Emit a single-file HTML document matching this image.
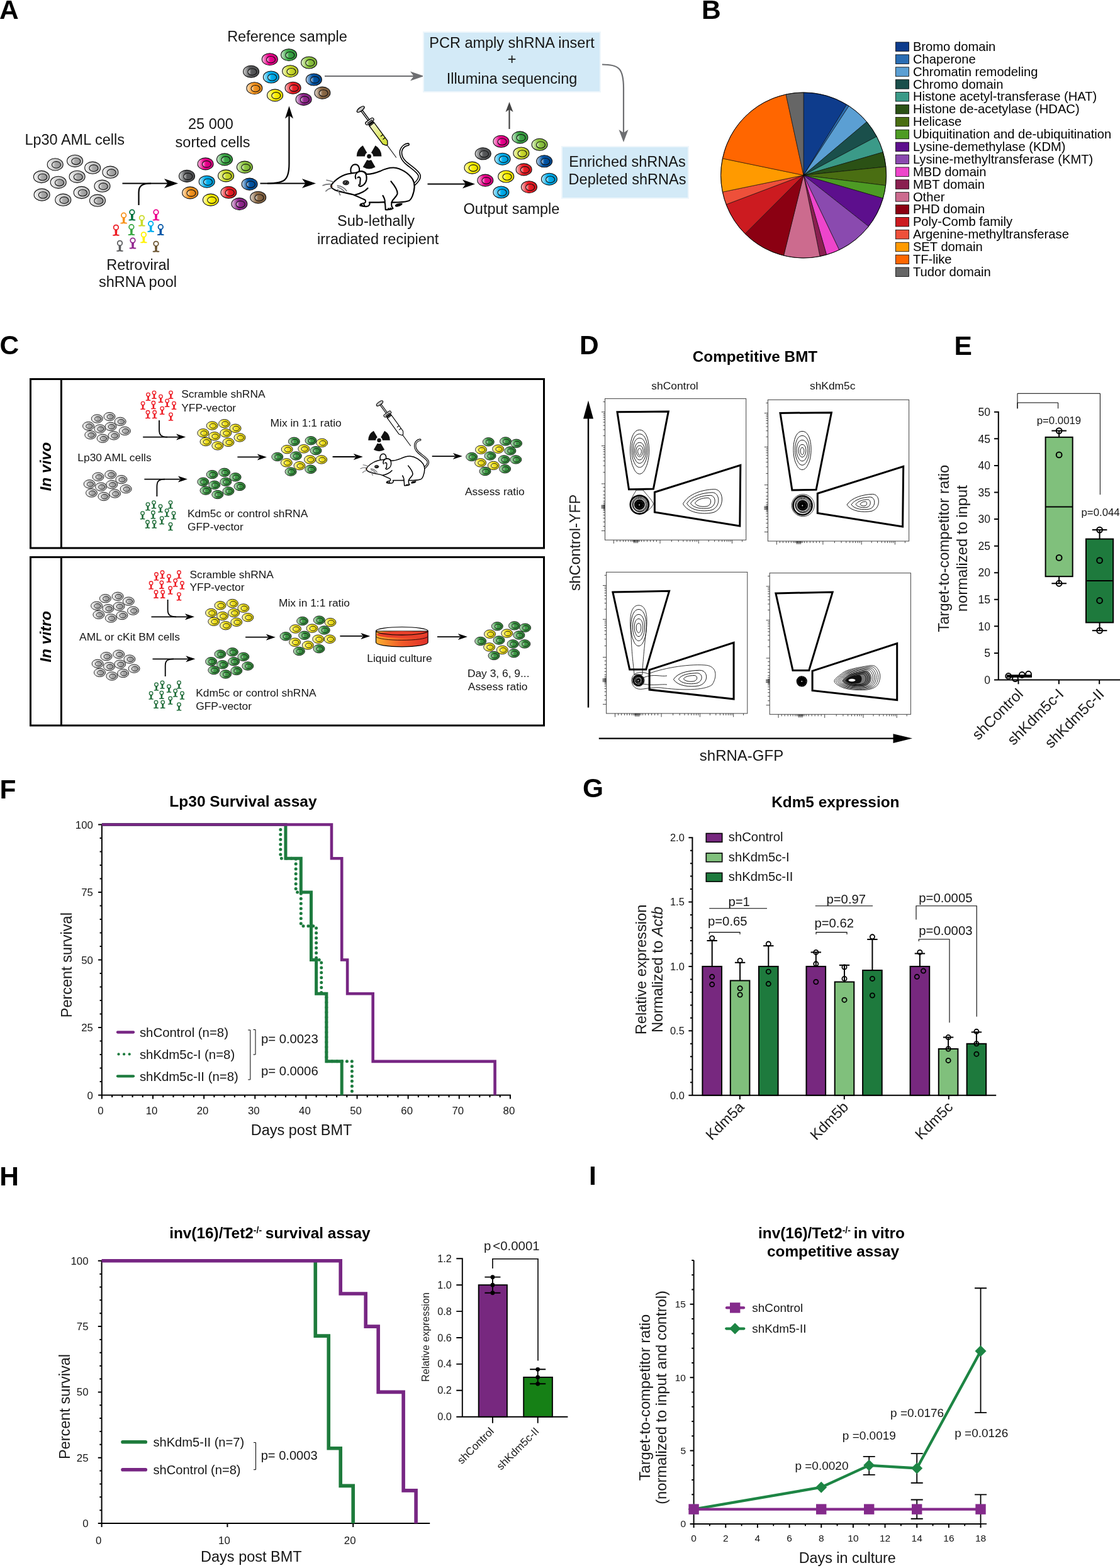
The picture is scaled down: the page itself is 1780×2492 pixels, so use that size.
<!DOCTYPE html>
<html><head><meta charset="utf-8"><title>Figure</title>
<style>html,body{margin:0;padding:0;background:#fff;} svg{display:block;}</style></head>
<body><svg width="1780" height="2492" viewBox="0 0 1780 2492" font-family="'Liberation Sans', Arial, Helvetica, sans-serif">
<rect width="1780" height="2492" fill="#fff"/>
<defs><linearGradient id="g0" x1="0" y1="0" x2="1" y2="0"><stop offset="0" stop-color="#f4f4f4"/><stop offset="0.4" stop-color="#d2d2d2"/><stop offset="1" stop-color="#b9b9b9"/></linearGradient><linearGradient id="g1" x1="0" y1="0" x2="1" y2="0"><stop offset="0" stop-color="#eaeaea"/><stop offset="0.4" stop-color="#a9a9a9"/><stop offset="1" stop-color="#959595"/></linearGradient><linearGradient id="g2" x1="0" y1="0" x2="1" y2="0"><stop offset="0" stop-color="#fabfe2"/><stop offset="0.4" stop-color="#ec008c"/><stop offset="1" stop-color="#d0007b"/></linearGradient><linearGradient id="g3" x1="0" y1="0" x2="1" y2="0"><stop offset="0" stop-color="#cee9d0"/><stop offset="0.4" stop-color="#3aa745"/><stop offset="1" stop-color="#33933d"/></linearGradient><linearGradient id="g4" x1="0" y1="0" x2="1" y2="0"><stop offset="0" stop-color="#e2f1cf"/><stop offset="0.4" stop-color="#8dc63f"/><stop offset="1" stop-color="#7cae37"/></linearGradient><linearGradient id="g5" x1="0" y1="0" x2="1" y2="0"><stop offset="0" stop-color="#d5d6d6"/><stop offset="0.4" stop-color="#58595b"/><stop offset="1" stop-color="#4d4e50"/></linearGradient><linearGradient id="g6" x1="0" y1="0" x2="1" y2="0"><stop offset="0" stop-color="#bfebfb"/><stop offset="0.4" stop-color="#00aeef"/><stop offset="1" stop-color="#0099d2"/></linearGradient><linearGradient id="g7" x1="0" y1="0" x2="1" y2="0"><stop offset="0" stop-color="#f2f6ca"/><stop offset="0.4" stop-color="#cbdb2a"/><stop offset="1" stop-color="#b3c125"/></linearGradient><linearGradient id="g8" x1="0" y1="0" x2="1" y2="0"><stop offset="0" stop-color="#bfd4e9"/><stop offset="0.4" stop-color="#0054a6"/><stop offset="1" stop-color="#004a92"/></linearGradient><linearGradient id="g9" x1="0" y1="0" x2="1" y2="0"><stop offset="0" stop-color="#fde4c6"/><stop offset="0.4" stop-color="#f7941d"/><stop offset="1" stop-color="#d9821a"/></linearGradient><linearGradient id="g10" x1="0" y1="0" x2="1" y2="0"><stop offset="0" stop-color="#fac6c8"/><stop offset="0.4" stop-color="#ed1c24"/><stop offset="1" stop-color="#d11920"/></linearGradient><linearGradient id="g11" x1="0" y1="0" x2="1" y2="0"><stop offset="0" stop-color="#fffcbf"/><stop offset="0.4" stop-color="#fff200"/><stop offset="1" stop-color="#e0d500"/></linearGradient><linearGradient id="g12" x1="0" y1="0" x2="1" y2="0"><stop offset="0" stop-color="#e4c9e3"/><stop offset="0.4" stop-color="#92278f"/><stop offset="1" stop-color="#80227e"/></linearGradient><linearGradient id="g13" x1="0" y1="0" x2="1" y2="0"><stop offset="0" stop-color="#e2dad1"/><stop offset="0.4" stop-color="#8c6a46"/><stop offset="1" stop-color="#7b5d3e"/></linearGradient><linearGradient id="g14" x1="0" y1="0" x2="1" y2="0"><stop offset="0" stop-color="#fcf8c6"/><stop offset="0.4" stop-color="#f4e31c"/><stop offset="1" stop-color="#d7c819"/></linearGradient><linearGradient id="g15" x1="0" y1="0" x2="1" y2="0"><stop offset="0" stop-color="#cee6d0"/><stop offset="0.4" stop-color="#3c9a44"/><stop offset="1" stop-color="#35883c"/></linearGradient><linearGradient id="syr" x1="0" y1="0" x2="1" y2="0"><stop offset="0" stop-color="#f4f7c8"/><stop offset="1" stop-color="#cfdc2c"/></linearGradient><linearGradient id="dish" x1="0" y1="0" x2="1" y2="0"><stop offset="0" stop-color="#fbb030"/><stop offset="0.5" stop-color="#f15a29"/><stop offset="1" stop-color="#e0302a"/></linearGradient></defs>
<text x="-1.0" y="29.8" font-size="42.5" font-weight="bold" fill="#000">A</text>
<text x="39.4" y="229.9" font-size="23.5" fill="#151515">Lp30 AML cells</text>
<ellipse cx="87.7" cy="261.4" rx="12.5" ry="9.6" fill="url(#g0)" stroke="#111" stroke-width="1.1"/>
<ellipse cx="89.5" cy="261.9" rx="7.00" ry="5.28" fill="url(#g1)" stroke="#111" stroke-width="1.1"/>
<ellipse cx="119.1" cy="255.8" rx="12.5" ry="9.6" fill="url(#g0)" stroke="#111" stroke-width="1.1"/>
<ellipse cx="120.8" cy="256.3" rx="7.00" ry="5.28" fill="url(#g1)" stroke="#111" stroke-width="1.1"/>
<ellipse cx="147.2" cy="266.7" rx="12.5" ry="9.6" fill="url(#g0)" stroke="#111" stroke-width="1.1"/>
<ellipse cx="148.9" cy="267.2" rx="7.00" ry="5.28" fill="url(#g1)" stroke="#111" stroke-width="1.1"/>
<ellipse cx="175.4" cy="273.7" rx="12.5" ry="9.6" fill="url(#g0)" stroke="#111" stroke-width="1.1"/>
<ellipse cx="177.2" cy="274.2" rx="7.00" ry="5.28" fill="url(#g1)" stroke="#111" stroke-width="1.1"/>
<ellipse cx="65.9" cy="281.0" rx="12.5" ry="9.6" fill="url(#g0)" stroke="#111" stroke-width="1.1"/>
<ellipse cx="67.7" cy="281.5" rx="7.00" ry="5.28" fill="url(#g1)" stroke="#111" stroke-width="1.1"/>
<ellipse cx="92.7" cy="289.8" rx="12.5" ry="9.6" fill="url(#g0)" stroke="#111" stroke-width="1.1"/>
<ellipse cx="94.5" cy="290.3" rx="7.00" ry="5.28" fill="url(#g1)" stroke="#111" stroke-width="1.1"/>
<ellipse cx="122.6" cy="280.8" rx="12.5" ry="9.6" fill="url(#g0)" stroke="#111" stroke-width="1.1"/>
<ellipse cx="124.3" cy="281.3" rx="7.00" ry="5.28" fill="url(#g1)" stroke="#111" stroke-width="1.1"/>
<ellipse cx="162.5" cy="295.7" rx="12.5" ry="9.6" fill="url(#g0)" stroke="#111" stroke-width="1.1"/>
<ellipse cx="164.2" cy="296.2" rx="7.00" ry="5.28" fill="url(#g1)" stroke="#111" stroke-width="1.1"/>
<ellipse cx="66.6" cy="309.5" rx="12.5" ry="9.6" fill="url(#g0)" stroke="#111" stroke-width="1.1"/>
<ellipse cx="68.3" cy="310.0" rx="7.00" ry="5.28" fill="url(#g1)" stroke="#111" stroke-width="1.1"/>
<ellipse cx="100.3" cy="317.7" rx="12.5" ry="9.6" fill="url(#g0)" stroke="#111" stroke-width="1.1"/>
<ellipse cx="102.0" cy="318.2" rx="7.00" ry="5.28" fill="url(#g1)" stroke="#111" stroke-width="1.1"/>
<ellipse cx="129.7" cy="306.0" rx="12.5" ry="9.6" fill="url(#g0)" stroke="#111" stroke-width="1.1"/>
<ellipse cx="131.4" cy="306.5" rx="7.00" ry="5.28" fill="url(#g1)" stroke="#111" stroke-width="1.1"/>
<ellipse cx="155.0" cy="318.7" rx="12.5" ry="9.6" fill="url(#g0)" stroke="#111" stroke-width="1.1"/>
<ellipse cx="156.8" cy="319.2" rx="7.00" ry="5.28" fill="url(#g1)" stroke="#111" stroke-width="1.1"/>
<line x1="194.50" y1="291.50" x2="270.00" y2="291.50" stroke="#000" stroke-width="2.2"/>
<path d="M220.5,326 L220.5,306 C220.5,295 226,291.5 240,291.5" stroke="#000" stroke-width="2.2" fill="none"/>
<polygon points="283.00,291.50 261.00,299.00 266.50,291.50 261.00,284.00" fill="#000"/>
<g fill="#f7941d" stroke="none"><circle cx="196.7" cy="342.2" r="3.75" fill="none" stroke="#f7941d" stroke-width="1.80"/><path d="M194.70,345.95 L198.70,345.95 L198.30,352.80 Q198.90,353.70 201.10,353.70 A0.95,0.95 0 0 1 201.10,355.60 L197.60,355.60 L196.70,354.80 L195.80,355.60 L192.30,355.60 A0.95,0.95 0 0 1 192.30,353.70 Q194.50,353.70 195.10,352.80 Z"/></g>
<g fill="#00703c" stroke="none"><circle cx="209.9" cy="337.2" r="3.75" fill="none" stroke="#00703c" stroke-width="1.80"/><path d="M207.90,340.95 L211.90,340.95 L211.50,347.80 Q212.10,348.70 214.30,348.70 A0.95,0.95 0 0 1 214.30,350.60 L210.80,350.60 L209.90,349.80 L209.00,350.60 L205.50,350.60 A0.95,0.95 0 0 1 205.50,348.70 Q207.70,348.70 208.30,347.80 Z"/></g>
<g fill="#cbdb2a" stroke="none"><circle cx="225.4" cy="346.3" r="3.75" fill="none" stroke="#cbdb2a" stroke-width="1.80"/><path d="M223.40,350.05 L227.40,350.05 L227.00,356.90 Q227.60,357.80 229.80,357.80 A0.95,0.95 0 0 1 229.80,359.70 L226.30,359.70 L225.40,358.90 L224.50,359.70 L221.00,359.70 A0.95,0.95 0 0 1 221.00,357.80 Q223.20,357.80 223.80,356.90 Z"/></g>
<g fill="#ec008c" stroke="none"><circle cx="248.0" cy="337.2" r="3.75" fill="none" stroke="#ec008c" stroke-width="1.80"/><path d="M246.00,340.95 L250.00,340.95 L249.60,347.80 Q250.20,348.70 252.40,348.70 A0.95,0.95 0 0 1 252.40,350.60 L248.90,350.60 L248.00,349.80 L247.10,350.60 L243.60,350.60 A0.95,0.95 0 0 1 243.60,348.70 Q245.80,348.70 246.40,347.80 Z"/></g>
<g fill="#ed1c24" stroke="none"><circle cx="184.4" cy="361.4" r="3.75" fill="none" stroke="#ed1c24" stroke-width="1.80"/><path d="M182.40,365.15 L186.40,365.15 L186.00,372.00 Q186.60,372.90 188.80,372.90 A0.95,0.95 0 0 1 188.80,374.80 L185.30,374.80 L184.40,374.00 L183.50,374.80 L180.00,374.80 A0.95,0.95 0 0 1 180.00,372.90 Q182.20,372.90 182.80,372.00 Z"/></g>
<g fill="#39a843" stroke="none"><circle cx="208.9" cy="360.7" r="3.75" fill="none" stroke="#39a843" stroke-width="1.80"/><path d="M206.90,364.45 L210.90,364.45 L210.50,371.30 Q211.10,372.20 213.30,372.20 A0.95,0.95 0 0 1 213.30,374.10 L209.80,374.10 L208.90,373.30 L208.00,374.10 L204.50,374.10 A0.95,0.95 0 0 1 204.50,372.20 Q206.70,372.20 207.30,371.30 Z"/></g>
<g fill="#00aeef" stroke="none"><circle cx="239.7" cy="355.5" r="3.75" fill="none" stroke="#00aeef" stroke-width="1.80"/><path d="M237.70,359.25 L241.70,359.25 L241.30,366.10 Q241.90,367.00 244.10,367.00 A0.95,0.95 0 0 1 244.10,368.90 L240.60,368.90 L239.70,368.10 L238.80,368.90 L235.30,368.90 A0.95,0.95 0 0 1 235.30,367.00 Q237.50,367.00 238.10,366.10 Z"/></g>
<g fill="#0054a6" stroke="none"><circle cx="255.3" cy="360.7" r="3.75" fill="none" stroke="#0054a6" stroke-width="1.80"/><path d="M253.30,364.45 L257.30,364.45 L256.90,371.30 Q257.50,372.20 259.70,372.20 A0.95,0.95 0 0 1 259.70,374.10 L256.20,374.10 L255.30,373.30 L254.40,374.10 L250.90,374.10 A0.95,0.95 0 0 1 250.90,372.20 Q253.10,372.20 253.70,371.30 Z"/></g>
<g fill="#fff200" stroke="none"><circle cx="228.4" cy="372.9" r="3.75" fill="none" stroke="#fff200" stroke-width="1.80"/><path d="M226.40,376.65 L230.40,376.65 L230.00,383.50 Q230.60,384.40 232.80,384.40 A0.95,0.95 0 0 1 232.80,386.30 L229.30,386.30 L228.40,385.50 L227.50,386.30 L224.00,386.30 A0.95,0.95 0 0 1 224.00,384.40 Q226.20,384.40 226.80,383.50 Z"/></g>
<g fill="#92278f" stroke="none"><circle cx="211.0" cy="382.1" r="3.75" fill="none" stroke="#92278f" stroke-width="1.80"/><path d="M209.00,385.85 L213.00,385.85 L212.60,392.70 Q213.20,393.60 215.40,393.60 A0.95,0.95 0 0 1 215.40,395.50 L211.90,395.50 L211.00,394.70 L210.10,395.50 L206.60,395.50 A0.95,0.95 0 0 1 206.60,393.60 Q208.80,393.60 209.40,392.70 Z"/></g>
<g fill="#5d5e60" stroke="none"><circle cx="190.5" cy="386.4" r="3.75" fill="none" stroke="#5d5e60" stroke-width="1.80"/><path d="M188.50,390.15 L192.50,390.15 L192.10,397.00 Q192.70,397.90 194.90,397.90 A0.95,0.95 0 0 1 194.90,399.80 L191.40,399.80 L190.50,399.00 L189.60,399.80 L186.10,399.80 A0.95,0.95 0 0 1 186.10,397.90 Q188.30,397.90 188.90,397.00 Z"/></g>
<g fill="#6b5430" stroke="none"><circle cx="248.0" cy="387.3" r="3.75" fill="none" stroke="#6b5430" stroke-width="1.80"/><path d="M246.00,391.05 L250.00,391.05 L249.60,397.90 Q250.20,398.80 252.40,398.80 A0.95,0.95 0 0 1 252.40,400.70 L248.90,400.70 L248.00,399.90 L247.10,400.70 L243.60,400.70 A0.95,0.95 0 0 1 243.60,398.80 Q245.80,398.80 246.40,397.90 Z"/></g>
<text x="219.5" y="429.0" font-size="23.5" text-anchor="middle" fill="#151515">Retroviral</text>
<text x="219.0" y="456.0" font-size="23.5" text-anchor="middle" fill="#151515">shRNA pool</text>
<text x="335.0" y="205.0" font-size="23.5" text-anchor="middle" fill="#151515">25 000</text>
<text x="338.0" y="234.0" font-size="23.5" text-anchor="middle" fill="#151515">sorted cells</text>
<ellipse cx="326.6" cy="260.4" rx="12.5" ry="9.5" fill="url(#g2)" stroke="#111" stroke-width="1.1"/>
<ellipse cx="328.4" cy="260.9" rx="7.00" ry="5.23" fill="url(#g2)" stroke="#111" stroke-width="1.1"/>
<ellipse cx="357.0" cy="253.4" rx="12.5" ry="9.5" fill="url(#g3)" stroke="#111" stroke-width="1.1"/>
<ellipse cx="358.8" cy="253.9" rx="7.00" ry="5.23" fill="url(#g3)" stroke="#111" stroke-width="1.1"/>
<ellipse cx="388.9" cy="265.6" rx="12.5" ry="9.5" fill="url(#g4)" stroke="#111" stroke-width="1.1"/>
<ellipse cx="390.7" cy="266.1" rx="7.00" ry="5.23" fill="url(#g4)" stroke="#111" stroke-width="1.1"/>
<ellipse cx="297.0" cy="279.9" rx="12.5" ry="9.5" fill="url(#g5)" stroke="#111" stroke-width="1.1"/>
<ellipse cx="298.8" cy="280.4" rx="7.00" ry="5.23" fill="url(#g5)" stroke="#111" stroke-width="1.1"/>
<ellipse cx="328.7" cy="288.7" rx="12.5" ry="9.5" fill="url(#g6)" stroke="#111" stroke-width="1.1"/>
<ellipse cx="330.5" cy="289.2" rx="7.00" ry="5.23" fill="url(#g6)" stroke="#111" stroke-width="1.1"/>
<ellipse cx="359.1" cy="279.4" rx="12.5" ry="9.5" fill="url(#g7)" stroke="#111" stroke-width="1.1"/>
<ellipse cx="360.9" cy="279.9" rx="7.00" ry="5.23" fill="url(#g7)" stroke="#111" stroke-width="1.1"/>
<ellipse cx="396.6" cy="292.6" rx="12.5" ry="9.5" fill="url(#g8)" stroke="#111" stroke-width="1.1"/>
<ellipse cx="398.4" cy="293.1" rx="7.00" ry="5.23" fill="url(#g8)" stroke="#111" stroke-width="1.1"/>
<ellipse cx="302.2" cy="306.4" rx="12.5" ry="9.5" fill="url(#g9)" stroke="#111" stroke-width="1.1"/>
<ellipse cx="304.0" cy="306.9" rx="7.00" ry="5.23" fill="url(#g9)" stroke="#111" stroke-width="1.1"/>
<ellipse cx="363.4" cy="305.8" rx="12.5" ry="9.5" fill="url(#g10)" stroke="#111" stroke-width="1.1"/>
<ellipse cx="365.2" cy="306.3" rx="7.00" ry="5.23" fill="url(#g10)" stroke="#111" stroke-width="1.1"/>
<ellipse cx="334.9" cy="317.6" rx="12.5" ry="9.5" fill="url(#g11)" stroke="#111" stroke-width="1.1"/>
<ellipse cx="336.7" cy="318.1" rx="7.00" ry="5.23" fill="url(#g11)" stroke="#111" stroke-width="1.1"/>
<ellipse cx="380.4" cy="324.1" rx="12.5" ry="9.5" fill="url(#g12)" stroke="#111" stroke-width="1.1"/>
<ellipse cx="382.2" cy="324.6" rx="7.00" ry="5.23" fill="url(#g12)" stroke="#111" stroke-width="1.1"/>
<ellipse cx="410.2" cy="313.7" rx="12.5" ry="9.5" fill="url(#g13)" stroke="#111" stroke-width="1.1"/>
<ellipse cx="412.0" cy="314.2" rx="7.00" ry="5.23" fill="url(#g13)" stroke="#111" stroke-width="1.1"/>
<line x1="413.50" y1="291.50" x2="488.00" y2="291.50" stroke="#000" stroke-width="2.2"/>
<polygon points="502.00,291.50 480.00,299.00 485.50,291.50 480.00,284.00" fill="#000"/>
<path d="M425,291.5 C452,291.5 459.5,287 459.5,260 L459.5,180" stroke="#000" stroke-width="2.2" fill="none"/>
<polygon points="459.50,168.50 466.00,188.50 459.50,183.50 453.00,188.50" fill="#000"/>
<text x="456.5" y="66.0" font-size="23.5" text-anchor="middle" fill="#151515">Reference sample</text>
<ellipse cx="428.8" cy="94.2" rx="12.5" ry="9.5" fill="url(#g2)" stroke="#111" stroke-width="1.1"/>
<ellipse cx="430.5" cy="94.7" rx="7.00" ry="5.23" fill="url(#g2)" stroke="#111" stroke-width="1.1"/>
<ellipse cx="459.1" cy="87.2" rx="12.5" ry="9.5" fill="url(#g3)" stroke="#111" stroke-width="1.1"/>
<ellipse cx="460.9" cy="87.7" rx="7.00" ry="5.23" fill="url(#g3)" stroke="#111" stroke-width="1.1"/>
<ellipse cx="491.1" cy="99.5" rx="12.5" ry="9.5" fill="url(#g4)" stroke="#111" stroke-width="1.1"/>
<ellipse cx="492.8" cy="99.9" rx="7.00" ry="5.23" fill="url(#g4)" stroke="#111" stroke-width="1.1"/>
<ellipse cx="399.1" cy="113.8" rx="12.5" ry="9.5" fill="url(#g5)" stroke="#111" stroke-width="1.1"/>
<ellipse cx="400.9" cy="114.2" rx="7.00" ry="5.23" fill="url(#g5)" stroke="#111" stroke-width="1.1"/>
<ellipse cx="430.9" cy="122.5" rx="12.5" ry="9.5" fill="url(#g6)" stroke="#111" stroke-width="1.1"/>
<ellipse cx="432.6" cy="123.0" rx="7.00" ry="5.23" fill="url(#g6)" stroke="#111" stroke-width="1.1"/>
<ellipse cx="461.2" cy="113.2" rx="12.5" ry="9.5" fill="url(#g7)" stroke="#111" stroke-width="1.1"/>
<ellipse cx="463.0" cy="113.7" rx="7.00" ry="5.23" fill="url(#g7)" stroke="#111" stroke-width="1.1"/>
<ellipse cx="498.8" cy="126.5" rx="12.5" ry="9.5" fill="url(#g8)" stroke="#111" stroke-width="1.1"/>
<ellipse cx="500.5" cy="126.9" rx="7.00" ry="5.23" fill="url(#g8)" stroke="#111" stroke-width="1.1"/>
<ellipse cx="404.4" cy="140.2" rx="12.5" ry="9.5" fill="url(#g9)" stroke="#111" stroke-width="1.1"/>
<ellipse cx="406.1" cy="140.7" rx="7.00" ry="5.23" fill="url(#g9)" stroke="#111" stroke-width="1.1"/>
<ellipse cx="465.6" cy="139.7" rx="12.5" ry="9.5" fill="url(#g10)" stroke="#111" stroke-width="1.1"/>
<ellipse cx="467.3" cy="140.1" rx="7.00" ry="5.23" fill="url(#g10)" stroke="#111" stroke-width="1.1"/>
<ellipse cx="437.1" cy="151.4" rx="12.5" ry="9.5" fill="url(#g11)" stroke="#111" stroke-width="1.1"/>
<ellipse cx="438.8" cy="151.9" rx="7.00" ry="5.23" fill="url(#g11)" stroke="#111" stroke-width="1.1"/>
<ellipse cx="482.6" cy="157.9" rx="12.5" ry="9.5" fill="url(#g12)" stroke="#111" stroke-width="1.1"/>
<ellipse cx="484.3" cy="158.4" rx="7.00" ry="5.23" fill="url(#g12)" stroke="#111" stroke-width="1.1"/>
<ellipse cx="512.4" cy="147.6" rx="12.5" ry="9.5" fill="url(#g13)" stroke="#111" stroke-width="1.1"/>
<ellipse cx="514.1" cy="148.0" rx="7.00" ry="5.23" fill="url(#g13)" stroke="#111" stroke-width="1.1"/>
<line x1="516.00" y1="121.00" x2="660.00" y2="121.00" stroke="#6d6e71" stroke-width="2.2"/>
<polygon points="674.00,121.00 652.00,128.50 657.50,121.00 652.00,113.50" fill="#6d6e71"/>
<g transform="translate(505.00,160.00) scale(0.10776)" stroke-linecap="round" stroke-linejoin="round">
<path d="M1418,1240 C1470,1195 1512,1150 1498,1100 C1480,1040 1380,985 1300,915 C1240,860 1215,790 1228,735 C1245,680 1290,650 1332,645" fill="none" stroke="#000" stroke-width="44.8"/>
<path d="M1418,1240 C1470,1195 1512,1150 1498,1100 C1480,1040 1380,985 1300,915 C1240,860 1215,790 1228,735 C1245,680 1290,650 1332,645" fill="none" stroke="#fff" stroke-width="15.6"/>
<path d="M492,1068 C470,990 510,940 555,940 C600,942 622,990 612,1035 C600,1070 560,1075 492,1068 Z" fill="#fff" stroke="#000" stroke-width="19.5"/>
<path d="M195,1255 C230,1190 330,1110 440,1082 C480,1072 520,1066 560,1062 L600,1050 C640,1030 700,1045 718,1085 C780,1085 850,1070 920,1040 C990,1005 1060,985 1120,988 C1230,995 1340,1070 1400,1160 C1440,1230 1425,1330 1395,1410 C1375,1455 1350,1480 1330,1480 C1280,1495 1200,1500 1120,1500 L1090,1500 C1085,1530 1090,1570 1110,1590 C1080,1605 1030,1610 1000,1608 C995,1570 1000,1520 985,1495 C930,1500 850,1500 760,1500 C775,1525 760,1555 720,1560 C690,1562 650,1556 625,1548 C620,1530 640,1515 690,1510 C715,1495 705,1470 695,1462 C620,1430 560,1400 520,1385 C440,1365 330,1345 260,1320 C220,1300 190,1280 195,1255 Z" fill="#fff" stroke="#000" stroke-width="19.5"/>
<path d="M560,1150 C545,1110 560,1070 600,1050 C650,1030 705,1050 718,1110 C730,1180 700,1240 640,1262 C615,1268 600,1255 608,1238" fill="#fff" stroke="#000" stroke-width="19.5"/>
<path d="M590,1135 C605,1120 625,1125 628,1150 C630,1180 618,1210 625,1235" fill="none" stroke="#000" stroke-width="19.5"/>
<path d="M545,1390 C630,1370 700,1335 738,1290" fill="none" stroke="#000" stroke-width="19.5"/>
<path d="M1080,1190 C1130,1250 1180,1320 1175,1370 C1165,1420 1110,1440 1090,1500" fill="none" stroke="#000" stroke-width="19.5"/>
<path d="M960,1400 C985,1440 995,1470 990,1500" fill="none" stroke="#000" stroke-width="19.5"/>
<path d="M640,1530 L660,1550 M680,1528 L690,1552 M1040,1590 L1060,1605 M1070,1585 L1085,1600" fill="none" stroke="#000" stroke-width="19.5"/>
<ellipse cx="415" cy="1210" rx="42" ry="30" fill="#555" stroke="#000" stroke-width="11.7"/>
<ellipse cx="415" cy="1210" rx="22" ry="17" fill="#000"/><circle cx="410" cy="1205" r="7" fill="#fff"/>
<ellipse cx="205" cy="1262" rx="14" ry="10" fill="#5a2a10"/>
<path d="M1140,1545 C1150,1518 1215,1508 1250,1516 C1252,1540 1210,1565 1160,1565 C1146,1565 1138,1556 1140,1545 Z" fill="#000"/>
<path d="M75,1250 C110,1235 150,1228 190,1232" fill="none" stroke="#6d6e71" stroke-width="14.6"/>
<path d="M130,1172 C170,1178 205,1190 232,1200" fill="none" stroke="#6d6e71" stroke-width="14.6"/>
<path d="M120,1335 C140,1310 165,1298 198,1290" fill="none" stroke="#6d6e71" stroke-width="14.6"/>
<path d="M290,1252 C350,1260 400,1290 425,1332" fill="none" stroke="#6d6e71" stroke-width="14.6"/>
<path d="M295,1275 C340,1290 375,1315 395,1345" fill="none" stroke="#6d6e71" stroke-width="14.6"/>
<path d="M295,1310 C310,1340 320,1365 330,1392" fill="none" stroke="#6d6e71" stroke-width="14.6"/>
</g>
<path d="M589.90,254.12 L596.50,265.55 A19.8,19.8 0 0 1 576.70,265.55 L583.30,254.12 A6.6,6.6 0 0 0 589.90,254.12 Z M580.00,248.40 L566.80,248.40 A19.8,19.8 0 0 1 576.70,231.25 L583.30,242.68 A6.6,6.6 0 0 0 580.00,248.40 Z M589.90,242.68 L596.50,231.25 A19.8,19.8 0 0 1 606.40,248.40 L593.20,248.40 A6.6,6.6 0 0 0 589.90,242.68 Z" fill="#111"/>
<circle cx="586.6" cy="248.4" r="3.4" fill="#111"/>
<g transform="translate(572.30,172.40) rotate(53.60) scale(1.0000)" stroke="#000" stroke-width="1.30" stroke-linejoin="round">
<line x1="72" y1="0" x2="97" y2="0" stroke-width="1.00"/>
<rect x="2" y="-1.3" width="26" height="2.6" fill="#e6e6e6"/>
<path d="M30,-4.6 L67,-4.6 L72,-1.2 L72,1.2 L67,4.6 L30,4.6 Z" fill="url(#syr)"/>
<line x1="55" y1="-4.6" x2="55" y2="0"/><line x1="61" y1="-4.6" x2="61" y2="0"/>
<path d="M29,-4.8 L29,4.8 M31.5,-4.6 L31.5,4.6" fill="none"/>
<rect x="23" y="-7.5" width="5" height="15" rx="2.5" fill="#fff"/>
<rect x="25" y="-5" width="2" height="10" fill="#333" stroke="none"/>
<ellipse cx="1.5" cy="0" rx="2.8" ry="7" fill="#c8c8c8"/>
</g>
<text x="597.5" y="359.0" font-size="23.5" text-anchor="middle" fill="#151515">Sub-lethally</text>
<text x="600.7" y="387.5" font-size="23.5" text-anchor="middle" fill="#151515">irradiated recipient</text>
<line x1="679.50" y1="292.50" x2="742.00" y2="292.50" stroke="#000" stroke-width="2.2"/>
<polygon points="755.00,292.50 735.00,299.50 740.00,292.50 735.00,285.50" fill="#000"/>
<ellipse cx="796.4" cy="224.8" rx="12.5" ry="9.5" fill="url(#g2)" stroke="#111" stroke-width="1.1"/>
<ellipse cx="798.1" cy="225.3" rx="7.00" ry="5.23" fill="url(#g2)" stroke="#111" stroke-width="1.1"/>
<ellipse cx="826.4" cy="218.4" rx="12.5" ry="9.5" fill="url(#g3)" stroke="#111" stroke-width="1.1"/>
<ellipse cx="828.1" cy="218.9" rx="7.00" ry="5.23" fill="url(#g3)" stroke="#111" stroke-width="1.1"/>
<ellipse cx="857.6" cy="229.8" rx="12.5" ry="9.5" fill="url(#g4)" stroke="#111" stroke-width="1.1"/>
<ellipse cx="859.4" cy="230.3" rx="7.00" ry="5.23" fill="url(#g4)" stroke="#111" stroke-width="1.1"/>
<ellipse cx="767.7" cy="244.3" rx="12.5" ry="9.5" fill="url(#g5)" stroke="#111" stroke-width="1.1"/>
<ellipse cx="769.5" cy="244.8" rx="7.00" ry="5.23" fill="url(#g5)" stroke="#111" stroke-width="1.1"/>
<ellipse cx="798.6" cy="252.7" rx="12.5" ry="9.5" fill="url(#g6)" stroke="#111" stroke-width="1.1"/>
<ellipse cx="800.4" cy="253.2" rx="7.00" ry="5.23" fill="url(#g6)" stroke="#111" stroke-width="1.1"/>
<ellipse cx="828.4" cy="243.5" rx="12.5" ry="9.5" fill="url(#g7)" stroke="#111" stroke-width="1.1"/>
<ellipse cx="830.1" cy="244.0" rx="7.00" ry="5.23" fill="url(#g7)" stroke="#111" stroke-width="1.1"/>
<ellipse cx="865.1" cy="256.3" rx="12.5" ry="9.5" fill="url(#g8)" stroke="#111" stroke-width="1.1"/>
<ellipse cx="866.9" cy="256.8" rx="7.00" ry="5.23" fill="url(#g8)" stroke="#111" stroke-width="1.1"/>
<ellipse cx="750.5" cy="266.6" rx="12.5" ry="9.5" fill="url(#g11)" stroke="#111" stroke-width="1.1"/>
<ellipse cx="752.2" cy="267.1" rx="7.00" ry="5.23" fill="url(#g11)" stroke="#111" stroke-width="1.1"/>
<ellipse cx="832.6" cy="269.4" rx="12.5" ry="9.5" fill="url(#g10)" stroke="#111" stroke-width="1.1"/>
<ellipse cx="834.4" cy="269.9" rx="7.00" ry="5.23" fill="url(#g10)" stroke="#111" stroke-width="1.1"/>
<ellipse cx="771.3" cy="286.6" rx="12.5" ry="9.5" fill="url(#g2)" stroke="#111" stroke-width="1.1"/>
<ellipse cx="773.0" cy="287.1" rx="7.00" ry="5.23" fill="url(#g2)" stroke="#111" stroke-width="1.1"/>
<ellipse cx="804.2" cy="280.5" rx="12.5" ry="9.5" fill="url(#g11)" stroke="#111" stroke-width="1.1"/>
<ellipse cx="806.0" cy="281.0" rx="7.00" ry="5.23" fill="url(#g11)" stroke="#111" stroke-width="1.1"/>
<ellipse cx="872.9" cy="284.7" rx="12.5" ry="9.5" fill="url(#g6)" stroke="#111" stroke-width="1.1"/>
<ellipse cx="874.6" cy="285.2" rx="7.00" ry="5.23" fill="url(#g6)" stroke="#111" stroke-width="1.1"/>
<ellipse cx="796.4" cy="305.5" rx="12.5" ry="9.5" fill="url(#g6)" stroke="#111" stroke-width="1.1"/>
<ellipse cx="798.1" cy="306.0" rx="7.00" ry="5.23" fill="url(#g6)" stroke="#111" stroke-width="1.1"/>
<ellipse cx="840.9" cy="297.2" rx="12.5" ry="9.5" fill="url(#g10)" stroke="#111" stroke-width="1.1"/>
<ellipse cx="842.6" cy="297.7" rx="7.00" ry="5.23" fill="url(#g10)" stroke="#111" stroke-width="1.1"/>
<text x="813.0" y="340.3" font-size="23.5" text-anchor="middle" fill="#151515">Output sample</text>
<line x1="809.50" y1="205.00" x2="809.50" y2="172.00" stroke="#444" stroke-width="2.2"/>
<polygon points="809.50,162.00 815.50,178.00 809.50,174.00 803.50,178.00" fill="#444"/>
<rect x="673" y="51" width="281" height="95" fill="#d3eaf7" stroke="#eef6fb" stroke-width="2"/>
<text x="813.5" y="76.0" font-size="23.5" text-anchor="middle" fill="#151515">PCR amply shRNA insert</text>
<text x="813.5" y="102.0" font-size="23.5" text-anchor="middle" fill="#151515">+</text>
<text x="813.5" y="133.0" font-size="23.5" text-anchor="middle" fill="#151515">Illumina sequencing</text>
<path d="M957,102.5 C983,102.5 991,108 991,140 L991,212" stroke="#6d6e71" stroke-width="2.2" fill="none"/>
<polygon points="991.00,226.00 983.50,206.00 991.00,211.00 998.50,206.00" fill="#6d6e71"/>
<rect x="893" y="233" width="201" height="82" fill="#d3eaf7" stroke="#eef6fb" stroke-width="2"/>
<text x="997.0" y="264.6" font-size="23.5" text-anchor="middle" fill="#151515">Enriched shRNAs</text>
<text x="997.0" y="293.0" font-size="23.5" text-anchor="middle" fill="#151515">Depleted shRNAs</text>
<text x="1115.0" y="29.8" font-size="42.5" font-weight="bold" fill="#000">B</text>
<path d="M1277.1,278.5 L1277.10,147.00 A131.5,131.5 0 0 1 1345.61,166.26 Z" fill="#0e3c8c" stroke="#000" stroke-width="0.6"/>
<path d="M1277.1,278.5 L1345.61,166.26 A131.5,131.5 0 0 1 1349.10,168.47 Z" fill="#2a6db3" stroke="#000" stroke-width="0.6"/>
<path d="M1277.1,278.5 L1349.10,168.47 A131.5,131.5 0 0 1 1377.54,193.62 Z" fill="#5b9fd3" stroke="#000" stroke-width="0.6"/>
<path d="M1277.1,278.5 L1377.54,193.62 A131.5,131.5 0 0 1 1393.32,216.97 Z" fill="#1a4f4b" stroke="#000" stroke-width="0.6"/>
<path d="M1277.1,278.5 L1393.32,216.97 A131.5,131.5 0 0 1 1403.38,241.81 Z" fill="#3b9a88" stroke="#000" stroke-width="0.6"/>
<path d="M1277.1,278.5 L1403.38,241.81 A131.5,131.5 0 0 1 1407.90,264.98 Z" fill="#2b5115" stroke="#000" stroke-width="0.6"/>
<path d="M1277.1,278.5 L1407.90,264.98 A131.5,131.5 0 0 1 1407.59,294.75 Z" fill="#4a6e12" stroke="#000" stroke-width="0.6"/>
<path d="M1277.1,278.5 L1407.59,294.75 A131.5,131.5 0 0 1 1403.38,315.19 Z" fill="#4d9b24" stroke="#000" stroke-width="0.6"/>
<path d="M1277.1,278.5 L1403.38,315.19 A131.5,131.5 0 0 1 1380.44,359.82 Z" fill="#5d0f8d" stroke="#000" stroke-width="0.6"/>
<path d="M1277.1,278.5 L1380.44,359.82 A131.5,131.5 0 0 1 1333.71,397.19 Z" fill="#8a4aaf" stroke="#000" stroke-width="0.6"/>
<path d="M1277.1,278.5 L1333.71,397.19 A131.5,131.5 0 0 1 1313.57,404.84 Z" fill="#ee45cb" stroke="#000" stroke-width="0.6"/>
<path d="M1277.1,278.5 L1313.57,404.84 A131.5,131.5 0 0 1 1303.09,407.41 Z" fill="#8a2050" stroke="#000" stroke-width="0.6"/>
<path d="M1277.1,278.5 L1303.09,407.41 A131.5,131.5 0 0 1 1245.51,406.15 Z" fill="#cc6b8e" stroke="#000" stroke-width="0.6"/>
<path d="M1277.1,278.5 L1245.51,406.15 A131.5,131.5 0 0 1 1184.12,371.48 Z" fill="#8b0012" stroke="#000" stroke-width="0.6"/>
<path d="M1277.1,278.5 L1184.12,371.48 A131.5,131.5 0 0 1 1154.09,324.98 Z" fill="#cc1b20" stroke="#000" stroke-width="0.6"/>
<path d="M1277.1,278.5 L1154.09,324.98 A131.5,131.5 0 0 1 1148.33,305.17 Z" fill="#ee503a" stroke="#000" stroke-width="0.6"/>
<path d="M1277.1,278.5 L1148.33,305.17 A131.5,131.5 0 0 1 1148.33,251.83 Z" fill="#ff9a00" stroke="#000" stroke-width="0.6"/>
<path d="M1277.1,278.5 L1148.33,251.83 A131.5,131.5 0 0 1 1249.09,150.02 Z" fill="#ff6600" stroke="#000" stroke-width="0.6"/>
<path d="M1277.1,278.5 L1249.09,150.02 A131.5,131.5 0 0 1 1277.10,147.00 Z" fill="#666666" stroke="#000" stroke-width="0.6"/>
<circle cx="1277.1" cy="278.5" r="131.5" fill="none" stroke="#000" stroke-width="0.9"/>
<rect x="1423.5" y="67.00" width="21" height="14.5" fill="#0e3c8c" stroke="#000" stroke-width="0.8"/>
<text x="1450.9" y="80.8" font-size="20.2" fill="#000">Bromo domain</text>
<rect x="1423.5" y="86.89" width="21" height="14.5" fill="#2a6db3" stroke="#000" stroke-width="0.8"/>
<text x="1450.9" y="100.7" font-size="20.2" fill="#000">Chaperone</text>
<rect x="1423.5" y="106.78" width="21" height="14.5" fill="#5b9fd3" stroke="#000" stroke-width="0.8"/>
<text x="1450.9" y="120.6" font-size="20.2" fill="#000">Chromatin remodeling</text>
<rect x="1423.5" y="126.67" width="21" height="14.5" fill="#1a4f4b" stroke="#000" stroke-width="0.8"/>
<text x="1450.9" y="140.5" font-size="20.2" fill="#000">Chromo domain</text>
<rect x="1423.5" y="146.56" width="21" height="14.5" fill="#3b9a88" stroke="#000" stroke-width="0.8"/>
<text x="1450.9" y="160.4" font-size="20.2" fill="#000">Histone acetyl-transferase (HAT)</text>
<rect x="1423.5" y="166.45" width="21" height="14.5" fill="#2b5115" stroke="#000" stroke-width="0.8"/>
<text x="1450.9" y="180.2" font-size="20.2" fill="#000">Histone de-acetylase (HDAC)</text>
<rect x="1423.5" y="186.34" width="21" height="14.5" fill="#4a6e12" stroke="#000" stroke-width="0.8"/>
<text x="1450.9" y="200.1" font-size="20.2" fill="#000">Helicase</text>
<rect x="1423.5" y="206.23" width="21" height="14.5" fill="#4d9b24" stroke="#000" stroke-width="0.8"/>
<text x="1450.9" y="220.0" font-size="20.2" fill="#000">Ubiquitination and de-ubiquitination</text>
<rect x="1423.5" y="226.12" width="21" height="14.5" fill="#5d0f8d" stroke="#000" stroke-width="0.8"/>
<text x="1450.9" y="239.9" font-size="20.2" fill="#000">Lysine-demethylase (KDM)</text>
<rect x="1423.5" y="246.01" width="21" height="14.5" fill="#8a4aaf" stroke="#000" stroke-width="0.8"/>
<text x="1450.9" y="259.8" font-size="20.2" fill="#000">Lysine-methyltransferase (KMT)</text>
<rect x="1423.5" y="265.90" width="21" height="14.5" fill="#ee45cb" stroke="#000" stroke-width="0.8"/>
<text x="1450.9" y="279.7" font-size="20.2" fill="#000">MBD domain</text>
<rect x="1423.5" y="285.79" width="21" height="14.5" fill="#8a2050" stroke="#000" stroke-width="0.8"/>
<text x="1450.9" y="299.6" font-size="20.2" fill="#000">MBT domain</text>
<rect x="1423.5" y="305.68" width="21" height="14.5" fill="#cc6b8e" stroke="#000" stroke-width="0.8"/>
<text x="1450.9" y="319.5" font-size="20.2" fill="#000">Other</text>
<rect x="1423.5" y="325.57" width="21" height="14.5" fill="#8b0012" stroke="#000" stroke-width="0.8"/>
<text x="1450.9" y="339.4" font-size="20.2" fill="#000">PHD domain</text>
<rect x="1423.5" y="345.46" width="21" height="14.5" fill="#cc1b20" stroke="#000" stroke-width="0.8"/>
<text x="1450.9" y="359.3" font-size="20.2" fill="#000">Poly-Comb family</text>
<rect x="1423.5" y="365.35" width="21" height="14.5" fill="#ee503a" stroke="#000" stroke-width="0.8"/>
<text x="1450.9" y="379.2" font-size="20.2" fill="#000">Argenine-methyltransferase</text>
<rect x="1423.5" y="385.24" width="21" height="14.5" fill="#ff9a00" stroke="#000" stroke-width="0.8"/>
<text x="1450.9" y="399.0" font-size="20.2" fill="#000">SET domain</text>
<rect x="1423.5" y="405.13" width="21" height="14.5" fill="#ff6600" stroke="#000" stroke-width="0.8"/>
<text x="1450.9" y="418.9" font-size="20.2" fill="#000">TF-like</text>
<rect x="1423.5" y="425.02" width="21" height="14.5" fill="#666666" stroke="#000" stroke-width="0.8"/>
<text x="1450.9" y="438.8" font-size="20.2" fill="#000">Tudor domain</text>
<text x="-0.5" y="562.5" font-size="42.5" font-weight="bold" fill="#000">C</text>
<rect x="48.5" y="602.5" width="816" height="268.5" fill="none" stroke="#000" stroke-width="3"/>
<line x1="97.40" y1="602.50" x2="97.40" y2="871.00" stroke="#000" stroke-width="3"/>
<text x="81.5" y="741.7" font-size="24.5" font-weight="bold" font-style="italic" text-anchor="middle" fill="#000" transform="rotate(-90 81.5 741.7)">In vivo</text>
<rect x="48.5" y="885.5" width="816" height="267.5" fill="none" stroke="#000" stroke-width="3"/>
<line x1="97.40" y1="885.50" x2="97.40" y2="1153.00" stroke="#000" stroke-width="3"/>
<text x="81.5" y="1011.9" font-size="24.5" font-weight="bold" font-style="italic" text-anchor="middle" fill="#000" transform="rotate(-90 81.5 1011.9)">In vitro</text>
<ellipse cx="154.3" cy="665.5" rx="9" ry="6.7" fill="url(#g0)" stroke="#111" stroke-width="0.9"/>
<ellipse cx="155.6" cy="665.8" rx="5.04" ry="3.69" fill="url(#g1)" stroke="#111" stroke-width="0.9"/>
<ellipse cx="174.0" cy="662.1" rx="9" ry="6.7" fill="url(#g0)" stroke="#111" stroke-width="0.9"/>
<ellipse cx="175.3" cy="662.4" rx="5.04" ry="3.69" fill="url(#g1)" stroke="#111" stroke-width="0.9"/>
<ellipse cx="191.2" cy="669.9" rx="9" ry="6.7" fill="url(#g0)" stroke="#111" stroke-width="0.9"/>
<ellipse cx="192.5" cy="670.2" rx="5.04" ry="3.69" fill="url(#g1)" stroke="#111" stroke-width="0.9"/>
<ellipse cx="140.5" cy="677.1" rx="9" ry="6.7" fill="url(#g0)" stroke="#111" stroke-width="0.9"/>
<ellipse cx="141.8" cy="677.4" rx="5.04" ry="3.69" fill="url(#g1)" stroke="#111" stroke-width="0.9"/>
<ellipse cx="158.8" cy="681.5" rx="9" ry="6.7" fill="url(#g0)" stroke="#111" stroke-width="0.9"/>
<ellipse cx="160.1" cy="681.8" rx="5.04" ry="3.69" fill="url(#g1)" stroke="#111" stroke-width="0.9"/>
<ellipse cx="176.0" cy="677.9" rx="9" ry="6.7" fill="url(#g0)" stroke="#111" stroke-width="0.9"/>
<ellipse cx="177.3" cy="678.2" rx="5.04" ry="3.69" fill="url(#g1)" stroke="#111" stroke-width="0.9"/>
<ellipse cx="198.4" cy="684.9" rx="9" ry="6.7" fill="url(#g0)" stroke="#111" stroke-width="0.9"/>
<ellipse cx="199.7" cy="685.2" rx="5.04" ry="3.69" fill="url(#g1)" stroke="#111" stroke-width="0.9"/>
<ellipse cx="143.8" cy="691.2" rx="9" ry="6.7" fill="url(#g0)" stroke="#111" stroke-width="0.9"/>
<ellipse cx="145.1" cy="691.5" rx="5.04" ry="3.69" fill="url(#g1)" stroke="#111" stroke-width="0.9"/>
<ellipse cx="163.2" cy="696.8" rx="9" ry="6.7" fill="url(#g0)" stroke="#111" stroke-width="0.9"/>
<ellipse cx="164.5" cy="697.1" rx="5.04" ry="3.69" fill="url(#g1)" stroke="#111" stroke-width="0.9"/>
<ellipse cx="180.9" cy="692.3" rx="9" ry="6.7" fill="url(#g0)" stroke="#111" stroke-width="0.9"/>
<ellipse cx="182.2" cy="692.6" rx="5.04" ry="3.69" fill="url(#g1)" stroke="#111" stroke-width="0.9"/>
<ellipse cx="156.0" cy="757.7" rx="9" ry="6.7" fill="url(#g0)" stroke="#111" stroke-width="0.9"/>
<ellipse cx="157.3" cy="758.0" rx="5.04" ry="3.69" fill="url(#g1)" stroke="#111" stroke-width="0.9"/>
<ellipse cx="175.7" cy="754.3" rx="9" ry="6.7" fill="url(#g0)" stroke="#111" stroke-width="0.9"/>
<ellipse cx="177.0" cy="754.6" rx="5.04" ry="3.69" fill="url(#g1)" stroke="#111" stroke-width="0.9"/>
<ellipse cx="192.9" cy="762.1" rx="9" ry="6.7" fill="url(#g0)" stroke="#111" stroke-width="0.9"/>
<ellipse cx="194.2" cy="762.4" rx="5.04" ry="3.69" fill="url(#g1)" stroke="#111" stroke-width="0.9"/>
<ellipse cx="142.2" cy="769.3" rx="9" ry="6.7" fill="url(#g0)" stroke="#111" stroke-width="0.9"/>
<ellipse cx="143.5" cy="769.6" rx="5.04" ry="3.69" fill="url(#g1)" stroke="#111" stroke-width="0.9"/>
<ellipse cx="160.5" cy="773.7" rx="9" ry="6.7" fill="url(#g0)" stroke="#111" stroke-width="0.9"/>
<ellipse cx="161.8" cy="774.0" rx="5.04" ry="3.69" fill="url(#g1)" stroke="#111" stroke-width="0.9"/>
<ellipse cx="177.7" cy="770.1" rx="9" ry="6.7" fill="url(#g0)" stroke="#111" stroke-width="0.9"/>
<ellipse cx="179.0" cy="770.4" rx="5.04" ry="3.69" fill="url(#g1)" stroke="#111" stroke-width="0.9"/>
<ellipse cx="200.1" cy="777.1" rx="9" ry="6.7" fill="url(#g0)" stroke="#111" stroke-width="0.9"/>
<ellipse cx="201.4" cy="777.4" rx="5.04" ry="3.69" fill="url(#g1)" stroke="#111" stroke-width="0.9"/>
<ellipse cx="145.5" cy="783.4" rx="9" ry="6.7" fill="url(#g0)" stroke="#111" stroke-width="0.9"/>
<ellipse cx="146.8" cy="783.7" rx="5.04" ry="3.69" fill="url(#g1)" stroke="#111" stroke-width="0.9"/>
<ellipse cx="164.9" cy="789.0" rx="9" ry="6.7" fill="url(#g0)" stroke="#111" stroke-width="0.9"/>
<ellipse cx="166.2" cy="789.3" rx="5.04" ry="3.69" fill="url(#g1)" stroke="#111" stroke-width="0.9"/>
<ellipse cx="182.6" cy="784.5" rx="9" ry="6.7" fill="url(#g0)" stroke="#111" stroke-width="0.9"/>
<ellipse cx="183.9" cy="784.8" rx="5.04" ry="3.69" fill="url(#g1)" stroke="#111" stroke-width="0.9"/>
<g fill="#ed1c24" stroke="none"><circle cx="235.5" cy="627.1" r="2.77" fill="none" stroke="#ed1c24" stroke-width="1.33"/><path d="M234.02,629.88 L236.98,629.88 L236.68,634.94 Q237.13,635.61 238.76,635.61 A0.70,0.70 0 0 1 238.76,637.02 L236.17,637.02 L235.50,636.42 L234.83,637.02 L232.24,637.02 A0.70,0.70 0 0 1 232.24,635.61 Q233.87,635.61 234.32,634.94 Z"/></g>
<g fill="#ed1c24" stroke="none"><circle cx="245.0" cy="624.1" r="2.77" fill="none" stroke="#ed1c24" stroke-width="1.33"/><path d="M243.52,626.88 L246.48,626.88 L246.18,631.94 Q246.63,632.61 248.26,632.61 A0.70,0.70 0 0 1 248.26,634.02 L245.67,634.02 L245.00,633.42 L244.33,634.02 L241.74,634.02 A0.70,0.70 0 0 1 241.74,632.61 Q243.37,632.61 243.82,631.94 Z"/></g>
<g fill="#ed1c24" stroke="none"><circle cx="255.5" cy="630.1" r="2.77" fill="none" stroke="#ed1c24" stroke-width="1.33"/><path d="M254.02,632.88 L256.98,632.88 L256.68,637.94 Q257.13,638.61 258.76,638.61 A0.70,0.70 0 0 1 258.76,640.02 L256.17,640.02 L255.50,639.42 L254.83,640.02 L252.24,640.02 A0.70,0.70 0 0 1 252.24,638.61 Q253.87,638.61 254.32,637.94 Z"/></g>
<g fill="#ed1c24" stroke="none"><circle cx="271.5" cy="624.1" r="2.77" fill="none" stroke="#ed1c24" stroke-width="1.33"/><path d="M270.02,626.88 L272.98,626.88 L272.68,631.94 Q273.13,632.61 274.76,632.61 A0.70,0.70 0 0 1 274.76,634.02 L272.17,634.02 L271.50,633.42 L270.83,634.02 L268.24,634.02 A0.70,0.70 0 0 1 268.24,632.61 Q269.87,632.61 270.32,631.94 Z"/></g>
<g fill="#ed1c24" stroke="none"><circle cx="227.1" cy="641.1" r="2.77" fill="none" stroke="#ed1c24" stroke-width="1.33"/><path d="M225.62,643.88 L228.58,643.88 L228.28,648.94 Q228.73,649.61 230.36,649.61 A0.70,0.70 0 0 1 230.36,651.02 L227.77,651.02 L227.10,650.42 L226.43,651.02 L223.84,651.02 A0.70,0.70 0 0 1 223.84,649.61 Q225.47,649.61 225.92,648.94 Z"/></g>
<g fill="#ed1c24" stroke="none"><circle cx="243.9" cy="640.3" r="2.77" fill="none" stroke="#ed1c24" stroke-width="1.33"/><path d="M242.42,643.08 L245.38,643.08 L245.08,648.14 Q245.53,648.81 247.16,648.81 A0.70,0.70 0 0 1 247.16,650.22 L244.57,650.22 L243.90,649.62 L243.23,650.22 L240.64,650.22 A0.70,0.70 0 0 1 240.64,648.81 Q242.27,648.81 242.72,648.14 Z"/></g>
<g fill="#ed1c24" stroke="none"><circle cx="265.7" cy="637.1" r="2.77" fill="none" stroke="#ed1c24" stroke-width="1.33"/><path d="M264.22,639.88 L267.18,639.88 L266.88,644.94 Q267.33,645.61 268.96,645.61 A0.70,0.70 0 0 1 268.96,647.02 L266.37,647.02 L265.70,646.42 L265.03,647.02 L262.44,647.02 A0.70,0.70 0 0 1 262.44,645.61 Q264.07,645.61 264.52,644.94 Z"/></g>
<g fill="#ed1c24" stroke="none"><circle cx="276.5" cy="641.1" r="2.77" fill="none" stroke="#ed1c24" stroke-width="1.33"/><path d="M275.02,643.88 L277.98,643.88 L277.68,648.94 Q278.13,649.61 279.76,649.61 A0.70,0.70 0 0 1 279.76,651.02 L277.17,651.02 L276.50,650.42 L275.83,651.02 L273.24,651.02 A0.70,0.70 0 0 1 273.24,649.61 Q274.87,649.61 275.32,648.94 Z"/></g>
<g fill="#ed1c24" stroke="none"><circle cx="235.0" cy="655.3" r="2.77" fill="none" stroke="#ed1c24" stroke-width="1.33"/><path d="M233.52,658.08 L236.48,658.08 L236.18,663.14 Q236.63,663.81 238.26,663.81 A0.70,0.70 0 0 1 238.26,665.22 L235.67,665.22 L235.00,664.62 L234.33,665.22 L231.74,665.22 A0.70,0.70 0 0 1 231.74,663.81 Q233.37,663.81 233.82,663.14 Z"/></g>
<g fill="#ed1c24" stroke="none"><circle cx="245.7" cy="655.3" r="2.77" fill="none" stroke="#ed1c24" stroke-width="1.33"/><path d="M244.22,658.08 L247.18,658.08 L246.88,663.14 Q247.33,663.81 248.96,663.81 A0.70,0.70 0 0 1 248.96,665.22 L246.37,665.22 L245.70,664.62 L245.03,665.22 L242.44,665.22 A0.70,0.70 0 0 1 242.44,663.81 Q244.07,663.81 244.52,663.14 Z"/></g>
<g fill="#ed1c24" stroke="none"><circle cx="257.7" cy="649.1" r="2.77" fill="none" stroke="#ed1c24" stroke-width="1.33"/><path d="M256.22,651.88 L259.18,651.88 L258.88,656.94 Q259.33,657.61 260.96,657.61 A0.70,0.70 0 0 1 260.96,659.02 L258.37,659.02 L257.70,658.42 L257.03,659.02 L254.44,659.02 A0.70,0.70 0 0 1 254.44,657.61 Q256.07,657.61 256.52,656.94 Z"/></g>
<g fill="#ed1c24" stroke="none"><circle cx="271.5" cy="658.9" r="2.77" fill="none" stroke="#ed1c24" stroke-width="1.33"/><path d="M270.02,661.67 L272.98,661.67 L272.68,666.74 Q273.13,667.41 274.76,667.41 A0.70,0.70 0 0 1 274.76,668.82 L272.17,668.82 L271.50,668.22 L270.83,668.82 L268.24,668.82 A0.70,0.70 0 0 1 268.24,667.41 Q269.87,667.41 270.32,666.74 Z"/></g>
<g fill="#1d6b37" stroke="none"><circle cx="235.0" cy="801.6" r="2.77" fill="none" stroke="#1d6b37" stroke-width="1.33"/><path d="M233.52,804.38 L236.48,804.38 L236.18,809.44 Q236.63,810.11 238.26,810.11 A0.70,0.70 0 0 1 238.26,811.52 L235.67,811.52 L235.00,810.92 L234.33,811.52 L231.74,811.52 A0.70,0.70 0 0 1 231.74,810.11 Q233.37,810.11 233.82,809.44 Z"/></g>
<g fill="#1d6b37" stroke="none"><circle cx="244.5" cy="798.6" r="2.77" fill="none" stroke="#1d6b37" stroke-width="1.33"/><path d="M243.02,801.38 L245.98,801.38 L245.68,806.44 Q246.13,807.11 247.76,807.11 A0.70,0.70 0 0 1 247.76,808.52 L245.17,808.52 L244.50,807.92 L243.83,808.52 L241.24,808.52 A0.70,0.70 0 0 1 241.24,807.11 Q242.87,807.11 243.32,806.44 Z"/></g>
<g fill="#1d6b37" stroke="none"><circle cx="255.0" cy="804.6" r="2.77" fill="none" stroke="#1d6b37" stroke-width="1.33"/><path d="M253.52,807.38 L256.48,807.38 L256.18,812.44 Q256.63,813.11 258.26,813.11 A0.70,0.70 0 0 1 258.26,814.52 L255.67,814.52 L255.00,813.92 L254.33,814.52 L251.74,814.52 A0.70,0.70 0 0 1 251.74,813.11 Q253.37,813.11 253.82,812.44 Z"/></g>
<g fill="#1d6b37" stroke="none"><circle cx="271.0" cy="798.6" r="2.77" fill="none" stroke="#1d6b37" stroke-width="1.33"/><path d="M269.52,801.38 L272.48,801.38 L272.18,806.44 Q272.63,807.11 274.26,807.11 A0.70,0.70 0 0 1 274.26,808.52 L271.67,808.52 L271.00,807.92 L270.33,808.52 L267.74,808.52 A0.70,0.70 0 0 1 267.74,807.11 Q269.37,807.11 269.82,806.44 Z"/></g>
<g fill="#1d6b37" stroke="none"><circle cx="226.6" cy="815.6" r="2.77" fill="none" stroke="#1d6b37" stroke-width="1.33"/><path d="M225.12,818.38 L228.08,818.38 L227.78,823.44 Q228.23,824.11 229.86,824.11 A0.70,0.70 0 0 1 229.86,825.52 L227.27,825.52 L226.60,824.92 L225.93,825.52 L223.34,825.52 A0.70,0.70 0 0 1 223.34,824.11 Q224.97,824.11 225.42,823.44 Z"/></g>
<g fill="#1d6b37" stroke="none"><circle cx="243.4" cy="814.8" r="2.77" fill="none" stroke="#1d6b37" stroke-width="1.33"/><path d="M241.92,817.58 L244.88,817.58 L244.58,822.64 Q245.03,823.31 246.66,823.31 A0.70,0.70 0 0 1 246.66,824.72 L244.07,824.72 L243.40,824.12 L242.73,824.72 L240.14,824.72 A0.70,0.70 0 0 1 240.14,823.31 Q241.77,823.31 242.22,822.64 Z"/></g>
<g fill="#1d6b37" stroke="none"><circle cx="265.2" cy="811.6" r="2.77" fill="none" stroke="#1d6b37" stroke-width="1.33"/><path d="M263.72,814.38 L266.68,814.38 L266.38,819.44 Q266.83,820.11 268.46,820.11 A0.70,0.70 0 0 1 268.46,821.52 L265.87,821.52 L265.20,820.92 L264.53,821.52 L261.94,821.52 A0.70,0.70 0 0 1 261.94,820.11 Q263.57,820.11 264.02,819.44 Z"/></g>
<g fill="#1d6b37" stroke="none"><circle cx="276.0" cy="815.6" r="2.77" fill="none" stroke="#1d6b37" stroke-width="1.33"/><path d="M274.52,818.38 L277.48,818.38 L277.18,823.44 Q277.63,824.11 279.26,824.11 A0.70,0.70 0 0 1 279.26,825.52 L276.67,825.52 L276.00,824.92 L275.33,825.52 L272.74,825.52 A0.70,0.70 0 0 1 272.74,824.11 Q274.37,824.11 274.82,823.44 Z"/></g>
<g fill="#1d6b37" stroke="none"><circle cx="234.5" cy="829.8" r="2.77" fill="none" stroke="#1d6b37" stroke-width="1.33"/><path d="M233.02,832.58 L235.98,832.58 L235.68,837.64 Q236.13,838.31 237.76,838.31 A0.70,0.70 0 0 1 237.76,839.72 L235.17,839.72 L234.50,839.12 L233.83,839.72 L231.24,839.72 A0.70,0.70 0 0 1 231.24,838.31 Q232.87,838.31 233.32,837.64 Z"/></g>
<g fill="#1d6b37" stroke="none"><circle cx="245.2" cy="829.8" r="2.77" fill="none" stroke="#1d6b37" stroke-width="1.33"/><path d="M243.72,832.58 L246.68,832.58 L246.38,837.64 Q246.83,838.31 248.46,838.31 A0.70,0.70 0 0 1 248.46,839.72 L245.87,839.72 L245.20,839.12 L244.53,839.72 L241.94,839.72 A0.70,0.70 0 0 1 241.94,838.31 Q243.57,838.31 244.02,837.64 Z"/></g>
<g fill="#1d6b37" stroke="none"><circle cx="257.2" cy="823.6" r="2.77" fill="none" stroke="#1d6b37" stroke-width="1.33"/><path d="M255.72,826.38 L258.68,826.38 L258.38,831.44 Q258.83,832.11 260.46,832.11 A0.70,0.70 0 0 1 260.46,833.52 L257.87,833.52 L257.20,832.92 L256.53,833.52 L253.94,833.52 A0.70,0.70 0 0 1 253.94,832.11 Q255.57,832.11 256.02,831.44 Z"/></g>
<g fill="#1d6b37" stroke="none"><circle cx="271.0" cy="833.4" r="2.77" fill="none" stroke="#1d6b37" stroke-width="1.33"/><path d="M269.52,836.17 L272.48,836.17 L272.18,841.24 Q272.63,841.91 274.26,841.91 A0.70,0.70 0 0 1 274.26,843.32 L271.67,843.32 L271.00,842.72 L270.33,843.32 L267.74,843.32 A0.70,0.70 0 0 1 267.74,841.91 Q269.37,841.91 269.82,841.24 Z"/></g>
<text x="288.2" y="632.2" font-size="17.4" fill="#151515">Scramble shRNA</text>
<text x="288.2" y="653.6" font-size="17.4" fill="#151515">YFP-vector</text>
<text x="123.3" y="732.8" font-size="17.4" fill="#151515">Lp30 AML cells</text>
<text x="297.9" y="822.0" font-size="17.4" fill="#151515">Kdm5c or control shRNA</text>
<text x="297.9" y="842.8" font-size="17.4" fill="#151515">GFP-vector</text>
<line x1="227.20" y1="694.60" x2="283.10" y2="694.60" stroke="#000" stroke-width="1.8"/>
<polygon points="295.10,694.60 280.10,699.60 283.85,694.60 280.10,689.60" fill="#000"/>
<path d="M253,668 L253,683 C253,691 256,694.6 266,694.6" stroke="#000" stroke-width="1.8" fill="none"/>
<line x1="229.40" y1="761.60" x2="285.90" y2="761.60" stroke="#000" stroke-width="1.8"/>
<polygon points="297.90,761.60 282.90,766.60 286.65,761.60 282.90,756.60" fill="#000"/>
<path d="M249.4,789 L249.4,773 C249.4,765 252,761.6 262,761.6" stroke="#000" stroke-width="1.8" fill="none"/>
<ellipse cx="337.2" cy="676.5" rx="9" ry="6.7" fill="url(#g14)" stroke="#111" stroke-width="0.9"/>
<ellipse cx="338.5" cy="676.8" rx="5.04" ry="3.69" fill="url(#g14)" stroke="#111" stroke-width="0.9"/>
<ellipse cx="356.6" cy="673.2" rx="9" ry="6.7" fill="url(#g14)" stroke="#111" stroke-width="0.9"/>
<ellipse cx="357.9" cy="673.5" rx="5.04" ry="3.69" fill="url(#g14)" stroke="#111" stroke-width="0.9"/>
<ellipse cx="374.1" cy="680.7" rx="9" ry="6.7" fill="url(#g14)" stroke="#111" stroke-width="0.9"/>
<ellipse cx="375.4" cy="681.0" rx="5.04" ry="3.69" fill="url(#g14)" stroke="#111" stroke-width="0.9"/>
<ellipse cx="322.8" cy="688.2" rx="9" ry="6.7" fill="url(#g14)" stroke="#111" stroke-width="0.9"/>
<ellipse cx="324.1" cy="688.5" rx="5.04" ry="3.69" fill="url(#g14)" stroke="#111" stroke-width="0.9"/>
<ellipse cx="340.8" cy="693.2" rx="9" ry="6.7" fill="url(#g14)" stroke="#111" stroke-width="0.9"/>
<ellipse cx="342.1" cy="693.5" rx="5.04" ry="3.69" fill="url(#g14)" stroke="#111" stroke-width="0.9"/>
<ellipse cx="358.8" cy="688.2" rx="9" ry="6.7" fill="url(#g14)" stroke="#111" stroke-width="0.9"/>
<ellipse cx="360.1" cy="688.5" rx="5.04" ry="3.69" fill="url(#g14)" stroke="#111" stroke-width="0.9"/>
<ellipse cx="381.0" cy="695.4" rx="9" ry="6.7" fill="url(#g14)" stroke="#111" stroke-width="0.9"/>
<ellipse cx="382.3" cy="695.7" rx="5.04" ry="3.69" fill="url(#g14)" stroke="#111" stroke-width="0.9"/>
<ellipse cx="327.0" cy="702.0" rx="9" ry="6.7" fill="url(#g14)" stroke="#111" stroke-width="0.9"/>
<ellipse cx="328.3" cy="702.3" rx="5.04" ry="3.69" fill="url(#g14)" stroke="#111" stroke-width="0.9"/>
<ellipse cx="345.8" cy="708.4" rx="9" ry="6.7" fill="url(#g14)" stroke="#111" stroke-width="0.9"/>
<ellipse cx="347.1" cy="708.7" rx="5.04" ry="3.69" fill="url(#g14)" stroke="#111" stroke-width="0.9"/>
<ellipse cx="363.0" cy="702.9" rx="9" ry="6.7" fill="url(#g14)" stroke="#111" stroke-width="0.9"/>
<ellipse cx="364.3" cy="703.2" rx="5.04" ry="3.69" fill="url(#g14)" stroke="#111" stroke-width="0.9"/>
<ellipse cx="337.2" cy="754.1" rx="9" ry="6.7" fill="url(#g15)" stroke="#111" stroke-width="0.9"/>
<ellipse cx="338.5" cy="754.4" rx="5.04" ry="3.69" fill="url(#g15)" stroke="#111" stroke-width="0.9"/>
<ellipse cx="356.6" cy="750.8" rx="9" ry="6.7" fill="url(#g15)" stroke="#111" stroke-width="0.9"/>
<ellipse cx="357.9" cy="751.1" rx="5.04" ry="3.69" fill="url(#g15)" stroke="#111" stroke-width="0.9"/>
<ellipse cx="374.1" cy="758.3" rx="9" ry="6.7" fill="url(#g15)" stroke="#111" stroke-width="0.9"/>
<ellipse cx="375.4" cy="758.6" rx="5.04" ry="3.69" fill="url(#g15)" stroke="#111" stroke-width="0.9"/>
<ellipse cx="322.8" cy="765.8" rx="9" ry="6.7" fill="url(#g15)" stroke="#111" stroke-width="0.9"/>
<ellipse cx="324.1" cy="766.1" rx="5.04" ry="3.69" fill="url(#g15)" stroke="#111" stroke-width="0.9"/>
<ellipse cx="340.8" cy="770.8" rx="9" ry="6.7" fill="url(#g15)" stroke="#111" stroke-width="0.9"/>
<ellipse cx="342.1" cy="771.1" rx="5.04" ry="3.69" fill="url(#g15)" stroke="#111" stroke-width="0.9"/>
<ellipse cx="358.8" cy="765.8" rx="9" ry="6.7" fill="url(#g15)" stroke="#111" stroke-width="0.9"/>
<ellipse cx="360.1" cy="766.1" rx="5.04" ry="3.69" fill="url(#g15)" stroke="#111" stroke-width="0.9"/>
<ellipse cx="381.0" cy="773.0" rx="9" ry="6.7" fill="url(#g15)" stroke="#111" stroke-width="0.9"/>
<ellipse cx="382.3" cy="773.3" rx="5.04" ry="3.69" fill="url(#g15)" stroke="#111" stroke-width="0.9"/>
<ellipse cx="327.0" cy="779.6" rx="9" ry="6.7" fill="url(#g15)" stroke="#111" stroke-width="0.9"/>
<ellipse cx="328.3" cy="779.9" rx="5.04" ry="3.69" fill="url(#g15)" stroke="#111" stroke-width="0.9"/>
<ellipse cx="345.8" cy="786.0" rx="9" ry="6.7" fill="url(#g15)" stroke="#111" stroke-width="0.9"/>
<ellipse cx="347.1" cy="786.3" rx="5.04" ry="3.69" fill="url(#g15)" stroke="#111" stroke-width="0.9"/>
<ellipse cx="363.0" cy="780.5" rx="9" ry="6.7" fill="url(#g15)" stroke="#111" stroke-width="0.9"/>
<ellipse cx="364.3" cy="780.8" rx="5.04" ry="3.69" fill="url(#g15)" stroke="#111" stroke-width="0.9"/>
<line x1="377.40" y1="726.40" x2="411.90" y2="726.40" stroke="#000" stroke-width="1.8"/>
<polygon points="423.90,726.40 408.90,731.40 412.65,726.40 408.90,721.40" fill="#000"/>
<text x="429.6" y="678.1" font-size="17.4" fill="#151515">Mix in 1:1 ratio</text>
<ellipse cx="467.4" cy="701.7" rx="9" ry="6.7" fill="url(#g15)" stroke="#111" stroke-width="0.9"/>
<ellipse cx="468.7" cy="702.0" rx="5.04" ry="3.69" fill="url(#g15)" stroke="#111" stroke-width="0.9"/>
<ellipse cx="494.0" cy="700.3" rx="9" ry="6.7" fill="url(#g15)" stroke="#111" stroke-width="0.9"/>
<ellipse cx="495.3" cy="700.6" rx="5.04" ry="3.69" fill="url(#g15)" stroke="#111" stroke-width="0.9"/>
<ellipse cx="511.7" cy="703.8" rx="9" ry="6.7" fill="url(#g14)" stroke="#111" stroke-width="0.9"/>
<ellipse cx="513.0" cy="704.1" rx="5.04" ry="3.69" fill="url(#g14)" stroke="#111" stroke-width="0.9"/>
<ellipse cx="456.2" cy="714.2" rx="9" ry="6.7" fill="url(#g14)" stroke="#111" stroke-width="0.9"/>
<ellipse cx="457.5" cy="714.5" rx="5.04" ry="3.69" fill="url(#g14)" stroke="#111" stroke-width="0.9"/>
<ellipse cx="482.8" cy="713.3" rx="9" ry="6.7" fill="url(#g14)" stroke="#111" stroke-width="0.9"/>
<ellipse cx="484.1" cy="713.6" rx="5.04" ry="3.69" fill="url(#g14)" stroke="#111" stroke-width="0.9"/>
<ellipse cx="502.0" cy="716.2" rx="9" ry="6.7" fill="url(#g15)" stroke="#111" stroke-width="0.9"/>
<ellipse cx="503.3" cy="716.5" rx="5.04" ry="3.69" fill="url(#g15)" stroke="#111" stroke-width="0.9"/>
<ellipse cx="440.8" cy="726.0" rx="9" ry="6.7" fill="url(#g15)" stroke="#111" stroke-width="0.9"/>
<ellipse cx="442.1" cy="726.3" rx="5.04" ry="3.69" fill="url(#g15)" stroke="#111" stroke-width="0.9"/>
<ellipse cx="470.4" cy="724.5" rx="9" ry="6.7" fill="url(#g15)" stroke="#111" stroke-width="0.9"/>
<ellipse cx="471.7" cy="724.8" rx="5.04" ry="3.69" fill="url(#g15)" stroke="#111" stroke-width="0.9"/>
<ellipse cx="492.5" cy="730.4" rx="9" ry="6.7" fill="url(#g14)" stroke="#111" stroke-width="0.9"/>
<ellipse cx="493.8" cy="730.7" rx="5.04" ry="3.69" fill="url(#g14)" stroke="#111" stroke-width="0.9"/>
<ellipse cx="510.8" cy="730.4" rx="9" ry="6.7" fill="url(#g14)" stroke="#111" stroke-width="0.9"/>
<ellipse cx="512.1" cy="730.7" rx="5.04" ry="3.69" fill="url(#g14)" stroke="#111" stroke-width="0.9"/>
<ellipse cx="455.3" cy="735.4" rx="9" ry="6.7" fill="url(#g14)" stroke="#111" stroke-width="0.9"/>
<ellipse cx="456.6" cy="735.7" rx="5.04" ry="3.69" fill="url(#g14)" stroke="#111" stroke-width="0.9"/>
<ellipse cx="476.0" cy="740.2" rx="9" ry="6.7" fill="url(#g14)" stroke="#111" stroke-width="0.9"/>
<ellipse cx="477.3" cy="740.5" rx="5.04" ry="3.69" fill="url(#g14)" stroke="#111" stroke-width="0.9"/>
<ellipse cx="493.7" cy="745.8" rx="9" ry="6.7" fill="url(#g15)" stroke="#111" stroke-width="0.9"/>
<ellipse cx="495.0" cy="746.1" rx="5.04" ry="3.69" fill="url(#g15)" stroke="#111" stroke-width="0.9"/>
<ellipse cx="462.1" cy="749.6" rx="9" ry="6.7" fill="url(#g15)" stroke="#111" stroke-width="0.9"/>
<ellipse cx="463.4" cy="749.9" rx="5.04" ry="3.69" fill="url(#g15)" stroke="#111" stroke-width="0.9"/>
<line x1="528.60" y1="726.00" x2="564.80" y2="726.00" stroke="#000" stroke-width="1.8"/>
<polygon points="576.80,726.00 561.80,731.00 565.55,726.00 561.80,721.00" fill="#000"/>
<g transform="translate(567.30,650.40) scale(0.07543)" stroke-linecap="round" stroke-linejoin="round">
<path d="M1418,1240 C1470,1195 1512,1150 1498,1100 C1480,1040 1380,985 1300,915 C1240,860 1215,790 1228,735 C1245,680 1290,650 1332,645" fill="none" stroke="#000" stroke-width="45.7"/>
<path d="M1418,1240 C1470,1195 1512,1150 1498,1100 C1480,1040 1380,985 1300,915 C1240,860 1215,790 1228,735 C1245,680 1290,650 1332,645" fill="none" stroke="#fff" stroke-width="15.9"/>
<path d="M492,1068 C470,990 510,940 555,940 C600,942 622,990 612,1035 C600,1070 560,1075 492,1068 Z" fill="#fff" stroke="#000" stroke-width="19.9"/>
<path d="M195,1255 C230,1190 330,1110 440,1082 C480,1072 520,1066 560,1062 L600,1050 C640,1030 700,1045 718,1085 C780,1085 850,1070 920,1040 C990,1005 1060,985 1120,988 C1230,995 1340,1070 1400,1160 C1440,1230 1425,1330 1395,1410 C1375,1455 1350,1480 1330,1480 C1280,1495 1200,1500 1120,1500 L1090,1500 C1085,1530 1090,1570 1110,1590 C1080,1605 1030,1610 1000,1608 C995,1570 1000,1520 985,1495 C930,1500 850,1500 760,1500 C775,1525 760,1555 720,1560 C690,1562 650,1556 625,1548 C620,1530 640,1515 690,1510 C715,1495 705,1470 695,1462 C620,1430 560,1400 520,1385 C440,1365 330,1345 260,1320 C220,1300 190,1280 195,1255 Z" fill="#fff" stroke="#000" stroke-width="19.9"/>
<path d="M560,1150 C545,1110 560,1070 600,1050 C650,1030 705,1050 718,1110 C730,1180 700,1240 640,1262 C615,1268 600,1255 608,1238" fill="#fff" stroke="#000" stroke-width="19.9"/>
<path d="M590,1135 C605,1120 625,1125 628,1150 C630,1180 618,1210 625,1235" fill="none" stroke="#000" stroke-width="19.9"/>
<path d="M545,1390 C630,1370 700,1335 738,1290" fill="none" stroke="#000" stroke-width="19.9"/>
<path d="M1080,1190 C1130,1250 1180,1320 1175,1370 C1165,1420 1110,1440 1090,1500" fill="none" stroke="#000" stroke-width="19.9"/>
<path d="M960,1400 C985,1440 995,1470 990,1500" fill="none" stroke="#000" stroke-width="19.9"/>
<path d="M640,1530 L660,1550 M680,1528 L690,1552 M1040,1590 L1060,1605 M1070,1585 L1085,1600" fill="none" stroke="#000" stroke-width="19.9"/>
<ellipse cx="415" cy="1210" rx="42" ry="30" fill="#555" stroke="#000" stroke-width="11.9"/>
<ellipse cx="415" cy="1210" rx="22" ry="17" fill="#000"/><circle cx="410" cy="1205" r="7" fill="#fff"/>
<ellipse cx="205" cy="1262" rx="14" ry="10" fill="#5a2a10"/>
<path d="M1140,1545 C1150,1518 1215,1508 1250,1516 C1252,1540 1210,1565 1160,1565 C1146,1565 1138,1556 1140,1545 Z" fill="#000"/>
<path d="M75,1250 C110,1235 150,1228 190,1232" fill="none" stroke="#6d6e71" stroke-width="14.9"/>
<path d="M130,1172 C170,1178 205,1190 232,1200" fill="none" stroke="#6d6e71" stroke-width="14.9"/>
<path d="M120,1335 C140,1310 165,1298 198,1290" fill="none" stroke="#6d6e71" stroke-width="14.9"/>
<path d="M290,1252 C350,1260 400,1290 425,1332" fill="none" stroke="#6d6e71" stroke-width="14.9"/>
<path d="M295,1275 C340,1290 375,1315 395,1345" fill="none" stroke="#6d6e71" stroke-width="14.9"/>
<path d="M295,1310 C310,1340 320,1365 330,1392" fill="none" stroke="#6d6e71" stroke-width="14.9"/>
</g>
<path d="M605.20,704.38 L611.15,714.68 A17.3,17.3 0 0 1 593.85,714.68 L599.80,704.38 A5.4,5.4 0 0 0 605.20,704.38 Z M597.10,699.70 L585.20,699.70 A17.3,17.3 0 0 1 593.85,684.72 L599.80,695.02 A5.4,5.4 0 0 0 597.10,699.70 Z M605.20,695.02 L611.15,684.72 A17.3,17.3 0 0 1 619.80,699.70 L607.90,699.70 A5.4,5.4 0 0 0 605.20,695.02 Z" fill="#111"/>
<circle cx="602.5" cy="699.7" r="3.2" fill="#111"/>
<g transform="translate(602.70,640.00) rotate(54.00) scale(0.8770)" stroke="#000" stroke-width="1.25" stroke-linejoin="round">
<line x1="72" y1="0" x2="97" y2="0" stroke-width="1.14"/>
<rect x="2" y="-1.3" width="26" height="2.6" fill="#e6e6e6"/>
<path d="M30,-4.6 L67,-4.6 L72,-1.2 L72,1.2 L67,4.6 L30,4.6 Z" fill="#fff"/>
<line x1="55" y1="-4.6" x2="55" y2="0"/><line x1="61" y1="-4.6" x2="61" y2="0"/>
<path d="M29,-4.8 L29,4.8 M31.5,-4.6 L31.5,4.6" fill="none"/>
<rect x="23" y="-7.5" width="5" height="15" rx="2.5" fill="#fff"/>
<rect x="25" y="-5" width="2" height="10" fill="#333" stroke="none"/>
<ellipse cx="1.5" cy="0" rx="2.8" ry="7" fill="#c8c8c8"/>
</g>
<line x1="686.70" y1="725.10" x2="722.90" y2="725.10" stroke="#000" stroke-width="1.8"/>
<polygon points="734.90,725.10 719.90,730.10 723.65,725.10 719.90,720.10" fill="#000"/>
<ellipse cx="776.3" cy="702.3" rx="9" ry="6.7" fill="url(#g15)" stroke="#111" stroke-width="0.9"/>
<ellipse cx="777.6" cy="702.6" rx="5.04" ry="3.69" fill="url(#g15)" stroke="#111" stroke-width="0.9"/>
<ellipse cx="803.5" cy="701.4" rx="9" ry="6.7" fill="url(#g15)" stroke="#111" stroke-width="0.9"/>
<ellipse cx="804.8" cy="701.7" rx="5.04" ry="3.69" fill="url(#g15)" stroke="#111" stroke-width="0.9"/>
<ellipse cx="820.6" cy="704.7" rx="9" ry="6.7" fill="url(#g15)" stroke="#111" stroke-width="0.9"/>
<ellipse cx="821.9" cy="705.0" rx="5.04" ry="3.69" fill="url(#g15)" stroke="#111" stroke-width="0.9"/>
<ellipse cx="764.5" cy="714.7" rx="9" ry="6.7" fill="url(#g14)" stroke="#111" stroke-width="0.9"/>
<ellipse cx="765.8" cy="715.0" rx="5.04" ry="3.69" fill="url(#g14)" stroke="#111" stroke-width="0.9"/>
<ellipse cx="791.7" cy="713.6" rx="9" ry="6.7" fill="url(#g14)" stroke="#111" stroke-width="0.9"/>
<ellipse cx="793.0" cy="713.9" rx="5.04" ry="3.69" fill="url(#g14)" stroke="#111" stroke-width="0.9"/>
<ellipse cx="810.9" cy="716.5" rx="9" ry="6.7" fill="url(#g15)" stroke="#111" stroke-width="0.9"/>
<ellipse cx="812.2" cy="716.8" rx="5.04" ry="3.69" fill="url(#g15)" stroke="#111" stroke-width="0.9"/>
<ellipse cx="749.7" cy="726.0" rx="9" ry="6.7" fill="url(#g15)" stroke="#111" stroke-width="0.9"/>
<ellipse cx="751.0" cy="726.3" rx="5.04" ry="3.69" fill="url(#g15)" stroke="#111" stroke-width="0.9"/>
<ellipse cx="779.0" cy="724.5" rx="9" ry="6.7" fill="url(#g15)" stroke="#111" stroke-width="0.9"/>
<ellipse cx="780.3" cy="724.8" rx="5.04" ry="3.69" fill="url(#g15)" stroke="#111" stroke-width="0.9"/>
<ellipse cx="801.1" cy="730.4" rx="9" ry="6.7" fill="url(#g15)" stroke="#111" stroke-width="0.9"/>
<ellipse cx="802.4" cy="730.7" rx="5.04" ry="3.69" fill="url(#g15)" stroke="#111" stroke-width="0.9"/>
<ellipse cx="819.8" cy="730.4" rx="9" ry="6.7" fill="url(#g15)" stroke="#111" stroke-width="0.9"/>
<ellipse cx="821.1" cy="730.7" rx="5.04" ry="3.69" fill="url(#g15)" stroke="#111" stroke-width="0.9"/>
<ellipse cx="763.6" cy="735.4" rx="9" ry="6.7" fill="url(#g14)" stroke="#111" stroke-width="0.9"/>
<ellipse cx="764.9" cy="735.7" rx="5.04" ry="3.69" fill="url(#g14)" stroke="#111" stroke-width="0.9"/>
<ellipse cx="784.3" cy="739.9" rx="9" ry="6.7" fill="url(#g14)" stroke="#111" stroke-width="0.9"/>
<ellipse cx="785.6" cy="740.2" rx="5.04" ry="3.69" fill="url(#g14)" stroke="#111" stroke-width="0.9"/>
<ellipse cx="802.6" cy="745.2" rx="9" ry="6.7" fill="url(#g15)" stroke="#111" stroke-width="0.9"/>
<ellipse cx="803.9" cy="745.5" rx="5.04" ry="3.69" fill="url(#g15)" stroke="#111" stroke-width="0.9"/>
<ellipse cx="771.0" cy="749.0" rx="9" ry="6.7" fill="url(#g15)" stroke="#111" stroke-width="0.9"/>
<ellipse cx="772.3" cy="749.3" rx="5.04" ry="3.69" fill="url(#g15)" stroke="#111" stroke-width="0.9"/>
<text x="739.0" y="787.2" font-size="17.4" fill="#151515">Assess ratio</text>
<ellipse cx="167.4" cy="951.2" rx="9" ry="6.7" fill="url(#g0)" stroke="#111" stroke-width="0.9"/>
<ellipse cx="168.7" cy="951.5" rx="5.04" ry="3.69" fill="url(#g1)" stroke="#111" stroke-width="0.9"/>
<ellipse cx="187.1" cy="947.8" rx="9" ry="6.7" fill="url(#g0)" stroke="#111" stroke-width="0.9"/>
<ellipse cx="188.4" cy="948.1" rx="5.04" ry="3.69" fill="url(#g1)" stroke="#111" stroke-width="0.9"/>
<ellipse cx="204.3" cy="955.6" rx="9" ry="6.7" fill="url(#g0)" stroke="#111" stroke-width="0.9"/>
<ellipse cx="205.6" cy="955.9" rx="5.04" ry="3.69" fill="url(#g1)" stroke="#111" stroke-width="0.9"/>
<ellipse cx="153.6" cy="962.8" rx="9" ry="6.7" fill="url(#g0)" stroke="#111" stroke-width="0.9"/>
<ellipse cx="154.9" cy="963.1" rx="5.04" ry="3.69" fill="url(#g1)" stroke="#111" stroke-width="0.9"/>
<ellipse cx="171.9" cy="967.2" rx="9" ry="6.7" fill="url(#g0)" stroke="#111" stroke-width="0.9"/>
<ellipse cx="173.2" cy="967.5" rx="5.04" ry="3.69" fill="url(#g1)" stroke="#111" stroke-width="0.9"/>
<ellipse cx="189.1" cy="963.6" rx="9" ry="6.7" fill="url(#g0)" stroke="#111" stroke-width="0.9"/>
<ellipse cx="190.4" cy="963.9" rx="5.04" ry="3.69" fill="url(#g1)" stroke="#111" stroke-width="0.9"/>
<ellipse cx="211.5" cy="970.6" rx="9" ry="6.7" fill="url(#g0)" stroke="#111" stroke-width="0.9"/>
<ellipse cx="212.8" cy="970.9" rx="5.04" ry="3.69" fill="url(#g1)" stroke="#111" stroke-width="0.9"/>
<ellipse cx="156.9" cy="976.9" rx="9" ry="6.7" fill="url(#g0)" stroke="#111" stroke-width="0.9"/>
<ellipse cx="158.2" cy="977.2" rx="5.04" ry="3.69" fill="url(#g1)" stroke="#111" stroke-width="0.9"/>
<ellipse cx="176.3" cy="982.5" rx="9" ry="6.7" fill="url(#g0)" stroke="#111" stroke-width="0.9"/>
<ellipse cx="177.6" cy="982.8" rx="5.04" ry="3.69" fill="url(#g1)" stroke="#111" stroke-width="0.9"/>
<ellipse cx="194.0" cy="978.0" rx="9" ry="6.7" fill="url(#g0)" stroke="#111" stroke-width="0.9"/>
<ellipse cx="195.3" cy="978.3" rx="5.04" ry="3.69" fill="url(#g1)" stroke="#111" stroke-width="0.9"/>
<ellipse cx="169.0" cy="1043.2" rx="9" ry="6.7" fill="url(#g0)" stroke="#111" stroke-width="0.9"/>
<ellipse cx="170.3" cy="1043.5" rx="5.04" ry="3.69" fill="url(#g1)" stroke="#111" stroke-width="0.9"/>
<ellipse cx="188.7" cy="1039.8" rx="9" ry="6.7" fill="url(#g0)" stroke="#111" stroke-width="0.9"/>
<ellipse cx="190.0" cy="1040.1" rx="5.04" ry="3.69" fill="url(#g1)" stroke="#111" stroke-width="0.9"/>
<ellipse cx="205.9" cy="1047.6" rx="9" ry="6.7" fill="url(#g0)" stroke="#111" stroke-width="0.9"/>
<ellipse cx="207.2" cy="1047.9" rx="5.04" ry="3.69" fill="url(#g1)" stroke="#111" stroke-width="0.9"/>
<ellipse cx="155.2" cy="1054.8" rx="9" ry="6.7" fill="url(#g0)" stroke="#111" stroke-width="0.9"/>
<ellipse cx="156.5" cy="1055.1" rx="5.04" ry="3.69" fill="url(#g1)" stroke="#111" stroke-width="0.9"/>
<ellipse cx="173.5" cy="1059.2" rx="9" ry="6.7" fill="url(#g0)" stroke="#111" stroke-width="0.9"/>
<ellipse cx="174.8" cy="1059.5" rx="5.04" ry="3.69" fill="url(#g1)" stroke="#111" stroke-width="0.9"/>
<ellipse cx="190.7" cy="1055.6" rx="9" ry="6.7" fill="url(#g0)" stroke="#111" stroke-width="0.9"/>
<ellipse cx="192.0" cy="1055.9" rx="5.04" ry="3.69" fill="url(#g1)" stroke="#111" stroke-width="0.9"/>
<ellipse cx="213.1" cy="1062.6" rx="9" ry="6.7" fill="url(#g0)" stroke="#111" stroke-width="0.9"/>
<ellipse cx="214.4" cy="1062.9" rx="5.04" ry="3.69" fill="url(#g1)" stroke="#111" stroke-width="0.9"/>
<ellipse cx="158.5" cy="1068.9" rx="9" ry="6.7" fill="url(#g0)" stroke="#111" stroke-width="0.9"/>
<ellipse cx="159.8" cy="1069.2" rx="5.04" ry="3.69" fill="url(#g1)" stroke="#111" stroke-width="0.9"/>
<ellipse cx="177.9" cy="1074.5" rx="9" ry="6.7" fill="url(#g0)" stroke="#111" stroke-width="0.9"/>
<ellipse cx="179.2" cy="1074.8" rx="5.04" ry="3.69" fill="url(#g1)" stroke="#111" stroke-width="0.9"/>
<ellipse cx="195.6" cy="1070.0" rx="9" ry="6.7" fill="url(#g0)" stroke="#111" stroke-width="0.9"/>
<ellipse cx="196.9" cy="1070.3" rx="5.04" ry="3.69" fill="url(#g1)" stroke="#111" stroke-width="0.9"/>
<g fill="#ed1c24" stroke="none"><circle cx="248.5" cy="912.8" r="2.77" fill="none" stroke="#ed1c24" stroke-width="1.33"/><path d="M247.02,915.57 L249.98,915.57 L249.68,920.64 Q250.13,921.31 251.76,921.31 A0.70,0.70 0 0 1 251.76,922.72 L249.17,922.72 L248.50,922.12 L247.83,922.72 L245.24,922.72 A0.70,0.70 0 0 1 245.24,921.31 Q246.87,921.31 247.32,920.64 Z"/></g>
<g fill="#ed1c24" stroke="none"><circle cx="258.0" cy="909.8" r="2.77" fill="none" stroke="#ed1c24" stroke-width="1.33"/><path d="M256.52,912.57 L259.48,912.57 L259.18,917.64 Q259.63,918.31 261.26,918.31 A0.70,0.70 0 0 1 261.26,919.72 L258.67,919.72 L258.00,919.12 L257.33,919.72 L254.74,919.72 A0.70,0.70 0 0 1 254.74,918.31 Q256.37,918.31 256.82,917.64 Z"/></g>
<g fill="#ed1c24" stroke="none"><circle cx="268.5" cy="915.8" r="2.77" fill="none" stroke="#ed1c24" stroke-width="1.33"/><path d="M267.02,918.57 L269.98,918.57 L269.68,923.64 Q270.13,924.31 271.76,924.31 A0.70,0.70 0 0 1 271.76,925.72 L269.17,925.72 L268.50,925.12 L267.83,925.72 L265.24,925.72 A0.70,0.70 0 0 1 265.24,924.31 Q266.87,924.31 267.32,923.64 Z"/></g>
<g fill="#ed1c24" stroke="none"><circle cx="284.5" cy="909.8" r="2.77" fill="none" stroke="#ed1c24" stroke-width="1.33"/><path d="M283.02,912.57 L285.98,912.57 L285.68,917.64 Q286.13,918.31 287.76,918.31 A0.70,0.70 0 0 1 287.76,919.72 L285.17,919.72 L284.50,919.12 L283.83,919.72 L281.24,919.72 A0.70,0.70 0 0 1 281.24,918.31 Q282.87,918.31 283.32,917.64 Z"/></g>
<g fill="#ed1c24" stroke="none"><circle cx="240.1" cy="926.8" r="2.77" fill="none" stroke="#ed1c24" stroke-width="1.33"/><path d="M238.62,929.57 L241.58,929.57 L241.28,934.64 Q241.73,935.31 243.36,935.31 A0.70,0.70 0 0 1 243.36,936.72 L240.77,936.72 L240.10,936.12 L239.43,936.72 L236.84,936.72 A0.70,0.70 0 0 1 236.84,935.31 Q238.47,935.31 238.92,934.64 Z"/></g>
<g fill="#ed1c24" stroke="none"><circle cx="256.9" cy="926.0" r="2.77" fill="none" stroke="#ed1c24" stroke-width="1.33"/><path d="M255.42,928.77 L258.38,928.77 L258.08,933.84 Q258.53,934.51 260.16,934.51 A0.70,0.70 0 0 1 260.16,935.92 L257.57,935.92 L256.90,935.32 L256.23,935.92 L253.64,935.92 A0.70,0.70 0 0 1 253.64,934.51 Q255.27,934.51 255.72,933.84 Z"/></g>
<g fill="#ed1c24" stroke="none"><circle cx="278.7" cy="922.8" r="2.77" fill="none" stroke="#ed1c24" stroke-width="1.33"/><path d="M277.22,925.57 L280.18,925.57 L279.88,930.64 Q280.33,931.31 281.96,931.31 A0.70,0.70 0 0 1 281.96,932.72 L279.37,932.72 L278.70,932.12 L278.03,932.72 L275.44,932.72 A0.70,0.70 0 0 1 275.44,931.31 Q277.07,931.31 277.52,930.64 Z"/></g>
<g fill="#ed1c24" stroke="none"><circle cx="289.5" cy="926.8" r="2.77" fill="none" stroke="#ed1c24" stroke-width="1.33"/><path d="M288.02,929.57 L290.98,929.57 L290.68,934.64 Q291.13,935.31 292.76,935.31 A0.70,0.70 0 0 1 292.76,936.72 L290.17,936.72 L289.50,936.12 L288.83,936.72 L286.24,936.72 A0.70,0.70 0 0 1 286.24,935.31 Q287.87,935.31 288.32,934.64 Z"/></g>
<g fill="#ed1c24" stroke="none"><circle cx="248.0" cy="941.0" r="2.77" fill="none" stroke="#ed1c24" stroke-width="1.33"/><path d="M246.52,943.77 L249.48,943.77 L249.18,948.84 Q249.63,949.51 251.26,949.51 A0.70,0.70 0 0 1 251.26,950.92 L248.67,950.92 L248.00,950.32 L247.33,950.92 L244.74,950.92 A0.70,0.70 0 0 1 244.74,949.51 Q246.37,949.51 246.82,948.84 Z"/></g>
<g fill="#ed1c24" stroke="none"><circle cx="258.7" cy="941.0" r="2.77" fill="none" stroke="#ed1c24" stroke-width="1.33"/><path d="M257.22,943.77 L260.18,943.77 L259.88,948.84 Q260.33,949.51 261.96,949.51 A0.70,0.70 0 0 1 261.96,950.92 L259.37,950.92 L258.70,950.32 L258.03,950.92 L255.44,950.92 A0.70,0.70 0 0 1 255.44,949.51 Q257.07,949.51 257.52,948.84 Z"/></g>
<g fill="#ed1c24" stroke="none"><circle cx="270.7" cy="934.8" r="2.77" fill="none" stroke="#ed1c24" stroke-width="1.33"/><path d="M269.22,937.57 L272.18,937.57 L271.88,942.64 Q272.33,943.31 273.96,943.31 A0.70,0.70 0 0 1 273.96,944.72 L271.37,944.72 L270.70,944.12 L270.03,944.72 L267.44,944.72 A0.70,0.70 0 0 1 267.44,943.31 Q269.07,943.31 269.52,942.64 Z"/></g>
<g fill="#ed1c24" stroke="none"><circle cx="284.5" cy="944.6" r="2.77" fill="none" stroke="#ed1c24" stroke-width="1.33"/><path d="M283.02,947.37 L285.98,947.37 L285.68,952.44 Q286.13,953.11 287.76,953.11 A0.70,0.70 0 0 1 287.76,954.52 L285.17,954.52 L284.50,953.92 L283.83,954.52 L281.24,954.52 A0.70,0.70 0 0 1 281.24,953.11 Q282.87,953.11 283.32,952.44 Z"/></g>
<g fill="#1d6b37" stroke="none"><circle cx="248.5" cy="1087.9" r="2.77" fill="none" stroke="#1d6b37" stroke-width="1.33"/><path d="M247.02,1090.68 L249.98,1090.68 L249.68,1095.74 Q250.13,1096.41 251.76,1096.41 A0.70,0.70 0 0 1 251.76,1097.82 L249.17,1097.82 L248.50,1097.22 L247.83,1097.82 L245.24,1097.82 A0.70,0.70 0 0 1 245.24,1096.41 Q246.87,1096.41 247.32,1095.74 Z"/></g>
<g fill="#1d6b37" stroke="none"><circle cx="258.0" cy="1084.9" r="2.77" fill="none" stroke="#1d6b37" stroke-width="1.33"/><path d="M256.52,1087.68 L259.48,1087.68 L259.18,1092.74 Q259.63,1093.41 261.26,1093.41 A0.70,0.70 0 0 1 261.26,1094.82 L258.67,1094.82 L258.00,1094.22 L257.33,1094.82 L254.74,1094.82 A0.70,0.70 0 0 1 254.74,1093.41 Q256.37,1093.41 256.82,1092.74 Z"/></g>
<g fill="#1d6b37" stroke="none"><circle cx="268.5" cy="1090.9" r="2.77" fill="none" stroke="#1d6b37" stroke-width="1.33"/><path d="M267.02,1093.68 L269.98,1093.68 L269.68,1098.74 Q270.13,1099.41 271.76,1099.41 A0.70,0.70 0 0 1 271.76,1100.82 L269.17,1100.82 L268.50,1100.22 L267.83,1100.82 L265.24,1100.82 A0.70,0.70 0 0 1 265.24,1099.41 Q266.87,1099.41 267.32,1098.74 Z"/></g>
<g fill="#1d6b37" stroke="none"><circle cx="284.5" cy="1084.9" r="2.77" fill="none" stroke="#1d6b37" stroke-width="1.33"/><path d="M283.02,1087.68 L285.98,1087.68 L285.68,1092.74 Q286.13,1093.41 287.76,1093.41 A0.70,0.70 0 0 1 287.76,1094.82 L285.17,1094.82 L284.50,1094.22 L283.83,1094.82 L281.24,1094.82 A0.70,0.70 0 0 1 281.24,1093.41 Q282.87,1093.41 283.32,1092.74 Z"/></g>
<g fill="#1d6b37" stroke="none"><circle cx="240.1" cy="1101.9" r="2.77" fill="none" stroke="#1d6b37" stroke-width="1.33"/><path d="M238.62,1104.68 L241.58,1104.68 L241.28,1109.74 Q241.73,1110.41 243.36,1110.41 A0.70,0.70 0 0 1 243.36,1111.82 L240.77,1111.82 L240.10,1111.22 L239.43,1111.82 L236.84,1111.82 A0.70,0.70 0 0 1 236.84,1110.41 Q238.47,1110.41 238.92,1109.74 Z"/></g>
<g fill="#1d6b37" stroke="none"><circle cx="256.9" cy="1101.1" r="2.77" fill="none" stroke="#1d6b37" stroke-width="1.33"/><path d="M255.42,1103.88 L258.38,1103.88 L258.08,1108.94 Q258.53,1109.61 260.16,1109.61 A0.70,0.70 0 0 1 260.16,1111.02 L257.57,1111.02 L256.90,1110.42 L256.23,1111.02 L253.64,1111.02 A0.70,0.70 0 0 1 253.64,1109.61 Q255.27,1109.61 255.72,1108.94 Z"/></g>
<g fill="#1d6b37" stroke="none"><circle cx="278.7" cy="1097.9" r="2.77" fill="none" stroke="#1d6b37" stroke-width="1.33"/><path d="M277.22,1100.68 L280.18,1100.68 L279.88,1105.74 Q280.33,1106.41 281.96,1106.41 A0.70,0.70 0 0 1 281.96,1107.82 L279.37,1107.82 L278.70,1107.22 L278.03,1107.82 L275.44,1107.82 A0.70,0.70 0 0 1 275.44,1106.41 Q277.07,1106.41 277.52,1105.74 Z"/></g>
<g fill="#1d6b37" stroke="none"><circle cx="289.5" cy="1101.9" r="2.77" fill="none" stroke="#1d6b37" stroke-width="1.33"/><path d="M288.02,1104.68 L290.98,1104.68 L290.68,1109.74 Q291.13,1110.41 292.76,1110.41 A0.70,0.70 0 0 1 292.76,1111.82 L290.17,1111.82 L289.50,1111.22 L288.83,1111.82 L286.24,1111.82 A0.70,0.70 0 0 1 286.24,1110.41 Q287.87,1110.41 288.32,1109.74 Z"/></g>
<g fill="#1d6b37" stroke="none"><circle cx="248.0" cy="1116.1" r="2.77" fill="none" stroke="#1d6b37" stroke-width="1.33"/><path d="M246.52,1118.88 L249.48,1118.88 L249.18,1123.94 Q249.63,1124.61 251.26,1124.61 A0.70,0.70 0 0 1 251.26,1126.02 L248.67,1126.02 L248.00,1125.42 L247.33,1126.02 L244.74,1126.02 A0.70,0.70 0 0 1 244.74,1124.61 Q246.37,1124.61 246.82,1123.94 Z"/></g>
<g fill="#1d6b37" stroke="none"><circle cx="258.7" cy="1116.1" r="2.77" fill="none" stroke="#1d6b37" stroke-width="1.33"/><path d="M257.22,1118.88 L260.18,1118.88 L259.88,1123.94 Q260.33,1124.61 261.96,1124.61 A0.70,0.70 0 0 1 261.96,1126.02 L259.37,1126.02 L258.70,1125.42 L258.03,1126.02 L255.44,1126.02 A0.70,0.70 0 0 1 255.44,1124.61 Q257.07,1124.61 257.52,1123.94 Z"/></g>
<g fill="#1d6b37" stroke="none"><circle cx="270.7" cy="1109.9" r="2.77" fill="none" stroke="#1d6b37" stroke-width="1.33"/><path d="M269.22,1112.68 L272.18,1112.68 L271.88,1117.74 Q272.33,1118.41 273.96,1118.41 A0.70,0.70 0 0 1 273.96,1119.82 L271.37,1119.82 L270.70,1119.22 L270.03,1119.82 L267.44,1119.82 A0.70,0.70 0 0 1 267.44,1118.41 Q269.07,1118.41 269.52,1117.74 Z"/></g>
<g fill="#1d6b37" stroke="none"><circle cx="284.5" cy="1119.7" r="2.77" fill="none" stroke="#1d6b37" stroke-width="1.33"/><path d="M283.02,1122.48 L285.98,1122.48 L285.68,1127.54 Q286.13,1128.21 287.76,1128.21 A0.70,0.70 0 0 1 287.76,1129.62 L285.17,1129.62 L284.50,1129.02 L283.83,1129.62 L281.24,1129.62 A0.70,0.70 0 0 1 281.24,1128.21 Q282.87,1128.21 283.32,1127.54 Z"/></g>
<text x="301.5" y="918.5" font-size="17.4" fill="#151515">Scramble shRNA</text>
<text x="301.5" y="939.3" font-size="17.4" fill="#151515">YFP-vector</text>
<text x="126.1" y="1018.2" font-size="17.4" fill="#151515">AML or cKit BM cells</text>
<text x="311.2" y="1106.9" font-size="17.4" fill="#151515">Kdm5c or control shRNA</text>
<text x="311.2" y="1127.7" font-size="17.4" fill="#151515">GFP-vector</text>
<line x1="240.50" y1="980.30" x2="297.00" y2="980.30" stroke="#000" stroke-width="1.8"/>
<polygon points="309.00,980.30 294.00,985.30 297.75,980.30 294.00,975.30" fill="#000"/>
<path d="M266.6,953 L266.6,969 C266.6,977 270,980.3 280,980.3" stroke="#000" stroke-width="1.8" fill="none"/>
<line x1="242.50" y1="1047.30" x2="298.30" y2="1047.30" stroke="#000" stroke-width="1.8"/>
<polygon points="310.30,1047.30 295.30,1052.30 299.05,1047.30 295.30,1042.30" fill="#000"/>
<path d="M262.7,1075 L262.7,1058 C262.7,1050 266,1047.3 276,1047.3" stroke="#000" stroke-width="1.8" fill="none"/>
<ellipse cx="350.0" cy="962.3" rx="9" ry="6.7" fill="url(#g14)" stroke="#111" stroke-width="0.9"/>
<ellipse cx="351.3" cy="962.6" rx="5.04" ry="3.69" fill="url(#g14)" stroke="#111" stroke-width="0.9"/>
<ellipse cx="369.4" cy="959.0" rx="9" ry="6.7" fill="url(#g14)" stroke="#111" stroke-width="0.9"/>
<ellipse cx="370.7" cy="959.3" rx="5.04" ry="3.69" fill="url(#g14)" stroke="#111" stroke-width="0.9"/>
<ellipse cx="386.9" cy="966.5" rx="9" ry="6.7" fill="url(#g14)" stroke="#111" stroke-width="0.9"/>
<ellipse cx="388.2" cy="966.8" rx="5.04" ry="3.69" fill="url(#g14)" stroke="#111" stroke-width="0.9"/>
<ellipse cx="335.6" cy="974.0" rx="9" ry="6.7" fill="url(#g14)" stroke="#111" stroke-width="0.9"/>
<ellipse cx="336.9" cy="974.3" rx="5.04" ry="3.69" fill="url(#g14)" stroke="#111" stroke-width="0.9"/>
<ellipse cx="353.6" cy="979.0" rx="9" ry="6.7" fill="url(#g14)" stroke="#111" stroke-width="0.9"/>
<ellipse cx="354.9" cy="979.3" rx="5.04" ry="3.69" fill="url(#g14)" stroke="#111" stroke-width="0.9"/>
<ellipse cx="371.6" cy="974.0" rx="9" ry="6.7" fill="url(#g14)" stroke="#111" stroke-width="0.9"/>
<ellipse cx="372.9" cy="974.3" rx="5.04" ry="3.69" fill="url(#g14)" stroke="#111" stroke-width="0.9"/>
<ellipse cx="393.8" cy="981.2" rx="9" ry="6.7" fill="url(#g14)" stroke="#111" stroke-width="0.9"/>
<ellipse cx="395.1" cy="981.5" rx="5.04" ry="3.69" fill="url(#g14)" stroke="#111" stroke-width="0.9"/>
<ellipse cx="339.8" cy="987.8" rx="9" ry="6.7" fill="url(#g14)" stroke="#111" stroke-width="0.9"/>
<ellipse cx="341.1" cy="988.1" rx="5.04" ry="3.69" fill="url(#g14)" stroke="#111" stroke-width="0.9"/>
<ellipse cx="358.6" cy="994.2" rx="9" ry="6.7" fill="url(#g14)" stroke="#111" stroke-width="0.9"/>
<ellipse cx="359.9" cy="994.5" rx="5.04" ry="3.69" fill="url(#g14)" stroke="#111" stroke-width="0.9"/>
<ellipse cx="375.8" cy="988.7" rx="9" ry="6.7" fill="url(#g14)" stroke="#111" stroke-width="0.9"/>
<ellipse cx="377.1" cy="989.0" rx="5.04" ry="3.69" fill="url(#g14)" stroke="#111" stroke-width="0.9"/>
<ellipse cx="350.0" cy="1039.6" rx="9" ry="6.7" fill="url(#g15)" stroke="#111" stroke-width="0.9"/>
<ellipse cx="351.3" cy="1039.9" rx="5.04" ry="3.69" fill="url(#g15)" stroke="#111" stroke-width="0.9"/>
<ellipse cx="369.4" cy="1036.3" rx="9" ry="6.7" fill="url(#g15)" stroke="#111" stroke-width="0.9"/>
<ellipse cx="370.7" cy="1036.6" rx="5.04" ry="3.69" fill="url(#g15)" stroke="#111" stroke-width="0.9"/>
<ellipse cx="386.9" cy="1043.8" rx="9" ry="6.7" fill="url(#g15)" stroke="#111" stroke-width="0.9"/>
<ellipse cx="388.2" cy="1044.1" rx="5.04" ry="3.69" fill="url(#g15)" stroke="#111" stroke-width="0.9"/>
<ellipse cx="335.6" cy="1051.3" rx="9" ry="6.7" fill="url(#g15)" stroke="#111" stroke-width="0.9"/>
<ellipse cx="336.9" cy="1051.6" rx="5.04" ry="3.69" fill="url(#g15)" stroke="#111" stroke-width="0.9"/>
<ellipse cx="353.6" cy="1056.3" rx="9" ry="6.7" fill="url(#g15)" stroke="#111" stroke-width="0.9"/>
<ellipse cx="354.9" cy="1056.6" rx="5.04" ry="3.69" fill="url(#g15)" stroke="#111" stroke-width="0.9"/>
<ellipse cx="371.6" cy="1051.3" rx="9" ry="6.7" fill="url(#g15)" stroke="#111" stroke-width="0.9"/>
<ellipse cx="372.9" cy="1051.6" rx="5.04" ry="3.69" fill="url(#g15)" stroke="#111" stroke-width="0.9"/>
<ellipse cx="393.8" cy="1058.5" rx="9" ry="6.7" fill="url(#g15)" stroke="#111" stroke-width="0.9"/>
<ellipse cx="395.1" cy="1058.8" rx="5.04" ry="3.69" fill="url(#g15)" stroke="#111" stroke-width="0.9"/>
<ellipse cx="339.8" cy="1065.1" rx="9" ry="6.7" fill="url(#g15)" stroke="#111" stroke-width="0.9"/>
<ellipse cx="341.1" cy="1065.4" rx="5.04" ry="3.69" fill="url(#g15)" stroke="#111" stroke-width="0.9"/>
<ellipse cx="358.6" cy="1071.5" rx="9" ry="6.7" fill="url(#g15)" stroke="#111" stroke-width="0.9"/>
<ellipse cx="359.9" cy="1071.8" rx="5.04" ry="3.69" fill="url(#g15)" stroke="#111" stroke-width="0.9"/>
<ellipse cx="375.8" cy="1066.0" rx="9" ry="6.7" fill="url(#g15)" stroke="#111" stroke-width="0.9"/>
<ellipse cx="377.1" cy="1066.3" rx="5.04" ry="3.69" fill="url(#g15)" stroke="#111" stroke-width="0.9"/>
<line x1="390.10" y1="1012.70" x2="425.80" y2="1012.70" stroke="#000" stroke-width="1.8"/>
<polygon points="437.80,1012.70 422.80,1017.70 426.55,1012.70 422.80,1007.70" fill="#000"/>
<text x="442.9" y="964.2" font-size="17.4" fill="#151515">Mix in 1:1 ratio</text>
<ellipse cx="480.7" cy="987.0" rx="9" ry="6.7" fill="url(#g15)" stroke="#111" stroke-width="0.9"/>
<ellipse cx="482.0" cy="987.3" rx="5.04" ry="3.69" fill="url(#g15)" stroke="#111" stroke-width="0.9"/>
<ellipse cx="507.3" cy="985.6" rx="9" ry="6.7" fill="url(#g15)" stroke="#111" stroke-width="0.9"/>
<ellipse cx="508.6" cy="985.9" rx="5.04" ry="3.69" fill="url(#g15)" stroke="#111" stroke-width="0.9"/>
<ellipse cx="525.0" cy="989.1" rx="9" ry="6.7" fill="url(#g14)" stroke="#111" stroke-width="0.9"/>
<ellipse cx="526.3" cy="989.4" rx="5.04" ry="3.69" fill="url(#g14)" stroke="#111" stroke-width="0.9"/>
<ellipse cx="469.5" cy="999.5" rx="9" ry="6.7" fill="url(#g14)" stroke="#111" stroke-width="0.9"/>
<ellipse cx="470.8" cy="999.8" rx="5.04" ry="3.69" fill="url(#g14)" stroke="#111" stroke-width="0.9"/>
<ellipse cx="496.1" cy="998.6" rx="9" ry="6.7" fill="url(#g14)" stroke="#111" stroke-width="0.9"/>
<ellipse cx="497.4" cy="998.9" rx="5.04" ry="3.69" fill="url(#g14)" stroke="#111" stroke-width="0.9"/>
<ellipse cx="515.3" cy="1001.5" rx="9" ry="6.7" fill="url(#g15)" stroke="#111" stroke-width="0.9"/>
<ellipse cx="516.6" cy="1001.8" rx="5.04" ry="3.69" fill="url(#g15)" stroke="#111" stroke-width="0.9"/>
<ellipse cx="454.1" cy="1011.3" rx="9" ry="6.7" fill="url(#g15)" stroke="#111" stroke-width="0.9"/>
<ellipse cx="455.4" cy="1011.6" rx="5.04" ry="3.69" fill="url(#g15)" stroke="#111" stroke-width="0.9"/>
<ellipse cx="483.7" cy="1009.8" rx="9" ry="6.7" fill="url(#g15)" stroke="#111" stroke-width="0.9"/>
<ellipse cx="485.0" cy="1010.1" rx="5.04" ry="3.69" fill="url(#g15)" stroke="#111" stroke-width="0.9"/>
<ellipse cx="505.8" cy="1015.7" rx="9" ry="6.7" fill="url(#g14)" stroke="#111" stroke-width="0.9"/>
<ellipse cx="507.1" cy="1016.0" rx="5.04" ry="3.69" fill="url(#g14)" stroke="#111" stroke-width="0.9"/>
<ellipse cx="524.1" cy="1015.7" rx="9" ry="6.7" fill="url(#g14)" stroke="#111" stroke-width="0.9"/>
<ellipse cx="525.4" cy="1016.0" rx="5.04" ry="3.69" fill="url(#g14)" stroke="#111" stroke-width="0.9"/>
<ellipse cx="468.6" cy="1020.7" rx="9" ry="6.7" fill="url(#g14)" stroke="#111" stroke-width="0.9"/>
<ellipse cx="469.9" cy="1021.0" rx="5.04" ry="3.69" fill="url(#g14)" stroke="#111" stroke-width="0.9"/>
<ellipse cx="489.3" cy="1025.5" rx="9" ry="6.7" fill="url(#g14)" stroke="#111" stroke-width="0.9"/>
<ellipse cx="490.6" cy="1025.8" rx="5.04" ry="3.69" fill="url(#g14)" stroke="#111" stroke-width="0.9"/>
<ellipse cx="507.0" cy="1031.1" rx="9" ry="6.7" fill="url(#g15)" stroke="#111" stroke-width="0.9"/>
<ellipse cx="508.3" cy="1031.4" rx="5.04" ry="3.69" fill="url(#g15)" stroke="#111" stroke-width="0.9"/>
<ellipse cx="475.4" cy="1034.9" rx="9" ry="6.7" fill="url(#g15)" stroke="#111" stroke-width="0.9"/>
<ellipse cx="476.7" cy="1035.2" rx="5.04" ry="3.69" fill="url(#g15)" stroke="#111" stroke-width="0.9"/>
<line x1="540.40" y1="1010.90" x2="576.30" y2="1010.90" stroke="#000" stroke-width="1.8"/>
<polygon points="588.30,1010.90 573.30,1015.90 577.05,1010.90 573.30,1005.90" fill="#000"/>
<path d="M597.5,1003 L597.5,1021 A41.3,6.8 0 0 0 680.1,1021 L680.1,1003 Z" fill="url(#dish)" stroke="#000" stroke-width="1.2"/>
<ellipse cx="638.8" cy="1008.5" rx="40.5" ry="5.2" fill="#e8402b"/>
<path d="M598,1012 A41,6 0 0 0 679.6,1012" fill="none" stroke="#000" stroke-width="0.8"/>
<ellipse cx="638.8" cy="1002.8" rx="41.3" ry="6.3" fill="none" stroke="#000" stroke-width="1.2"/>
<text x="583.3" y="1052.0" font-size="17.4" fill="#151515">Liquid culture</text>
<line x1="695.00" y1="1012.10" x2="730.90" y2="1012.10" stroke="#000" stroke-width="1.8"/>
<polygon points="742.90,1012.10 727.90,1017.10 731.65,1012.10 727.90,1007.10" fill="#000"/>
<ellipse cx="790.3" cy="995.3" rx="9" ry="6.7" fill="url(#g15)" stroke="#111" stroke-width="0.9"/>
<ellipse cx="791.6" cy="995.6" rx="5.04" ry="3.69" fill="url(#g15)" stroke="#111" stroke-width="0.9"/>
<ellipse cx="817.5" cy="994.4" rx="9" ry="6.7" fill="url(#g15)" stroke="#111" stroke-width="0.9"/>
<ellipse cx="818.8" cy="994.7" rx="5.04" ry="3.69" fill="url(#g15)" stroke="#111" stroke-width="0.9"/>
<ellipse cx="834.6" cy="997.7" rx="9" ry="6.7" fill="url(#g15)" stroke="#111" stroke-width="0.9"/>
<ellipse cx="835.9" cy="998.0" rx="5.04" ry="3.69" fill="url(#g15)" stroke="#111" stroke-width="0.9"/>
<ellipse cx="778.5" cy="1007.7" rx="9" ry="6.7" fill="url(#g14)" stroke="#111" stroke-width="0.9"/>
<ellipse cx="779.8" cy="1008.0" rx="5.04" ry="3.69" fill="url(#g14)" stroke="#111" stroke-width="0.9"/>
<ellipse cx="805.7" cy="1006.6" rx="9" ry="6.7" fill="url(#g14)" stroke="#111" stroke-width="0.9"/>
<ellipse cx="807.0" cy="1006.9" rx="5.04" ry="3.69" fill="url(#g14)" stroke="#111" stroke-width="0.9"/>
<ellipse cx="824.9" cy="1009.5" rx="9" ry="6.7" fill="url(#g15)" stroke="#111" stroke-width="0.9"/>
<ellipse cx="826.2" cy="1009.8" rx="5.04" ry="3.69" fill="url(#g15)" stroke="#111" stroke-width="0.9"/>
<ellipse cx="763.7" cy="1019.0" rx="9" ry="6.7" fill="url(#g15)" stroke="#111" stroke-width="0.9"/>
<ellipse cx="765.0" cy="1019.3" rx="5.04" ry="3.69" fill="url(#g15)" stroke="#111" stroke-width="0.9"/>
<ellipse cx="793.0" cy="1017.5" rx="9" ry="6.7" fill="url(#g15)" stroke="#111" stroke-width="0.9"/>
<ellipse cx="794.3" cy="1017.8" rx="5.04" ry="3.69" fill="url(#g15)" stroke="#111" stroke-width="0.9"/>
<ellipse cx="815.1" cy="1023.4" rx="9" ry="6.7" fill="url(#g15)" stroke="#111" stroke-width="0.9"/>
<ellipse cx="816.4" cy="1023.7" rx="5.04" ry="3.69" fill="url(#g15)" stroke="#111" stroke-width="0.9"/>
<ellipse cx="833.8" cy="1023.4" rx="9" ry="6.7" fill="url(#g15)" stroke="#111" stroke-width="0.9"/>
<ellipse cx="835.1" cy="1023.7" rx="5.04" ry="3.69" fill="url(#g15)" stroke="#111" stroke-width="0.9"/>
<ellipse cx="777.6" cy="1028.4" rx="9" ry="6.7" fill="url(#g14)" stroke="#111" stroke-width="0.9"/>
<ellipse cx="778.9" cy="1028.7" rx="5.04" ry="3.69" fill="url(#g14)" stroke="#111" stroke-width="0.9"/>
<ellipse cx="798.3" cy="1032.9" rx="9" ry="6.7" fill="url(#g14)" stroke="#111" stroke-width="0.9"/>
<ellipse cx="799.6" cy="1033.2" rx="5.04" ry="3.69" fill="url(#g14)" stroke="#111" stroke-width="0.9"/>
<ellipse cx="816.6" cy="1038.2" rx="9" ry="6.7" fill="url(#g15)" stroke="#111" stroke-width="0.9"/>
<ellipse cx="817.9" cy="1038.5" rx="5.04" ry="3.69" fill="url(#g15)" stroke="#111" stroke-width="0.9"/>
<ellipse cx="785.0" cy="1042.0" rx="9" ry="6.7" fill="url(#g15)" stroke="#111" stroke-width="0.9"/>
<ellipse cx="786.3" cy="1042.3" rx="5.04" ry="3.69" fill="url(#g15)" stroke="#111" stroke-width="0.9"/>
<text x="742.9" y="1075.7" font-size="17.4" fill="#151515">Day 3, 6, 9...</text>
<text x="743.8" y="1097.3" font-size="17.4" fill="#151515">Assess ratio</text>
<text x="921.0" y="562.5" font-size="42.5" font-weight="bold" fill="#000">D</text>
<text x="1200.0" y="575.4" font-size="24.3" text-anchor="middle" font-weight="bold" fill="#000">Competitive BMT</text>
<text x="1072.5" y="619.3" font-size="17.4" text-anchor="middle" fill="#151515">shControl</text>
<text x="1323.2" y="619.3" font-size="17.4" text-anchor="middle" fill="#151515">shKdm5c</text>
<line x1="935.00" y1="662.00" x2="935.00" y2="1124.50" stroke="#000" stroke-width="2.4"/>
<polygon points="935.00,636.50 943.00,665.50 935.00,665.50 927.00,665.50" fill="#000"/>
<line x1="951.80" y1="1173.60" x2="1422.00" y2="1173.60" stroke="#000" stroke-width="2.4"/>
<polygon points="1450.00,1173.60 1419.50,1180.90 1419.50,1173.60 1419.50,1166.30" fill="#000"/>
<text x="1111.8" y="1209.3" font-size="24.0" fill="#151515">shRNA-GFP</text>
<text x="922" y="862.4" font-size="23.4" text-anchor="middle" fill="#1a1a1a" transform="rotate(-90 922 862.4)">shControl-YFP</text>
<rect x="961.5" y="633.6" width="224.2" height="224.6" fill="none" stroke="#444" stroke-width="1"/>
<path d="M955.9,654.8 H961.5 M955.9,708.6 H961.5 M955.9,768.9 H961.5 M955.9,843.6 H961.5 M958.5,692.4 H961.5 M958.5,682.9 H961.5 M958.5,676.2 H961.5 M958.5,671.0 H961.5 M958.5,666.7 H961.5 M958.5,663.1 H961.5 M958.5,660.0 H961.5 M958.5,657.3 H961.5 M958.5,750.7 H961.5 M958.5,740.1 H961.5 M958.5,732.6 H961.5 M958.5,726.8 H961.5 M958.5,722.0 H961.5 M958.5,717.9 H961.5 M958.5,714.4 H961.5 M958.5,711.4 H961.5 M958.5,638.6 H961.5 M958.5,774.6 H961.5 M958.5,780.6 H961.5 M958.5,786.6 H961.5 M958.5,791.6 H961.5 M958.5,796.6 H961.5 M958.5,799.6 H961.5 M958.5,802.1 H961.5 M958.5,803.6 H961.5 M958.5,805.1 H961.5 M958.5,806.6 H961.5 M958.5,808.1 H961.5 M958.5,809.6 H961.5 M958.5,811.6 H961.5 M958.5,814.6 H961.5 M958.5,818.6 H961.5 M958.5,823.6 H961.5 M958.5,829.6 H961.5 M958.5,836.6 H961.5 M955.5,803.1 H961.5 M955.5,804.6 H961.5 M955.5,806.1 H961.5 M955.5,807.6 H961.5 M975.4,858.2 v5.6 M1049.0,858.2 v5.6 M1110.3,858.2 v5.6 M1163.5,858.2 v5.6 M1067.5,858.2 v3 M1078.2,858.2 v3 M1085.9,858.2 v3 M1091.8,858.2 v3 M1096.7,858.2 v3 M1100.8,858.2 v3 M1104.4,858.2 v3 M1107.5,858.2 v3 M1126.3,858.2 v3 M1135.7,858.2 v3 M1142.3,858.2 v3 M1147.5,858.2 v3 M1151.7,858.2 v3 M1155.3,858.2 v3 M1158.3,858.2 v3 M1161.1,858.2 v3 M1179.5,858.2 v3 M980.5,858.2 v3 M985.5,858.2 v3 M990.5,858.2 v3 M994.5,858.2 v3 M998.5,858.2 v3 M1002.0,858.2 v3 M1004.5,858.2 v3 M1006.5,858.2 v3 M1008.5,858.2 v3 M1010.0,858.2 v3 M1011.5,858.2 v3 M1013.0,858.2 v3 M1014.5,858.2 v3 M1016.5,858.2 v3 M1019.5,858.2 v3 M1023.5,858.2 v3 M1028.5,858.2 v3 M1033.5,858.2 v3 M1038.5,858.2 v3 M1043.5,858.2 v3 M1007.5,858.2 v5 M1009.5,858.2 v5 M1011.5,858.2 v5 M1013.5,858.2 v5" stroke="#333" stroke-width="0.9" fill="none"/>
<path d="M1016.50,683.20 C1033.83,683.20 1034.65,727.08 1026.40,742.88 C1021.45,756.70 1011.55,756.70 1006.60,742.88 C998.35,727.08 999.17,683.20 1016.50,683.20 Z" fill="none" stroke="#000" stroke-width="0.9"/>
<path d="M1016.50,689.70 C1030.99,689.70 1031.68,724.20 1024.78,735.40 C1020.64,745.20 1012.36,745.20 1008.22,735.40 C1001.32,724.20 1002.01,689.70 1016.50,689.70 Z" fill="none" stroke="#000" stroke-width="0.9"/>
<path d="M1016.50,696.20 C1028.37,696.20 1028.93,722.45 1023.28,730.85 C1019.89,738.20 1013.11,738.20 1009.72,730.85 C1004.07,722.45 1004.63,696.20 1016.50,696.20 Z" fill="none" stroke="#000" stroke-width="0.9"/>
<path d="M1016.50,703.20 C1025.74,703.20 1026.18,720.95 1021.78,726.95 C1019.14,732.20 1013.86,732.20 1011.22,726.95 C1006.82,720.95 1007.26,703.20 1016.50,703.20 Z" fill="none" stroke="#000" stroke-width="0.9"/>
<path d="M1016.50,708.20 C1023.01,708.20 1023.32,719.58 1020.22,723.38 C1018.36,726.70 1014.64,726.70 1012.78,723.38 C1009.68,719.58 1009.99,708.20 1016.50,708.20 Z" fill="none" stroke="#000" stroke-width="0.9"/>
<path d="M1016.50,712.70 C1019.86,712.70 1020.02,718.95 1018.42,721.75 C1017.46,724.20 1015.54,724.20 1014.58,721.75 C1012.98,718.95 1013.14,712.70 1016.50,712.70 Z" fill="none" stroke="#000" stroke-width="0.9"/>
<circle cx="1016.4" cy="802.1" r="14.60" fill="none" stroke="#000" stroke-width="2.6"/>
<circle cx="1016.4" cy="802.1" r="9.90" fill="none" stroke="#000" stroke-width="0.7"/>
<circle cx="1016.6" cy="801.9" r="10.70" fill="none" stroke="#000" stroke-width="0.7"/>
<circle cx="1016.8" cy="801.7" r="11.50" fill="none" stroke="#000" stroke-width="0.7"/>
<circle cx="1017.0" cy="801.5" r="12.30" fill="none" stroke="#000" stroke-width="0.7"/>
<circle cx="1016.4" cy="802.1" r="8.50" fill="#000"/>
<circle cx="1016.4" cy="802.1" r="5.95" fill="none" stroke="#fff" stroke-width="0.35" stroke-dasharray="1 1.5"/>
<circle cx="1016.1" cy="802.4" r="0.9" fill="#fff"/>
<path d="M1011.2,779 L1022.1,779 C1028,787 1036,794 1038.4,800.7 C1036,808 1026,815.8 1015.9,815.8 C1007,815.8 1002,808 1002.2,799.6 C1003,791 1008,785 1011.2,779 Z" fill="none" stroke="#000" stroke-width="0.8"/>
<path d="M1085.50,800.65 C1094.80,784.15 1116.50,778.38 1134.65,777.55 C1151.15,776.73 1152.80,808.90 1133.00,814.67 C1116.50,817.98 1093.25,815.50 1085.50,800.65 Z" fill="none" stroke="#000" stroke-width="0.9"/>
<path d="M1091.50,800.25 C1099.00,787.75 1116.50,783.38 1131.35,782.75 C1144.85,782.12 1146.20,806.50 1130.00,810.88 C1116.50,813.38 1097.75,811.50 1091.50,800.25 Z" fill="none" stroke="#000" stroke-width="0.9"/>
<path d="M1097.50,799.90 C1103.20,790.90 1116.50,787.75 1128.05,787.30 C1138.55,786.85 1139.60,804.40 1127.00,807.55 C1116.50,809.35 1102.25,808.00 1097.50,799.90 Z" fill="none" stroke="#000" stroke-width="0.9"/>
<path d="M1104.50,799.60 C1108.10,793.60 1116.50,791.50 1124.20,791.20 C1131.20,790.90 1131.90,802.60 1123.50,804.70 C1116.50,805.90 1107.50,805.00 1104.50,799.60 Z" fill="none" stroke="#000" stroke-width="0.9"/>
<polygon points="981.0,654.8 1062.3,653.9 1038.4,777.0 999.5,777.8" fill="none" stroke="#000" stroke-width="3" stroke-linejoin="miter"/>
<polygon points="1040.4,782.2 1176.8,739.4 1175.8,835.9 1040.4,814.0" fill="none" stroke="#000" stroke-width="3" stroke-linejoin="miter"/>
<rect x="1220.4" y="635.4" width="224.2" height="224.6" fill="none" stroke="#444" stroke-width="1"/>
<path d="M1214.8000000000002,656.6 H1220.4 M1214.8000000000002,710.4 H1220.4 M1214.8000000000002,770.7 H1220.4 M1214.8000000000002,845.4 H1220.4 M1217.4,694.2 H1220.4 M1217.4,684.7 H1220.4 M1217.4,678.0 H1220.4 M1217.4,672.8 H1220.4 M1217.4,668.5 H1220.4 M1217.4,664.9 H1220.4 M1217.4,661.8 H1220.4 M1217.4,659.1 H1220.4 M1217.4,752.5 H1220.4 M1217.4,741.9 H1220.4 M1217.4,734.4 H1220.4 M1217.4,728.6 H1220.4 M1217.4,723.8 H1220.4 M1217.4,719.7 H1220.4 M1217.4,716.2 H1220.4 M1217.4,713.2 H1220.4 M1217.4,640.4 H1220.4 M1217.4,776.4 H1220.4 M1217.4,782.4 H1220.4 M1217.4,788.4 H1220.4 M1217.4,793.4 H1220.4 M1217.4,798.4 H1220.4 M1217.4,801.4 H1220.4 M1217.4,803.9 H1220.4 M1217.4,805.4 H1220.4 M1217.4,806.9 H1220.4 M1217.4,808.4 H1220.4 M1217.4,809.9 H1220.4 M1217.4,811.4 H1220.4 M1217.4,813.4 H1220.4 M1217.4,816.4 H1220.4 M1217.4,820.4 H1220.4 M1217.4,825.4 H1220.4 M1217.4,831.4 H1220.4 M1217.4,838.4 H1220.4 M1214.4,804.9 H1220.4 M1214.4,806.4 H1220.4 M1214.4,807.9 H1220.4 M1214.4,809.4 H1220.4 M1234.3,860.0 v5.6 M1307.9,860.0 v5.6 M1369.2,860.0 v5.6 M1422.4,860.0 v5.6 M1326.4,860.0 v3 M1337.1,860.0 v3 M1344.8,860.0 v3 M1350.7,860.0 v3 M1355.6,860.0 v3 M1359.7,860.0 v3 M1363.3,860.0 v3 M1366.4,860.0 v3 M1385.2,860.0 v3 M1394.6,860.0 v3 M1401.2,860.0 v3 M1406.4,860.0 v3 M1410.6,860.0 v3 M1414.2,860.0 v3 M1417.2,860.0 v3 M1420.0,860.0 v3 M1438.4,860.0 v3 M1239.4,860.0 v3 M1244.4,860.0 v3 M1249.4,860.0 v3 M1253.4,860.0 v3 M1257.4,860.0 v3 M1260.9,860.0 v3 M1263.4,860.0 v3 M1265.4,860.0 v3 M1267.4,860.0 v3 M1268.9,860.0 v3 M1270.4,860.0 v3 M1271.9,860.0 v3 M1273.4,860.0 v3 M1275.4,860.0 v3 M1278.4,860.0 v3 M1282.4,860.0 v3 M1287.4,860.0 v3 M1292.4,860.0 v3 M1297.4,860.0 v3 M1302.4,860.0 v3 M1266.4,860.0 v5 M1268.4,860.0 v5 M1270.4,860.0 v5 M1272.4,860.0 v5" stroke="#333" stroke-width="0.9" fill="none"/>
<path d="M1275.00,685.40 C1291.28,685.40 1292.05,724.65 1284.30,737.85 C1279.65,749.40 1270.35,749.40 1265.70,737.85 C1257.95,724.65 1258.72,685.40 1275.00,685.40 Z" fill="none" stroke="#000" stroke-width="0.9"/>
<path d="M1275.00,692.40 C1288.12,692.40 1288.75,722.65 1282.50,732.65 C1278.75,741.40 1271.25,741.40 1267.50,732.65 C1261.25,722.65 1261.88,692.40 1275.00,692.40 Z" fill="none" stroke="#000" stroke-width="0.9"/>
<path d="M1275.00,699.40 C1285.29,699.40 1285.78,720.90 1280.88,728.10 C1277.94,734.40 1272.06,734.40 1269.12,728.10 C1264.22,720.90 1264.71,699.40 1275.00,699.40 Z" fill="none" stroke="#000" stroke-width="0.9"/>
<path d="M1275.00,706.40 C1281.83,706.40 1282.15,719.15 1278.90,723.55 C1276.95,727.40 1273.05,727.40 1271.10,723.55 C1267.85,719.15 1268.17,706.40 1275.00,706.40 Z" fill="none" stroke="#000" stroke-width="0.9"/>
<path d="M1275.00,711.40 C1278.36,711.40 1278.52,718.15 1276.92,720.95 C1275.96,723.40 1274.04,723.40 1273.08,720.95 C1271.48,718.15 1271.64,711.40 1275.00,711.40 Z" fill="none" stroke="#000" stroke-width="0.9"/>
<circle cx="1275.6" cy="803.2" r="15.00" fill="none" stroke="#000" stroke-width="2.6"/>
<circle cx="1275.6" cy="803.2" r="10.04" fill="none" stroke="#000" stroke-width="0.7"/>
<circle cx="1275.8" cy="803.0" r="10.91" fill="none" stroke="#000" stroke-width="0.7"/>
<circle cx="1276.0" cy="802.8000000000001" r="11.79" fill="none" stroke="#000" stroke-width="0.7"/>
<circle cx="1276.1999999999998" cy="802.6" r="12.66" fill="none" stroke="#000" stroke-width="0.7"/>
<circle cx="1275.6" cy="803.2" r="8.60" fill="#000"/>
<circle cx="1275.6" cy="803.2" r="6.02" fill="none" stroke="#fff" stroke-width="0.35" stroke-dasharray="1 1.5"/>
<circle cx="1275.3" cy="803.5" r="0.9" fill="#fff"/>
<ellipse cx="1276.2" cy="803.2" rx="18" ry="17.6" fill="none" stroke="#000" stroke-width="0.8"/>
<path d="M1346.00,802.20 C1353.80,790.20 1372.00,786.00 1386.30,785.40 C1399.30,784.80 1400.60,808.20 1385.00,812.40 C1372.00,814.80 1352.50,813.00 1346.00,802.20 Z" fill="none" stroke="#000" stroke-width="0.9"/>
<path d="M1353.00,801.85 C1358.70,793.35 1372.00,790.38 1382.45,789.95 C1391.95,789.52 1392.90,806.10 1381.50,809.08 C1372.00,810.77 1357.75,809.50 1353.00,801.85 Z" fill="none" stroke="#000" stroke-width="0.9"/>
<path d="M1360.00,801.55 C1363.60,796.05 1372.00,794.12 1378.60,793.85 C1384.60,793.58 1385.20,804.30 1378.00,806.23 C1372.00,807.33 1363.00,806.50 1360.00,801.55 Z" fill="none" stroke="#000" stroke-width="0.9"/>
<path d="M1367.00,801.30 C1368.50,798.30 1372.00,797.25 1375.30,797.10 C1378.30,796.95 1378.60,802.80 1375.00,803.85 C1372.00,804.45 1368.25,804.00 1367.00,801.30 Z" fill="none" stroke="#000" stroke-width="0.9"/>
<polygon points="1240.0,656.4 1321.4,655.7 1297.1,778.2 1258.9,778.9" fill="none" stroke="#000" stroke-width="3" stroke-linejoin="miter"/>
<polygon points="1299.3,784.3 1435.7,741.4 1434.6,837.1 1299.3,815.4" fill="none" stroke="#000" stroke-width="3" stroke-linejoin="miter"/>
<rect x="963.6" y="909.3" width="224.2" height="224.6" fill="none" stroke="#444" stroke-width="1"/>
<path d="M958.0,930.5 H963.6 M958.0,984.3 H963.6 M958.0,1044.6 H963.6 M958.0,1119.3 H963.6 M960.6,968.1 H963.6 M960.6,958.6 H963.6 M960.6,951.9 H963.6 M960.6,946.7 H963.6 M960.6,942.4 H963.6 M960.6,938.8 H963.6 M960.6,935.7 H963.6 M960.6,933.0 H963.6 M960.6,1026.4 H963.6 M960.6,1015.8 H963.6 M960.6,1008.3 H963.6 M960.6,1002.5 H963.6 M960.6,997.7 H963.6 M960.6,993.6 H963.6 M960.6,990.1 H963.6 M960.6,987.1 H963.6 M960.6,914.3 H963.6 M960.6,1050.3 H963.6 M960.6,1056.3 H963.6 M960.6,1062.3 H963.6 M960.6,1067.3 H963.6 M960.6,1072.3 H963.6 M960.6,1075.3 H963.6 M960.6,1077.8 H963.6 M960.6,1079.3 H963.6 M960.6,1080.8 H963.6 M960.6,1082.3 H963.6 M960.6,1083.8 H963.6 M960.6,1085.3 H963.6 M960.6,1087.3 H963.6 M960.6,1090.3 H963.6 M960.6,1094.3 H963.6 M960.6,1099.3 H963.6 M960.6,1105.3 H963.6 M960.6,1112.3 H963.6 M957.6,1078.8 H963.6 M957.6,1080.3 H963.6 M957.6,1081.8 H963.6 M957.6,1083.3 H963.6 M977.5,1133.8999999999999 v5.6 M1051.1,1133.8999999999999 v5.6 M1112.4,1133.8999999999999 v5.6 M1165.6,1133.8999999999999 v5.6 M1069.6,1133.8999999999999 v3 M1080.3,1133.8999999999999 v3 M1088.0,1133.8999999999999 v3 M1093.9,1133.8999999999999 v3 M1098.8,1133.8999999999999 v3 M1102.9,1133.8999999999999 v3 M1106.5,1133.8999999999999 v3 M1109.6,1133.8999999999999 v3 M1128.4,1133.8999999999999 v3 M1137.8,1133.8999999999999 v3 M1144.4,1133.8999999999999 v3 M1149.6,1133.8999999999999 v3 M1153.8,1133.8999999999999 v3 M1157.4,1133.8999999999999 v3 M1160.4,1133.8999999999999 v3 M1163.2,1133.8999999999999 v3 M1181.6,1133.8999999999999 v3 M982.6,1133.8999999999999 v3 M987.6,1133.8999999999999 v3 M992.6,1133.8999999999999 v3 M996.6,1133.8999999999999 v3 M1000.6,1133.8999999999999 v3 M1004.1,1133.8999999999999 v3 M1006.6,1133.8999999999999 v3 M1008.6,1133.8999999999999 v3 M1010.6,1133.8999999999999 v3 M1012.1,1133.8999999999999 v3 M1013.6,1133.8999999999999 v3 M1015.1,1133.8999999999999 v3 M1016.6,1133.8999999999999 v3 M1018.6,1133.8999999999999 v3 M1021.6,1133.8999999999999 v3 M1025.6,1133.8999999999999 v3 M1030.6,1133.8999999999999 v3 M1035.6,1133.8999999999999 v3 M1040.6,1133.8999999999999 v3 M1045.6,1133.8999999999999 v3 M1009.6,1133.8999999999999 v5 M1011.6,1133.8999999999999 v5 M1013.6,1133.8999999999999 v5 M1015.6,1133.8999999999999 v5" stroke="#333" stroke-width="0.9" fill="none"/>
<path d="M1015,962 C1029,962 1030,985 1026,1010 C1023,1040 1021,1060 1021,1072 L1008,1072 C1007,1060 1004,1040 1003,1010 C1000,985 1001,962 1015,962 Z" fill="none" stroke="#000" stroke-width="0.8"/>
<path d="M1015.00,968.50 C1029.17,968.50 1029.85,1005.50 1023.10,1018.30 C1019.05,1029.50 1010.95,1029.50 1006.90,1018.30 C1000.15,1005.50 1000.83,968.50 1015.00,968.50 Z" fill="none" stroke="#000" stroke-width="0.9"/>
<path d="M1015.00,976.50 C1026.03,976.50 1026.55,1003.25 1021.30,1012.45 C1018.15,1020.50 1011.85,1020.50 1008.70,1012.45 C1003.45,1003.25 1003.98,976.50 1015.00,976.50 Z" fill="none" stroke="#000" stroke-width="0.9"/>
<path d="M1015.00,983.50 C1022.88,983.50 1023.25,1001.38 1019.50,1007.58 C1017.25,1013.00 1012.75,1013.00 1010.50,1007.58 C1006.75,1001.38 1007.12,983.50 1015.00,983.50 Z" fill="none" stroke="#000" stroke-width="0.9"/>
<path d="M1015.00,990.50 C1019.41,990.50 1019.62,999.75 1017.52,1003.35 C1016.26,1006.50 1013.74,1006.50 1012.48,1003.35 C1010.38,999.75 1010.59,990.50 1015.00,990.50 Z" fill="none" stroke="#000" stroke-width="0.9"/>
<circle cx="1014.6" cy="1081.4" r="7.60" fill="none" stroke="#000" stroke-width="2.6"/>
<circle cx="1014.6" cy="1081.4" r="5.26" fill="none" stroke="#000" stroke-width="0.7"/>
<circle cx="1014.8000000000001" cy="1081.2" r="5.39" fill="none" stroke="#000" stroke-width="0.7"/>
<circle cx="1015.0" cy="1081.0" r="5.51" fill="none" stroke="#000" stroke-width="0.7"/>
<circle cx="1015.2" cy="1080.8000000000002" r="5.64" fill="none" stroke="#000" stroke-width="0.7"/>
<circle cx="1014.6" cy="1081.4" r="4.20" fill="#000"/>
<circle cx="1014.6" cy="1081.4" r="2.94" fill="none" stroke="#fff" stroke-width="0.35" stroke-dasharray="1 1.5"/>
<circle cx="1014.3000000000001" cy="1081.7" r="0.9" fill="#fff"/>
<ellipse cx="1014.6" cy="1081.4" rx="9.6" ry="9.4" fill="none" stroke="#000" stroke-width="0.8"/>
<path d="M1004,1081 C1004,1068 1020,1066 1030,1071 C1050,1063 1090,1055 1120,1057 C1140,1058 1140,1075 1132,1088 C1120,1098 1080,1097 1050,1093 C1040,1092 1030,1094 1022,1095 C1010,1097 1004,1090 1004,1081 Z" fill="none" stroke="#000" stroke-width="0.8"/>
<path d="M1022,1077 C1040,1070 1050,1076 1060,1074 M1022,1087 C1040,1090 1050,1087 1060,1088" fill="none" stroke="#000" stroke-width="0.8"/>
<path d="M1070.40,1079.70 C1078.20,1067.70 1096.40,1065.90 1111.80,1065.30 C1125.80,1064.70 1127.20,1085.70 1110.40,1089.90 C1096.40,1092.30 1076.90,1090.50 1070.40,1079.70 Z" fill="none" stroke="#000" stroke-width="0.9"/>
<path d="M1078.40,1079.30 C1083.80,1071.30 1096.40,1070.10 1107.40,1069.70 C1117.40,1069.30 1118.40,1083.30 1106.40,1086.10 C1096.40,1087.70 1082.90,1086.50 1078.40,1079.30 Z" fill="none" stroke="#000" stroke-width="0.9"/>
<path d="M1086.40,1078.95 C1089.40,1074.45 1096.40,1073.78 1103.00,1073.55 C1109.00,1073.33 1109.60,1081.20 1102.40,1082.78 C1096.40,1083.67 1088.90,1083.00 1086.40,1078.95 Z" fill="none" stroke="#000" stroke-width="0.9"/>
<polygon points="973.9,941.1 1063.6,939.3 1026.8,1063.9 1000.7,1063.9" fill="none" stroke="#000" stroke-width="3" stroke-linejoin="miter"/>
<polygon points="1032.1,1064.6 1166.1,1021.4 1166.1,1111.1 1032.1,1096.1" fill="none" stroke="#000" stroke-width="3" stroke-linejoin="miter"/>
<rect x="1223.2" y="910.7" width="224.2" height="224.6" fill="none" stroke="#444" stroke-width="1"/>
<path d="M1217.6000000000001,931.9 H1223.2 M1217.6000000000001,985.7 H1223.2 M1217.6000000000001,1046.0 H1223.2 M1217.6000000000001,1120.7 H1223.2 M1220.2,969.5 H1223.2 M1220.2,960.0 H1223.2 M1220.2,953.3 H1223.2 M1220.2,948.1 H1223.2 M1220.2,943.8 H1223.2 M1220.2,940.2 H1223.2 M1220.2,937.1 H1223.2 M1220.2,934.4 H1223.2 M1220.2,1027.8 H1223.2 M1220.2,1017.2 H1223.2 M1220.2,1009.7 H1223.2 M1220.2,1003.9 H1223.2 M1220.2,999.1 H1223.2 M1220.2,995.0 H1223.2 M1220.2,991.5 H1223.2 M1220.2,988.5 H1223.2 M1220.2,915.7 H1223.2 M1220.2,1051.7 H1223.2 M1220.2,1057.7 H1223.2 M1220.2,1063.7 H1223.2 M1220.2,1068.7 H1223.2 M1220.2,1073.7 H1223.2 M1220.2,1076.7 H1223.2 M1220.2,1079.2 H1223.2 M1220.2,1080.7 H1223.2 M1220.2,1082.2 H1223.2 M1220.2,1083.7 H1223.2 M1220.2,1085.2 H1223.2 M1220.2,1086.7 H1223.2 M1220.2,1088.7 H1223.2 M1220.2,1091.7 H1223.2 M1220.2,1095.7 H1223.2 M1220.2,1100.7 H1223.2 M1220.2,1106.7 H1223.2 M1220.2,1113.7 H1223.2 M1217.2,1080.2 H1223.2 M1217.2,1081.7 H1223.2 M1217.2,1083.2 H1223.2 M1217.2,1084.7 H1223.2 M1237.1,1135.3 v5.6 M1310.7,1135.3 v5.6 M1372.0,1135.3 v5.6 M1425.2,1135.3 v5.6 M1329.2,1135.3 v3 M1339.9,1135.3 v3 M1347.6,1135.3 v3 M1353.5,1135.3 v3 M1358.4,1135.3 v3 M1362.5,1135.3 v3 M1366.1,1135.3 v3 M1369.2,1135.3 v3 M1388.0,1135.3 v3 M1397.4,1135.3 v3 M1404.0,1135.3 v3 M1409.2,1135.3 v3 M1413.4,1135.3 v3 M1417.0,1135.3 v3 M1420.0,1135.3 v3 M1422.8,1135.3 v3 M1441.2,1135.3 v3 M1242.2,1135.3 v3 M1247.2,1135.3 v3 M1252.2,1135.3 v3 M1256.2,1135.3 v3 M1260.2,1135.3 v3 M1263.7,1135.3 v3 M1266.2,1135.3 v3 M1268.2,1135.3 v3 M1270.2,1135.3 v3 M1271.7,1135.3 v3 M1273.2,1135.3 v3 M1274.7,1135.3 v3 M1276.2,1135.3 v3 M1278.2,1135.3 v3 M1281.2,1135.3 v3 M1285.2,1135.3 v3 M1290.2,1135.3 v3 M1295.2,1135.3 v3 M1300.2,1135.3 v3 M1305.2,1135.3 v3 M1269.2,1135.3 v5 M1271.2,1135.3 v5 M1273.2,1135.3 v5 M1275.2,1135.3 v5" stroke="#333" stroke-width="0.9" fill="none"/>
<circle cx="1274.3" cy="1082.8" r="8.6" fill="#000"/>
<circle cx="1274.3" cy="1082.8" r="6.9" fill="none" stroke="#fff" stroke-width="0.35" stroke-dasharray="1 2"/>
<circle cx="1274.3" cy="1082.8" r="0.9" fill="#fff"/>
<path d="M1338.92,1082.24 C1338.51,1080.07 1342.85,1077.28 1345.12,1075.42 C1347.39,1073.56 1348.84,1072.37 1352.56,1071.08 C1356.28,1069.79 1363.10,1068.34 1367.44,1067.67 C1371.78,1067.00 1375.86,1065.76 1378.60,1067.05 C1381.34,1068.34 1383.35,1072.37 1383.87,1075.42 C1384.39,1078.47 1383.40,1082.91 1381.70,1085.34 C1380.00,1087.77 1377.26,1089.11 1373.64,1089.99 C1370.02,1090.87 1364.34,1090.87 1360.00,1090.61 C1355.66,1090.35 1351.11,1089.84 1347.60,1088.44 C1344.09,1087.05 1339.33,1084.41 1338.92,1082.24 Z" fill="#777" stroke="none"/>
<path d="M1344.10,1081.70 C1343.87,1080.47 1346.32,1078.90 1347.60,1077.85 C1348.88,1076.80 1349.70,1076.13 1351.80,1075.40 C1353.90,1074.67 1357.75,1073.85 1360.20,1073.47 C1362.65,1073.10 1364.95,1072.40 1366.50,1073.12 C1368.05,1073.85 1369.18,1076.13 1369.47,1077.85 C1369.77,1079.57 1369.21,1082.08 1368.25,1083.45 C1367.29,1084.82 1365.74,1085.58 1363.70,1086.08 C1361.66,1086.57 1358.45,1086.57 1356.00,1086.42 C1353.55,1086.28 1350.98,1085.99 1349.00,1085.20 C1347.02,1084.41 1344.33,1082.93 1344.10,1081.70 Z" fill="#111" stroke="none"/>
<path d="M1326.00,1083.00 C1325.33,1079.50 1332.33,1075.00 1336.00,1072.00 C1339.67,1069.00 1342.00,1067.08 1348.00,1065.00 C1354.00,1062.92 1365.00,1060.58 1372.00,1059.50 C1379.00,1058.42 1385.58,1056.42 1390.00,1058.50 C1394.42,1060.58 1397.67,1067.08 1398.50,1072.00 C1399.33,1076.92 1397.75,1084.08 1395.00,1088.00 C1392.25,1091.92 1387.83,1094.08 1382.00,1095.50 C1376.17,1096.92 1367.00,1096.92 1360.00,1096.50 C1353.00,1096.08 1345.67,1095.25 1340.00,1093.00 C1334.33,1090.75 1326.67,1086.50 1326.00,1083.00 Z" fill="none" stroke="#000" stroke-width="0.8"/>
<path d="M1328.72,1082.84 C1328.11,1079.62 1334.55,1075.48 1337.92,1072.72 C1341.29,1069.96 1343.44,1068.20 1348.96,1066.28 C1354.48,1064.36 1364.60,1062.22 1371.04,1061.22 C1377.48,1060.22 1383.54,1058.38 1387.60,1060.30 C1391.66,1062.22 1394.65,1068.20 1395.42,1072.72 C1396.19,1077.24 1394.73,1083.84 1392.20,1087.44 C1389.67,1091.04 1385.61,1093.04 1380.24,1094.34 C1374.87,1095.64 1366.44,1095.64 1360.00,1095.26 C1353.56,1094.88 1346.81,1094.11 1341.60,1092.04 C1336.39,1089.97 1329.33,1086.06 1328.72,1082.84 Z" fill="none" stroke="#000" stroke-width="0.8"/>
<path d="M1331.44,1082.68 C1330.88,1079.74 1336.76,1075.96 1339.84,1073.44 C1342.92,1070.92 1344.88,1069.31 1349.92,1067.56 C1354.96,1065.81 1364.20,1063.85 1370.08,1062.94 C1375.96,1062.03 1381.49,1060.35 1385.20,1062.10 C1388.91,1063.85 1391.64,1069.31 1392.34,1073.44 C1393.04,1077.57 1391.71,1083.59 1389.40,1086.88 C1387.09,1090.17 1383.38,1091.99 1378.48,1093.18 C1373.58,1094.37 1365.88,1094.37 1360.00,1094.02 C1354.12,1093.67 1347.96,1092.97 1343.20,1091.08 C1338.44,1089.19 1332.00,1085.62 1331.44,1082.68 Z" fill="none" stroke="#000" stroke-width="0.8"/>
<path d="M1333.82,1082.54 C1333.31,1079.85 1338.70,1076.38 1341.52,1074.07 C1344.34,1071.76 1346.14,1070.28 1350.76,1068.68 C1355.38,1067.08 1363.85,1065.28 1369.24,1064.44 C1374.63,1063.61 1379.70,1062.07 1383.10,1063.67 C1386.50,1065.28 1389.00,1070.28 1389.64,1074.07 C1390.29,1077.86 1389.07,1083.37 1386.95,1086.39 C1384.83,1089.41 1381.43,1091.07 1376.94,1092.16 C1372.45,1093.26 1365.39,1093.26 1360.00,1092.93 C1354.61,1092.61 1348.96,1091.97 1344.60,1090.24 C1340.24,1088.51 1334.33,1085.23 1333.82,1082.54 Z" fill="none" stroke="#000" stroke-width="0.8"/>
<path d="M1336.20,1082.40 C1335.73,1079.95 1340.63,1076.80 1343.20,1074.70 C1345.77,1072.60 1347.40,1071.26 1351.60,1069.80 C1355.80,1068.34 1363.50,1066.71 1368.40,1065.95 C1373.30,1065.19 1377.91,1063.79 1381.00,1065.25 C1384.09,1066.71 1386.37,1071.26 1386.95,1074.70 C1387.53,1078.14 1386.42,1083.16 1384.50,1085.90 C1382.58,1088.64 1379.48,1090.16 1375.40,1091.15 C1371.32,1092.14 1364.90,1092.14 1360.00,1091.85 C1355.10,1091.56 1349.97,1090.98 1346.00,1089.40 C1342.03,1087.83 1336.67,1084.85 1336.20,1082.40 Z" fill="none" stroke="#000" stroke-width="0.8"/>
<path d="M1338.58,1082.26 C1338.16,1080.06 1342.57,1077.22 1344.88,1075.33 C1347.19,1073.44 1348.66,1072.23 1352.44,1070.92 C1356.22,1069.61 1363.15,1068.14 1367.56,1067.45 C1371.97,1066.77 1376.12,1065.51 1378.90,1066.83 C1381.68,1068.14 1383.73,1072.23 1384.26,1075.33 C1384.78,1078.43 1383.78,1082.94 1382.05,1085.41 C1380.32,1087.88 1377.53,1089.24 1373.86,1090.13 C1370.18,1091.03 1364.41,1091.03 1360.00,1090.77 C1355.59,1090.50 1350.97,1089.98 1347.40,1088.56 C1343.83,1087.14 1339.00,1084.46 1338.58,1082.26 Z" fill="none" stroke="#000" stroke-width="0.8"/>
<path d="M1340.96,1082.12 C1340.59,1080.16 1344.51,1077.64 1346.56,1075.96 C1348.61,1074.28 1349.92,1073.21 1353.28,1072.04 C1356.64,1070.87 1362.80,1069.57 1366.72,1068.96 C1370.64,1068.35 1374.33,1067.23 1376.80,1068.40 C1379.27,1069.57 1381.09,1073.21 1381.56,1075.96 C1382.03,1078.71 1381.14,1082.73 1379.60,1084.92 C1378.06,1087.11 1375.59,1088.33 1372.32,1089.12 C1369.05,1089.91 1363.92,1089.91 1360.00,1089.68 C1356.08,1089.45 1351.97,1088.98 1348.80,1087.72 C1345.63,1086.46 1341.33,1084.08 1340.96,1082.12 Z" fill="none" stroke="#000" stroke-width="0.8"/>
<path d="M1343.34,1081.98 C1343.01,1080.26 1346.44,1078.06 1348.24,1076.59 C1350.04,1075.12 1351.18,1074.18 1354.12,1073.16 C1357.06,1072.14 1362.45,1071.00 1365.88,1070.46 C1369.31,1069.93 1372.54,1068.95 1374.70,1069.97 C1376.86,1071.00 1378.46,1074.18 1378.87,1076.59 C1379.27,1079.00 1378.50,1082.51 1377.15,1084.43 C1375.80,1086.35 1373.64,1087.41 1370.78,1088.11 C1367.92,1088.80 1363.43,1088.80 1360.00,1088.60 C1356.57,1088.39 1352.98,1087.98 1350.20,1086.88 C1347.42,1085.78 1343.67,1083.70 1343.34,1081.98 Z" fill="none" stroke="#000" stroke-width="0.8"/>
<path d="M1345.72,1081.84 C1345.44,1080.37 1348.38,1078.48 1349.92,1077.22 C1351.46,1075.96 1352.44,1075.15 1354.96,1074.28 C1357.48,1073.40 1362.10,1072.42 1365.04,1071.97 C1367.98,1071.52 1370.74,1070.67 1372.60,1071.55 C1374.45,1072.42 1375.82,1075.15 1376.17,1077.22 C1376.52,1079.29 1375.86,1082.30 1374.70,1083.94 C1373.55,1085.59 1371.69,1086.49 1369.24,1087.09 C1366.79,1087.68 1362.94,1087.68 1360.00,1087.51 C1357.06,1087.34 1353.98,1086.98 1351.60,1086.04 C1349.22,1085.10 1346.00,1083.31 1345.72,1081.84 Z" fill="none" stroke="#000" stroke-width="0.8"/>
<ellipse cx="1354" cy="1081" rx="5.5" ry="2.2" fill="#fff"/>
<polygon points="1232.9,942.9 1323.2,941.1 1285.7,1065.4 1260.0,1065.4" fill="none" stroke="#000" stroke-width="3" stroke-linejoin="miter"/>
<polygon points="1291.1,1066.4 1425.7,1022.5 1425.7,1112.5 1291.1,1097.5" fill="none" stroke="#000" stroke-width="3" stroke-linejoin="miter"/>
<text x="1516.5" y="564.0" font-size="42.5" font-weight="bold" fill="#000">E</text>
<text x="1574.0" y="1086.7" font-size="17.5" text-anchor="end" fill="#151515">0</text>
<text x="1574.0" y="1044.1" font-size="17.5" text-anchor="end" fill="#151515">5</text>
<text x="1574.0" y="1001.6" font-size="17.5" text-anchor="end" fill="#151515">10</text>
<text x="1574.0" y="959.0" font-size="17.5" text-anchor="end" fill="#151515">15</text>
<text x="1574.0" y="916.4" font-size="17.5" text-anchor="end" fill="#151515">20</text>
<text x="1574.0" y="873.9" font-size="17.5" text-anchor="end" fill="#151515">25</text>
<text x="1574.0" y="831.3" font-size="17.5" text-anchor="end" fill="#151515">30</text>
<text x="1574.0" y="788.7" font-size="17.5" text-anchor="end" fill="#151515">35</text>
<text x="1574.0" y="746.1" font-size="17.5" text-anchor="end" fill="#151515">40</text>
<text x="1574.0" y="703.6" font-size="17.5" text-anchor="end" fill="#151515">45</text>
<text x="1574.0" y="661.0" font-size="17.5" text-anchor="end" fill="#151515">50</text>
<path d="M1586.8,653.8 V1080.5 M1580,1080.5 H1780 M1580.0,1080.50 H1586.8 M1580.0,1037.93 H1586.8 M1580.0,995.36 H1586.8 M1580.0,952.79 H1586.8 M1580.0,910.22 H1586.8 M1580.0,867.65 H1586.8 M1580.0,825.08 H1586.8 M1580.0,782.51 H1586.8 M1580.0,739.94 H1586.8 M1580.0,697.37 H1586.8 M1580.0,654.80 H1586.8 M1618.5,1080.5 v6.8 M1682.9,1080.5 v6.8 M1747.2,1080.5 v6.8" stroke="#000" stroke-width="2" fill="none"/>
<line x1="1683.15" y1="684.599" x2="1683.15" y2="927.248" stroke="#000" stroke-width="2"/>
<line x1="1671.3500000000001" y1="684.599" x2="1694.95" y2="684.599" stroke="#000" stroke-width="2"/>
<line x1="1671.3500000000001" y1="927.248" x2="1694.95" y2="927.248" stroke="#000" stroke-width="2"/>
<rect x="1661.6" y="694.82" width="43.100000000000136" height="221.36" fill="#80c07c" stroke="#000" stroke-width="2"/>
<line x1="1661.6" y1="805.50" x2="1704.7" y2="805.50" stroke="#000" stroke-width="2"/>
<circle cx="1683.15" cy="684.60" r="4.4" fill="none" stroke="#000" stroke-width="2"/>
<circle cx="1683.15" cy="722.91" r="4.4" fill="none" stroke="#000" stroke-width="2"/>
<circle cx="1683.15" cy="886.38" r="4.4" fill="none" stroke="#000" stroke-width="2"/>
<circle cx="1683.15" cy="927.25" r="4.4" fill="none" stroke="#000" stroke-width="2"/>
<line x1="1747.6" y1="842.108" x2="1747.6" y2="1002.1712" stroke="#000" stroke-width="2"/>
<line x1="1735.8" y1="842.108" x2="1759.3999999999999" y2="842.108" stroke="#000" stroke-width="2"/>
<line x1="1735.8" y1="1002.1712" x2="1759.3999999999999" y2="1002.1712" stroke="#000" stroke-width="2"/>
<rect x="1726" y="856.58" width="43.200000000000045" height="132.82" fill="#1e7a3d" stroke="#000" stroke-width="2"/>
<line x1="1726" y1="922.99" x2="1769.2" y2="922.99" stroke="#000" stroke-width="2"/>
<circle cx="1747.6" cy="842.11" r="4.4" fill="none" stroke="#000" stroke-width="2"/>
<circle cx="1747.6" cy="890.64" r="4.4" fill="none" stroke="#000" stroke-width="2"/>
<circle cx="1747.6" cy="954.49" r="4.4" fill="none" stroke="#000" stroke-width="2"/>
<circle cx="1747.6" cy="1002.17" r="4.4" fill="none" stroke="#000" stroke-width="2"/>
<rect x="1600" y="1072.3" width="40" height="4.5" fill="#000"/>
<circle cx="1602.7" cy="1074.5" r="4.4" fill="none" stroke="#000" stroke-width="2"/>
<circle cx="1613.5" cy="1078.6" r="4.4" fill="none" stroke="#000" stroke-width="2"/>
<circle cx="1624.3" cy="1072.5" r="4.4" fill="none" stroke="#000" stroke-width="2"/>
<circle cx="1634.5" cy="1071.2" r="4.4" fill="none" stroke="#000" stroke-width="2"/>
<path d="M1617,649.3 V640 H1681.6 V649.3 M1617,649.3 V625.3 H1748.4 V786.2" stroke="#000" stroke-width="1" fill="none"/>
<text x="1647.7" y="673.9" font-size="16.8" fill="#151515">p=0.0019</text>
<text x="1718.5" y="820.1" font-size="16.8" fill="#151515">p=0.044</text>
<text x="1508.5" y="871.6" font-size="23.8" text-anchor="middle" fill="#1a1a1a" transform="rotate(-90 1508.5 871.6)">Target-to-competitor ratio</text>
<text x="1537" y="871.6" font-size="23.8" text-anchor="middle" fill="#1a1a1a" transform="rotate(-90 1537 871.6)">normalized to input</text>
<text x="1627.5" y="1104.5" font-size="24" text-anchor="end" fill="#1a1a1a" transform="rotate(-45 1627.5 1104.5)">shControl</text>
<text x="1691.9" y="1104.5" font-size="24" text-anchor="end" fill="#1a1a1a" transform="rotate(-45 1691.9 1104.5)">shKdm5c-I</text>
<text x="1756.2" y="1104.5" font-size="24" text-anchor="end" fill="#1a1a1a" transform="rotate(-45 1756.2 1104.5)">shKdm5c-II</text>
<text x="-0.6" y="1268.5" font-size="42.5" font-weight="bold" fill="#000">F</text>
<text x="386.5" y="1282.3" font-size="24.5" text-anchor="middle" font-weight="bold" fill="#000">Lp30 Survival assay</text>
<path d="M161.9,1309.5 V1740.6 M160.9,1740.6 H811.9 M156.1,1740.60 H161.9 M158.6,1719.09 H161.9 M158.6,1697.59 H161.9 M158.6,1676.08 H161.9 M158.6,1654.58 H161.9 M156.1,1633.07 H161.9 M158.6,1611.57 H161.9 M158.6,1590.06 H161.9 M158.6,1568.56 H161.9 M158.6,1547.05 H161.9 M156.1,1525.55 H161.9 M158.6,1504.04 H161.9 M158.6,1482.54 H161.9 M158.6,1461.03 H161.9 M158.6,1439.53 H161.9 M156.1,1418.02 H161.9 M158.6,1396.52 H161.9 M158.6,1375.01 H161.9 M158.6,1353.51 H161.9 M158.6,1332.00 H161.9 M156.1,1310.50 H161.9 M161.90,1740.6 v5.8 M178.12,1740.6 v3.3 M194.35,1740.6 v3.3 M210.58,1740.6 v3.3 M226.80,1740.6 v3.3 M243.03,1740.6 v5.8 M259.25,1740.6 v3.3 M275.48,1740.6 v3.3 M291.70,1740.6 v3.3 M307.93,1740.6 v3.3 M324.15,1740.6 v5.8 M340.38,1740.6 v3.3 M356.60,1740.6 v3.3 M372.83,1740.6 v3.3 M389.05,1740.6 v3.3 M405.28,1740.6 v5.8 M421.50,1740.6 v3.3 M437.73,1740.6 v3.3 M453.95,1740.6 v3.3 M470.18,1740.6 v3.3 M486.40,1740.6 v5.8 M502.62,1740.6 v3.3 M518.85,1740.6 v3.3 M535.08,1740.6 v3.3 M551.30,1740.6 v3.3 M567.53,1740.6 v5.8 M583.75,1740.6 v3.3 M599.98,1740.6 v3.3 M616.20,1740.6 v3.3 M632.43,1740.6 v3.3 M648.65,1740.6 v5.8 M664.88,1740.6 v3.3 M681.10,1740.6 v3.3 M697.33,1740.6 v3.3 M713.55,1740.6 v3.3 M729.77,1740.6 v5.8 M746.00,1740.6 v3.3 M762.23,1740.6 v3.3 M778.45,1740.6 v3.3 M794.68,1740.6 v3.3 M810.90,1740.6 v5.8" stroke="#000" stroke-width="2" fill="none"/>
<text x="147.8" y="1746.6" font-size="16.8" text-anchor="end" fill="#151515">0</text>
<text x="147.8" y="1639.1" font-size="16.8" text-anchor="end" fill="#151515">25</text>
<text x="147.8" y="1531.5" font-size="16.8" text-anchor="end" fill="#151515">50</text>
<text x="147.8" y="1424.0" font-size="16.8" text-anchor="end" fill="#151515">75</text>
<text x="147.8" y="1316.5" font-size="16.8" text-anchor="end" fill="#151515">100</text>
<text x="159.9" y="1771.0" font-size="16.8" text-anchor="middle" fill="#151515">0</text>
<text x="241.0" y="1771.0" font-size="16.8" text-anchor="middle" fill="#151515">10</text>
<text x="322.1" y="1771.0" font-size="16.8" text-anchor="middle" fill="#151515">20</text>
<text x="403.3" y="1771.0" font-size="16.8" text-anchor="middle" fill="#151515">30</text>
<text x="484.4" y="1771.0" font-size="16.8" text-anchor="middle" fill="#151515">40</text>
<text x="565.5" y="1771.0" font-size="16.8" text-anchor="middle" fill="#151515">50</text>
<text x="646.7" y="1771.0" font-size="16.8" text-anchor="middle" fill="#151515">60</text>
<text x="727.8" y="1771.0" font-size="16.8" text-anchor="middle" fill="#151515">70</text>
<text x="808.9" y="1771.0" font-size="16.8" text-anchor="middle" fill="#151515">80</text>
<text x="479.0" y="1804.0" font-size="23.5" text-anchor="middle" fill="#151515">Days post BMT</text>
<text x="114" y="1533.7" font-size="23.5" text-anchor="middle" fill="#1a1a1a" transform="rotate(-90 114 1533.7)">Percent survival</text>
<path d="M445.84,1310.50 L445.84,1364.26 L470.18,1364.26 L470.18,1418.02 L478.29,1418.02 L478.29,1471.79 L502.62,1471.79 L502.62,1525.55 L510.74,1525.55 L510.74,1579.31 L518.85,1579.31 L518.85,1686.84 L559.41,1686.84 L559.41,1740.60" stroke="#1d7b3e" stroke-width="5" fill="none" stroke-dasharray="0 7.9" stroke-linecap="round"/>
<path d="M161.90,1310.50 L453.95,1310.50 L453.95,1364.26 L478.29,1364.26 L478.29,1418.02 L494.51,1418.02 L494.51,1525.55 L502.62,1525.55 L502.62,1579.31 L518.85,1579.31 L518.85,1686.84 L543.19,1686.84 L543.19,1740.60" stroke="#1d7b3e" stroke-width="5" fill="none" stroke-linejoin="miter"/>
<path d="M161.90,1310.50 L526.96,1310.50 L526.96,1364.26 L543.19,1364.26 L543.19,1525.55 L552.11,1525.55 L552.11,1579.31 L592.67,1579.31 L592.67,1686.84 L786.56,1686.84 L786.56,1740.60" stroke="#772683" stroke-width="4.6" fill="none"/>
<line x1="187" y1="1640.5" x2="212" y2="1640.5" stroke="#772683" stroke-width="4.3" stroke-linecap="round"/>
<line x1="188.5" y1="1675.4" x2="206" y2="1675.4" stroke="#1d7b3e" stroke-width="4.3" stroke-dasharray="0 8.6" stroke-linecap="round"/>
<line x1="187" y1="1710.3" x2="212" y2="1710.3" stroke="#1d7b3e" stroke-width="4.3" stroke-linecap="round"/>
<text x="221.9" y="1648.2" font-size="20.4" fill="#151515">shControl (n=8)</text>
<text x="221.9" y="1683.4" font-size="20.4" fill="#151515">shKdm5c-I (n=8)</text>
<text x="221.9" y="1718.2" font-size="20.4" fill="#151515">shKdm5c-II (n=8)</text>
<path d="M394.2,1637 H397.8 V1715.9 H394.2 M402.5,1636.4 H406 V1676 H402.5" stroke="#000" stroke-width="1" fill="none"/>
<text x="414.9" y="1657.6" font-size="20.3" fill="#151515">p= 0.0023</text>
<text x="414.9" y="1708.5" font-size="20.3" fill="#151515">p= 0.0006</text>
<text x="926.0" y="1267.0" font-size="42.5" font-weight="bold" fill="#000">G</text>
<text x="1327.8" y="1282.5" font-size="24.4" text-anchor="middle" font-weight="bold" fill="#000">Kdm5 expression</text>
<path d="M1100.4,1330.2 V1740.7 M1096,1740.7 H1583.2 M1094.4,1740.70 H1100.4 M1096.9,1720.23 H1100.4 M1096.9,1699.75 H1100.4 M1096.9,1679.28 H1100.4 M1096.9,1658.80 H1100.4 M1094.4,1638.33 H1100.4 M1096.9,1617.85 H1100.4 M1096.9,1597.38 H1100.4 M1096.9,1576.90 H1100.4 M1096.9,1556.42 H1100.4 M1094.4,1535.95 H1100.4 M1096.9,1515.47 H1100.4 M1096.9,1495.00 H1100.4 M1096.9,1474.53 H1100.4 M1096.9,1454.05 H1100.4 M1094.4,1433.58 H1100.4 M1096.9,1413.10 H1100.4 M1096.9,1392.62 H1100.4 M1096.9,1372.15 H1100.4 M1096.9,1351.68 H1100.4 M1094.4,1331.20 H1100.4 M1175.9,1740.7 v6.5 M1341.8,1740.7 v6.5 M1507.8,1740.7 v6.5" stroke="#000" stroke-width="2" fill="none"/>
<text x="1087.8" y="1746.5" font-size="16.4" text-anchor="end" fill="#151515">0.0</text>
<text x="1087.8" y="1644.1" font-size="16.4" text-anchor="end" fill="#151515">0.5</text>
<text x="1087.8" y="1541.8" font-size="16.4" text-anchor="end" fill="#151515">1.0</text>
<text x="1087.8" y="1439.4" font-size="16.4" text-anchor="end" fill="#151515">1.5</text>
<text x="1087.8" y="1337.0" font-size="16.4" text-anchor="end" fill="#151515">2.0</text>
<line x1="1131.7" y1="1535.95" x2="1131.7" y2="1495.00" stroke="#000" stroke-width="2"/>
<line x1="1123.5" y1="1495.00" x2="1139.9" y2="1495.00" stroke="#000" stroke-width="2"/>
<rect x="1116.4" y="1535.95" width="30.6" height="204.75" fill="#77287f" stroke="#000" stroke-width="2"/>
<circle cx="1131.70" cy="1490.90" r="3.6" fill="none" stroke="#000" stroke-width="1.8"/>
<circle cx="1131.70" cy="1552.33" r="3.6" fill="none" stroke="#000" stroke-width="1.8"/>
<circle cx="1131.70" cy="1564.62" r="3.6" fill="none" stroke="#000" stroke-width="1.8"/>
<line x1="1176.1" y1="1558.47" x2="1176.1" y2="1529.81" stroke="#000" stroke-width="2"/>
<line x1="1167.8999999999999" y1="1529.81" x2="1184.3" y2="1529.81" stroke="#000" stroke-width="2"/>
<rect x="1160.8" y="1558.47" width="30.6" height="182.23" fill="#80c07c" stroke="#000" stroke-width="2"/>
<circle cx="1176.10" cy="1526.74" r="3.6" fill="none" stroke="#000" stroke-width="1.8"/>
<circle cx="1176.10" cy="1570.76" r="3.6" fill="none" stroke="#000" stroke-width="1.8"/>
<circle cx="1176.10" cy="1581.00" r="3.6" fill="none" stroke="#000" stroke-width="1.8"/>
<line x1="1221.3" y1="1535.95" x2="1221.3" y2="1503.19" stroke="#000" stroke-width="2"/>
<line x1="1213.1" y1="1503.19" x2="1229.5" y2="1503.19" stroke="#000" stroke-width="2"/>
<rect x="1206" y="1535.95" width="30.6" height="204.75" fill="#1e7a3d" stroke="#000" stroke-width="2"/>
<circle cx="1221.30" cy="1500.12" r="3.6" fill="none" stroke="#000" stroke-width="1.8"/>
<circle cx="1221.30" cy="1544.14" r="3.6" fill="none" stroke="#000" stroke-width="1.8"/>
<circle cx="1221.30" cy="1563.59" r="3.6" fill="none" stroke="#000" stroke-width="1.8"/>
<line x1="1296.8" y1="1535.95" x2="1296.8" y2="1513.43" stroke="#000" stroke-width="2"/>
<line x1="1288.6" y1="1513.43" x2="1305.0" y2="1513.43" stroke="#000" stroke-width="2"/>
<rect x="1281.5" y="1535.95" width="30.6" height="204.75" fill="#77287f" stroke="#000" stroke-width="2"/>
<circle cx="1296.80" cy="1513.43" r="3.6" fill="none" stroke="#000" stroke-width="1.8"/>
<circle cx="1296.80" cy="1531.86" r="3.6" fill="none" stroke="#000" stroke-width="1.8"/>
<circle cx="1296.80" cy="1560.52" r="3.6" fill="none" stroke="#000" stroke-width="1.8"/>
<line x1="1342.0" y1="1560.52" x2="1342.0" y2="1533.90" stroke="#000" stroke-width="2"/>
<line x1="1333.8" y1="1533.90" x2="1350.2" y2="1533.90" stroke="#000" stroke-width="2"/>
<rect x="1326.7" y="1560.52" width="30.6" height="180.18" fill="#80c07c" stroke="#000" stroke-width="2"/>
<circle cx="1342.00" cy="1536.97" r="3.6" fill="none" stroke="#000" stroke-width="1.8"/>
<circle cx="1342.00" cy="1555.40" r="3.6" fill="none" stroke="#000" stroke-width="1.8"/>
<circle cx="1342.00" cy="1589.18" r="3.6" fill="none" stroke="#000" stroke-width="1.8"/>
<line x1="1386.3999999999999" y1="1542.09" x2="1386.3999999999999" y2="1492.95" stroke="#000" stroke-width="2"/>
<line x1="1378.1999999999998" y1="1492.95" x2="1394.6" y2="1492.95" stroke="#000" stroke-width="2"/>
<rect x="1371.1" y="1542.09" width="30.6" height="198.61" fill="#1e7a3d" stroke="#000" stroke-width="2"/>
<circle cx="1386.40" cy="1488.86" r="3.6" fill="none" stroke="#000" stroke-width="1.8"/>
<circle cx="1386.40" cy="1555.40" r="3.6" fill="none" stroke="#000" stroke-width="1.8"/>
<circle cx="1386.40" cy="1582.02" r="3.6" fill="none" stroke="#000" stroke-width="1.8"/>
<line x1="1461.8999999999999" y1="1535.95" x2="1461.8999999999999" y2="1515.47" stroke="#000" stroke-width="2"/>
<line x1="1453.6999999999998" y1="1515.47" x2="1470.1" y2="1515.47" stroke="#000" stroke-width="2"/>
<rect x="1446.6" y="1535.95" width="30.6" height="204.75" fill="#77287f" stroke="#000" stroke-width="2"/>
<circle cx="1461.90" cy="1513.43" r="3.6" fill="none" stroke="#000" stroke-width="1.8"/>
<circle cx="1467.50" cy="1543.12" r="3.6" fill="none" stroke="#000" stroke-width="1.8"/>
<circle cx="1457.30" cy="1552.33" r="3.6" fill="none" stroke="#000" stroke-width="1.8"/>
<line x1="1507.1" y1="1666.99" x2="1507.1" y2="1648.56" stroke="#000" stroke-width="2"/>
<line x1="1498.8999999999999" y1="1648.56" x2="1515.3" y2="1648.56" stroke="#000" stroke-width="2"/>
<rect x="1491.8" y="1666.99" width="30.6" height="73.71" fill="#80c07c" stroke="#000" stroke-width="2"/>
<circle cx="1507.10" cy="1648.56" r="3.6" fill="none" stroke="#000" stroke-width="1.8"/>
<circle cx="1507.10" cy="1666.99" r="3.6" fill="none" stroke="#000" stroke-width="1.8"/>
<circle cx="1507.10" cy="1685.42" r="3.6" fill="none" stroke="#000" stroke-width="1.8"/>
<line x1="1551.8999999999999" y1="1658.80" x2="1551.8999999999999" y2="1640.37" stroke="#000" stroke-width="2"/>
<line x1="1543.6999999999998" y1="1640.37" x2="1560.1" y2="1640.37" stroke="#000" stroke-width="2"/>
<rect x="1536.6" y="1658.80" width="30.6" height="81.90" fill="#1e7a3d" stroke="#000" stroke-width="2"/>
<circle cx="1551.90" cy="1639.35" r="3.6" fill="none" stroke="#000" stroke-width="1.8"/>
<circle cx="1551.90" cy="1658.80" r="3.6" fill="none" stroke="#000" stroke-width="1.8"/>
<circle cx="1551.90" cy="1675.18" r="3.6" fill="none" stroke="#000" stroke-width="1.8"/>
<rect x="1122.3" y="1324.5" width="25.4" height="13.8" fill="#77287f" stroke="#000" stroke-width="1.6"/>
<text x="1157.8" y="1337.4" font-size="20.3" fill="#151515">shControl</text>
<rect x="1122.3" y="1355.9" width="25.4" height="13.8" fill="#80c07c" stroke="#000" stroke-width="1.6"/>
<text x="1157.8" y="1368.8" font-size="20.3" fill="#151515">shKdm5c-I</text>
<rect x="1122.3" y="1387.3" width="25.4" height="13.8" fill="#1e7a3d" stroke="#000" stroke-width="1.6"/>
<text x="1157.8" y="1400.2" font-size="20.3" fill="#151515">shKdm5c-II</text>
<path d="M1127.2,1443.7 H1219 M1127.2,1485 V1481.6 H1176 V1485 M1295.7,1439.8 H1387.1 M1297,1485 V1481.6 H1346 V1485 M1456,1461.4 V1439.8 H1552.2 V1615.7 M1460.3,1495.9 V1492.8 H1509 V1625.2" stroke="#000" stroke-width="1.1" fill="none"/>
<text x="1174.6" y="1439.8" font-size="20.3" text-anchor="middle" fill="#151515">p=1</text>
<text x="1125.0" y="1471.3" font-size="20.3" fill="#151515">p=0.65</text>
<text x="1344.8" y="1436.4" font-size="20.3" text-anchor="middle" fill="#151515">p=0.97</text>
<text x="1294.4" y="1474.3" font-size="20.3" fill="#151515">p=0.62</text>
<text x="1460.3" y="1434.2" font-size="20.3" fill="#151515">p=0.0005</text>
<text x="1460.3" y="1486.0" font-size="20.3" fill="#151515">p=0.0003</text>
<text x="1027" y="1541" font-size="23.7" text-anchor="middle" fill="#1a1a1a" transform="rotate(-90 1027 1541)">Relative expression</text>
<text x="1053" y="1541" font-size="23.7" text-anchor="middle" fill="#1a1a1a" transform="rotate(-90 1053 1541)">Normalized to <tspan font-style="italic">Actb</tspan></text>
<text x="1183.9" y="1760.7" font-size="23.5" text-anchor="end" fill="#1a1a1a" transform="rotate(-45 1183.9 1760.7)">Kdm5a</text>
<text x="1349.8" y="1760.7" font-size="23.5" text-anchor="end" fill="#1a1a1a" transform="rotate(-45 1349.8 1760.7)">Kdm5b</text>
<text x="1515.8" y="1760.7" font-size="23.5" text-anchor="end" fill="#1a1a1a" transform="rotate(-45 1515.8 1760.7)">Kdm5c</text>
<text x="-0.8" y="1884.0" font-size="42.5" font-weight="bold" fill="#000">H</text>
<text x="428.9" y="1968" font-size="24.4" font-weight="bold" text-anchor="middle" fill="#000">inv(16)/Tet2<tspan font-size="14" dy="-8">-/-</tspan><tspan dy="8" dx="-1"> survival assay</tspan></text>
<path d="M161.6,2002.78 V2421 M160.6,2421 H683.2 M155.79999999999998,2421.00 H161.6 M158.29999999999998,2400.14 H161.6 M158.29999999999998,2379.28 H161.6 M158.29999999999998,2358.42 H161.6 M158.29999999999998,2337.56 H161.6 M155.79999999999998,2316.70 H161.6 M158.29999999999998,2295.83 H161.6 M158.29999999999998,2274.97 H161.6 M158.29999999999998,2254.11 H161.6 M158.29999999999998,2233.25 H161.6 M155.79999999999998,2212.39 H161.6 M158.29999999999998,2191.53 H161.6 M158.29999999999998,2170.67 H161.6 M158.29999999999998,2149.81 H161.6 M158.29999999999998,2128.95 H161.6 M155.79999999999998,2108.09 H161.6 M158.29999999999998,2087.22 H161.6 M158.29999999999998,2066.36 H161.6 M158.29999999999998,2045.50 H161.6 M158.29999999999998,2024.64 H161.6 M155.79999999999998,2003.78 H161.6 M161.60,2421 v6 M361.40,2421 v6 M561.20,2421 v6" stroke="#000" stroke-width="2" fill="none"/>
<text x="140.5" y="2427.0" font-size="16.8" text-anchor="end" fill="#151515">0</text>
<text x="140.5" y="2322.7" font-size="16.8" text-anchor="end" fill="#151515">25</text>
<text x="140.5" y="2218.4" font-size="16.8" text-anchor="end" fill="#151515">50</text>
<text x="140.5" y="2114.1" font-size="16.8" text-anchor="end" fill="#151515">75</text>
<text x="140.5" y="2009.8" font-size="16.8" text-anchor="end" fill="#151515">100</text>
<text x="156.6" y="2454.2" font-size="16.8" text-anchor="middle" fill="#151515">0</text>
<text x="356.4" y="2454.2" font-size="16.8" text-anchor="middle" fill="#151515">10</text>
<text x="556.2" y="2454.2" font-size="16.8" text-anchor="middle" fill="#151515">20</text>
<text x="399.4" y="2482.2" font-size="23.5" text-anchor="middle" fill="#151515">Days post BMT</text>
<text x="110.5" y="2235.5" font-size="23.5" text-anchor="middle" fill="#1a1a1a" transform="rotate(-90 110.5 2235.5)">Percent survival</text>
<path d="M501.26,2003.78 L501.26,2123.10 L522.24,2123.10 L522.24,2301.68 L541.22,2301.68 L541.22,2361.34 L561.20,2361.34 L561.20,2421.00" stroke="#1e7b3c" stroke-width="5.6" fill="none"/>
<path d="M161.60,2003.78 L541.22,2003.78 L541.22,2055.93 L581.18,2055.93 L581.18,2108.09 L601.16,2108.09 L601.16,2212.39 L641.12,2212.39 L641.12,2368.85 L661.10,2368.85 L661.10,2421.00" stroke="#772683" stroke-width="5.6" fill="none"/>
<line x1="195" y1="2291.7" x2="231.3" y2="2291.7" stroke="#1e7b3c" stroke-width="5.6" stroke-linecap="round"/>
<line x1="195" y1="2335.7" x2="231.3" y2="2335.7" stroke="#772683" stroke-width="5.6" stroke-linecap="round"/>
<text x="243.5" y="2299.0" font-size="20.1" fill="#151515">shKdm5-II (n=7)</text>
<text x="243.5" y="2343.4" font-size="20.1" fill="#151515">shControl (n=8)</text>
<path d="M403,2292.6 H406.5 V2335.7 H403" stroke="#000" stroke-width="1" fill="none"/>
<text x="414.7" y="2319.7" font-size="20.1" fill="#151515">p= 0.0003</text>
<path d="M734.8,1999.2999999999997 V2251.7 M725.3,2251.7 H902.4 M725.3,2251.70 H734.8 M725.3,2209.80 H734.8 M725.3,2167.90 H734.8 M725.3,2126.00 H734.8 M725.3,2084.10 H734.8 M725.3,2042.20 H734.8 M725.3,2000.30 H734.8 M782.9,2251.7 v10 M854.7,2251.7 v10" stroke="#000" stroke-width="1.9" fill="none"/>
<text x="717.8" y="2257.2" font-size="16.3" text-anchor="end" fill="#151515">0.0</text>
<text x="717.8" y="2215.3" font-size="16.3" text-anchor="end" fill="#151515">0.2</text>
<text x="717.8" y="2173.4" font-size="16.3" text-anchor="end" fill="#151515">0.4</text>
<text x="717.8" y="2131.5" font-size="16.3" text-anchor="end" fill="#151515">0.6</text>
<text x="717.8" y="2089.6" font-size="16.3" text-anchor="end" fill="#151515">0.8</text>
<text x="717.8" y="2047.7" font-size="16.3" text-anchor="end" fill="#151515">1.0</text>
<text x="717.8" y="2005.8" font-size="16.3" text-anchor="end" fill="#151515">1.2</text>
<rect x="760.7" y="2042.20" width="45.2" height="209.50" fill="#77287f" stroke="#000" stroke-width="1.9"/>
<rect x="832.2" y="2188.85" width="45.7" height="62.85" fill="#168016" stroke="#000" stroke-width="1.9"/>
<path d="M782.9,2029.63 V2054.77 M770.4,2029.63 h25 M770.4,2054.77 h25" stroke="#000" stroke-width="1.9" fill="none"/>
<circle cx="782.9" cy="2029.63" r="3.4" fill="#000"/>
<circle cx="782.9" cy="2042.20" r="3.4" fill="#000"/>
<circle cx="782.9" cy="2054.77" r="3.4" fill="#000"/>
<path d="M854.7,2176.28 V2199.32 M842.2,2176.28 h25 M842.2,2199.32 h25" stroke="#000" stroke-width="1.9" fill="none"/>
<circle cx="854.7" cy="2176.28" r="3.4" fill="#000"/>
<circle cx="854.7" cy="2188.85" r="3.4" fill="#000"/>
<circle cx="854.7" cy="2199.32" r="3.4" fill="#000"/>
<path d="M782.9,2015.9 V2000.7 H855 V2162.4" stroke="#000" stroke-width="1.6" fill="none"/>
<text x="769" y="1987.4" font-size="20.4" fill="#1a1a1a">p<tspan dx="3">&lt;0.0001</tspan></text>
<text x="682" y="2125" font-size="16.3" text-anchor="middle" fill="#1a1a1a" transform="rotate(-90 682 2125)">Relative expression</text>
<text x="785.9" y="2275.7" font-size="17.2" text-anchor="end" fill="#1a1a1a" transform="rotate(-45 785.9 2275.7)">shControl</text>
<text x="857.7" y="2275.7" font-size="17.2" text-anchor="end" fill="#1a1a1a" transform="rotate(-45 857.7 2275.7)">shKdm5c-II</text>
<text x="936.0" y="1883.0" font-size="42.5" font-weight="bold" fill="#000">I</text>
<text x="1321.5" y="1968" font-size="24.4" font-weight="bold" text-anchor="middle" fill="#000">inv(16)/Tet2<tspan font-size="14" dy="-8">-/-</tspan><tspan dy="8" dx="-2"> in vitro</tspan></text>
<text x="1324.0" y="1997.3" font-size="24.4" text-anchor="middle" font-weight="bold" fill="#000">competitive assay</text>
<path d="M1102.6,2003.04 V2421.9 M1101.6,2421.9 H1559.5 M1096.6,2421.90 H1102.6 M1099.3,2398.63 H1102.6 M1099.3,2375.36 H1102.6 M1099.3,2352.09 H1102.6 M1099.3,2328.82 H1102.6 M1096.6,2305.55 H1102.6 M1099.3,2282.28 H1102.6 M1099.3,2259.01 H1102.6 M1099.3,2235.74 H1102.6 M1099.3,2212.47 H1102.6 M1096.6,2189.20 H1102.6 M1099.3,2165.93 H1102.6 M1099.3,2142.66 H1102.6 M1099.3,2119.39 H1102.6 M1099.3,2096.12 H1102.6 M1096.6,2072.85 H1102.6 M1099.3,2049.58 H1102.6 M1099.3,2026.31 H1102.6 M1099.3,2003.04 H1102.6 M1102.60,2421.9 v6 M1127.93,2421.9 v3.3 M1153.26,2421.9 v6 M1178.59,2421.9 v3.3 M1203.92,2421.9 v6 M1229.25,2421.9 v3.3 M1254.58,2421.9 v6 M1279.91,2421.9 v3.3 M1305.24,2421.9 v6 M1330.57,2421.9 v3.3 M1355.90,2421.9 v6 M1381.23,2421.9 v3.3 M1406.56,2421.9 v6 M1431.89,2421.9 v3.3 M1457.22,2421.9 v6 M1482.55,2421.9 v3.3 M1507.88,2421.9 v6 M1533.21,2421.9 v3.3 M1558.54,2421.9 v6" stroke="#000" stroke-width="2" fill="none"/>
<text x="1090.0" y="2427.4" font-size="15.5" text-anchor="end" fill="#151515">0</text>
<text x="1090.0" y="2311.1" font-size="15.5" text-anchor="end" fill="#151515">5</text>
<text x="1090.0" y="2194.7" font-size="15.5" text-anchor="end" fill="#151515">10</text>
<text x="1090.0" y="2078.3" font-size="15.5" text-anchor="end" fill="#151515">15</text>
<text x="1102.6" y="2450.0" font-size="15.5" text-anchor="middle" fill="#151515">0</text>
<text x="1153.3" y="2450.0" font-size="15.5" text-anchor="middle" fill="#151515">2</text>
<text x="1203.9" y="2450.0" font-size="15.5" text-anchor="middle" fill="#151515">4</text>
<text x="1254.6" y="2450.0" font-size="15.5" text-anchor="middle" fill="#151515">6</text>
<text x="1305.2" y="2450.0" font-size="15.5" text-anchor="middle" fill="#151515">8</text>
<text x="1355.9" y="2450.0" font-size="15.5" text-anchor="middle" fill="#151515">10</text>
<text x="1406.6" y="2450.0" font-size="15.5" text-anchor="middle" fill="#151515">12</text>
<text x="1457.2" y="2450.0" font-size="15.5" text-anchor="middle" fill="#151515">14</text>
<text x="1507.9" y="2450.0" font-size="15.5" text-anchor="middle" fill="#151515">16</text>
<text x="1558.5" y="2450.0" font-size="15.5" text-anchor="middle" fill="#151515">18</text>
<text x="1346.8" y="2484.4" font-size="23.3" text-anchor="middle" fill="#151515">Days in culture</text>
<text x="1033" y="2221" font-size="23.7" text-anchor="middle" fill="#1a1a1a" transform="rotate(-90 1033 2221)">Target-to-competitor ratio</text>
<text x="1058.5" y="2221" font-size="23.7" text-anchor="middle" fill="#1a1a1a" transform="rotate(-90 1058.5 2221)">(normalized to input and control)</text>
<path d="M1381.23,2343.95 V2314.86 M1371.73,2343.95 h19 M1371.73,2314.86 h19" stroke="#000" stroke-width="1.8" fill="none"/>
<path d="M1457.22,2356.74 V2310.20 M1447.72,2356.74 h19 M1447.72,2310.20 h19" stroke="#000" stroke-width="1.8" fill="none"/>
<path d="M1558.54,2245.05 V2047.25 M1549.04,2245.05 h19 M1549.04,2047.25 h19" stroke="#000" stroke-width="1.8" fill="none"/>
<path d="M1457.22,2413.76 V2383.50 M1447.72,2413.76 h19 M1447.72,2383.50 h19" stroke="#000" stroke-width="1.8" fill="none"/>
<path d="M1558.54,2421.90 V2375.36 M1549.04,2421.90 h19 M1549.04,2375.36 h19" stroke="#000" stroke-width="1.8" fill="none"/>
<path d="M1102.60,2398.63 L1305.24,2363.72 L1381.23,2328.82 L1457.22,2333.47 L1558.54,2147.31" stroke="#1d8544" stroke-width="4.3" fill="none"/>
<polygon points="1102.6,2389.6 1111.6,2398.6 1102.6,2407.6 1093.6,2398.6" fill="#1d8544"/>
<polygon points="1305.2,2354.7 1314.2,2363.7 1305.2,2372.7 1296.2,2363.7" fill="#1d8544"/>
<polygon points="1381.2,2319.8 1390.2,2328.8 1381.2,2337.8 1372.2,2328.8" fill="#1d8544"/>
<polygon points="1457.2,2324.5 1466.2,2333.5 1457.2,2342.5 1448.2,2333.5" fill="#1d8544"/>
<polygon points="1558.5,2138.3 1567.5,2147.3 1558.5,2156.3 1549.5,2147.3" fill="#1d8544"/>
<line x1="1102.6" y1="2398.63" x2="1558.54" y2="2398.63" stroke="#842a8b" stroke-width="4.3"/>
<rect x="1094.4" y="2390.4" width="16.4" height="16.4" fill="#842a8b"/>
<rect x="1297.0" y="2390.4" width="16.4" height="16.4" fill="#842a8b"/>
<rect x="1373.0" y="2390.4" width="16.4" height="16.4" fill="#842a8b"/>
<rect x="1449.0" y="2390.4" width="16.4" height="16.4" fill="#842a8b"/>
<rect x="1550.3" y="2390.4" width="16.4" height="16.4" fill="#842a8b"/>
<line x1="1155" y1="2078.4" x2="1182" y2="2078.4" stroke="#842a8b" stroke-width="4.3" stroke-linecap="round"/><rect x="1160" y="2070.2" width="16.4" height="16.4" fill="#842a8b"/>
<line x1="1154.3" y1="2111.6" x2="1182.3" y2="2111.6" stroke="#1d8544" stroke-width="4.3" stroke-linecap="round"/><polygon points="1168.1,2102.6 1177.1,2111.6 1168.1,2120.6 1159.1,2111.6" fill="#1d8544"/>
<text x="1195.3" y="2084.8" font-size="18.9" fill="#151515">shControl</text>
<text x="1195.3" y="2118.0" font-size="18.9" fill="#151515">shKdm5-II</text>
<text x="1263.4" y="2335.7" font-size="19" fill="#151515">p =0.0020</text>
<text x="1338.8" y="2288.3" font-size="19" fill="#151515">p =0.0019</text>
<text x="1415.1" y="2251.6" font-size="19" fill="#151515">p =0.0176</text>
<text x="1517.2" y="2284.0" font-size="19" fill="#151515">p =0.0126</text>
</svg></body></html>
